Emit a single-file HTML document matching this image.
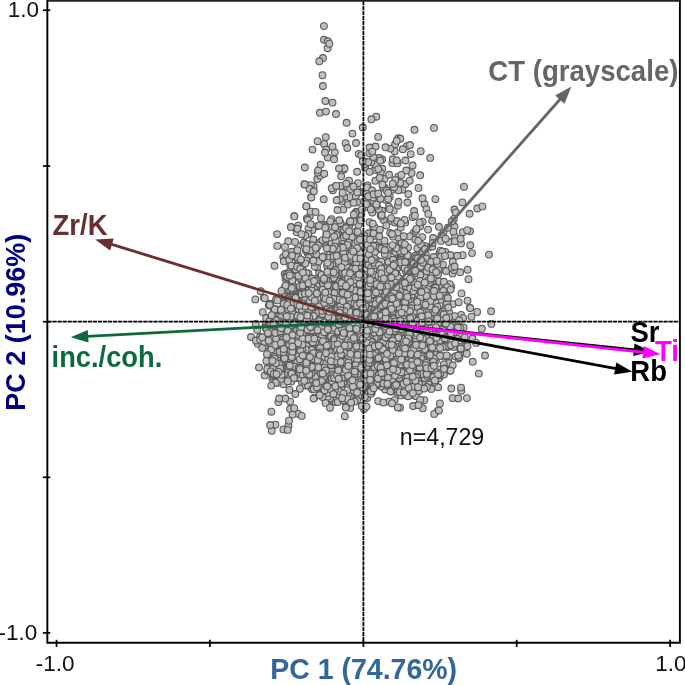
<!DOCTYPE html>
<html lang="en">
<head>
<meta charset="utf-8">
<title>PCA biplot</title>
<style>
html,body{margin:0;padding:0;background:#fff;}
body{width:685px;height:685px;overflow:hidden;}
svg{display:block;}
</style>
</head>
<body>
<svg width="685" height="685" viewBox="0 0 685 685" font-family='"Liberation Sans", Arial, Helvetica, sans-serif'>
<rect width="685" height="685" fill="#ffffff"/>
<g fill="#bfbfbf" stroke="#595959" stroke-width="1.1"><circle cx="305.6" cy="334.9" r="3.4"/><circle cx="431.6" cy="378.3" r="3.4"/><circle cx="257.6" cy="343.8" r="3.4"/><circle cx="365.7" cy="377.1" r="3.4"/><circle cx="421.4" cy="352.3" r="3.4"/><circle cx="318.6" cy="308.6" r="3.4"/><circle cx="326.3" cy="234.1" r="3.4"/><circle cx="375.0" cy="353.9" r="3.4"/><circle cx="389.3" cy="334.0" r="3.4"/><circle cx="371.8" cy="348.3" r="3.4"/><circle cx="420.7" cy="151.2" r="3.4"/><circle cx="416.9" cy="343.8" r="3.4"/><circle cx="370.2" cy="359.0" r="3.4"/><circle cx="381.7" cy="282.9" r="3.4"/><circle cx="328.6" cy="357.7" r="3.4"/><circle cx="397.6" cy="341.1" r="3.4"/><circle cx="325.7" cy="389.0" r="3.4"/><circle cx="401.5" cy="307.2" r="3.4"/><circle cx="315.9" cy="353.7" r="3.4"/><circle cx="337.4" cy="313.2" r="3.4"/><circle cx="339.4" cy="322.7" r="3.4"/><circle cx="363.7" cy="342.4" r="3.4"/><circle cx="283.7" cy="289.7" r="3.4"/><circle cx="348.9" cy="368.8" r="3.4"/><circle cx="364.1" cy="201.3" r="3.4"/><circle cx="403.6" cy="355.1" r="3.4"/><circle cx="370.2" cy="362.1" r="3.4"/><circle cx="407.9" cy="345.6" r="3.4"/><circle cx="365.7" cy="206.7" r="3.4"/><circle cx="296.6" cy="295.4" r="3.4"/><circle cx="429.0" cy="299.4" r="3.4"/><circle cx="393.7" cy="374.7" r="3.4"/><circle cx="389.6" cy="333.6" r="3.4"/><circle cx="355.9" cy="215.6" r="3.4"/><circle cx="302.1" cy="346.7" r="3.4"/><circle cx="336.4" cy="402.1" r="3.4"/><circle cx="368.4" cy="369.5" r="3.4"/><circle cx="406.2" cy="329.1" r="3.4"/><circle cx="436.1" cy="312.1" r="3.4"/><circle cx="352.0" cy="343.7" r="3.4"/><circle cx="439.4" cy="369.4" r="3.4"/><circle cx="371.5" cy="342.8" r="3.4"/><circle cx="419.2" cy="351.7" r="3.4"/><circle cx="370.6" cy="351.1" r="3.4"/><circle cx="362.1" cy="363.4" r="3.4"/><circle cx="273.6" cy="308.7" r="3.4"/><circle cx="284.7" cy="298.4" r="3.4"/><circle cx="340.3" cy="301.3" r="3.4"/><circle cx="424.8" cy="329.8" r="3.4"/><circle cx="427.9" cy="273.9" r="3.4"/><circle cx="326.7" cy="344.7" r="3.4"/><circle cx="407.9" cy="255.3" r="3.4"/><circle cx="304.5" cy="331.1" r="3.4"/><circle cx="397.5" cy="337.8" r="3.4"/><circle cx="342.9" cy="318.0" r="3.4"/><circle cx="409.0" cy="316.5" r="3.4"/><circle cx="282.1" cy="327.1" r="3.4"/><circle cx="411.7" cy="296.6" r="3.4"/><circle cx="387.0" cy="325.4" r="3.4"/><circle cx="306.1" cy="372.3" r="3.4"/><circle cx="276.9" cy="367.9" r="3.4"/><circle cx="367.3" cy="328.3" r="3.4"/><circle cx="384.5" cy="356.7" r="3.4"/><circle cx="264.2" cy="342.0" r="3.4"/><circle cx="389.1" cy="314.3" r="3.4"/><circle cx="375.5" cy="320.8" r="3.4"/><circle cx="415.9" cy="339.6" r="3.4"/><circle cx="313.6" cy="186.2" r="3.4"/><circle cx="340.9" cy="358.5" r="3.4"/><circle cx="288.2" cy="358.2" r="3.4"/><circle cx="411.6" cy="300.9" r="3.4"/><circle cx="341.6" cy="351.1" r="3.4"/><circle cx="317.4" cy="305.9" r="3.4"/><circle cx="373.1" cy="337.2" r="3.4"/><circle cx="366.6" cy="347.8" r="3.4"/><circle cx="437.4" cy="273.8" r="3.4"/><circle cx="311.1" cy="346.2" r="3.4"/><circle cx="410.0" cy="381.1" r="3.4"/><circle cx="390.2" cy="220.9" r="3.4"/><circle cx="415.4" cy="305.6" r="3.4"/><circle cx="350.1" cy="331.8" r="3.4"/><circle cx="372.7" cy="377.6" r="3.4"/><circle cx="437.4" cy="355.8" r="3.4"/><circle cx="318.8" cy="335.7" r="3.4"/><circle cx="299.5" cy="287.3" r="3.4"/><circle cx="438.0" cy="410.6" r="3.4"/><circle cx="290.1" cy="401.4" r="3.4"/><circle cx="326.0" cy="362.8" r="3.4"/><circle cx="412.1" cy="361.7" r="3.4"/><circle cx="415.8" cy="335.6" r="3.4"/><circle cx="391.5" cy="354.8" r="3.4"/><circle cx="311.1" cy="339.7" r="3.4"/><circle cx="390.0" cy="310.1" r="3.4"/><circle cx="310.1" cy="306.7" r="3.4"/><circle cx="423.1" cy="379.0" r="3.4"/><circle cx="380.9" cy="324.0" r="3.4"/><circle cx="440.4" cy="290.0" r="3.4"/><circle cx="337.3" cy="362.9" r="3.4"/><circle cx="352.5" cy="324.2" r="3.4"/><circle cx="378.1" cy="378.6" r="3.4"/><circle cx="399.1" cy="379.5" r="3.4"/><circle cx="330.7" cy="273.4" r="3.4"/><circle cx="457.2" cy="338.8" r="3.4"/><circle cx="286.0" cy="297.7" r="3.4"/><circle cx="332.8" cy="401.1" r="3.4"/><circle cx="398.0" cy="365.9" r="3.4"/><circle cx="281.4" cy="353.7" r="3.4"/><circle cx="364.4" cy="325.0" r="3.4"/><circle cx="448.8" cy="357.2" r="3.4"/><circle cx="390.8" cy="391.5" r="3.4"/><circle cx="349.2" cy="352.9" r="3.4"/><circle cx="356.0" cy="309.5" r="3.4"/><circle cx="361.6" cy="341.7" r="3.4"/><circle cx="338.5" cy="395.6" r="3.4"/><circle cx="373.6" cy="363.0" r="3.4"/><circle cx="368.2" cy="344.0" r="3.4"/><circle cx="364.8" cy="311.2" r="3.4"/><circle cx="399.1" cy="278.5" r="3.4"/><circle cx="413.4" cy="357.5" r="3.4"/><circle cx="299.1" cy="319.3" r="3.4"/><circle cx="373.3" cy="366.3" r="3.4"/><circle cx="339.7" cy="334.8" r="3.4"/><circle cx="371.2" cy="233.6" r="3.4"/><circle cx="405.9" cy="340.1" r="3.4"/><circle cx="325.1" cy="353.2" r="3.4"/><circle cx="331.3" cy="369.9" r="3.4"/><circle cx="370.9" cy="334.1" r="3.4"/><circle cx="406.6" cy="385.2" r="3.4"/><circle cx="390.2" cy="232.9" r="3.4"/><circle cx="408.6" cy="353.8" r="3.4"/><circle cx="380.1" cy="240.9" r="3.4"/><circle cx="376.6" cy="301.2" r="3.4"/><circle cx="364.8" cy="356.1" r="3.4"/><circle cx="355.4" cy="335.3" r="3.4"/><circle cx="333.6" cy="399.8" r="3.4"/><circle cx="291.8" cy="312.2" r="3.4"/><circle cx="337.3" cy="249.3" r="3.4"/><circle cx="338.1" cy="373.9" r="3.4"/><circle cx="392.2" cy="358.3" r="3.4"/><circle cx="317.7" cy="280.9" r="3.4"/><circle cx="354.1" cy="340.8" r="3.4"/><circle cx="353.7" cy="321.7" r="3.4"/><circle cx="320.0" cy="302.0" r="3.4"/><circle cx="349.1" cy="372.8" r="3.4"/><circle cx="341.2" cy="363.7" r="3.4"/><circle cx="324.2" cy="143.9" r="3.4"/><circle cx="337.7" cy="393.8" r="3.4"/><circle cx="416.0" cy="261.1" r="3.4"/><circle cx="327.4" cy="329.5" r="3.4"/><circle cx="375.7" cy="359.3" r="3.4"/><circle cx="491.4" cy="323.9" r="3.4"/><circle cx="394.7" cy="151.2" r="3.4"/><circle cx="324.7" cy="339.5" r="3.4"/><circle cx="308.1" cy="317.0" r="3.4"/><circle cx="333.0" cy="354.1" r="3.4"/><circle cx="305.4" cy="336.2" r="3.4"/><circle cx="270.4" cy="352.7" r="3.4"/><circle cx="353.7" cy="391.4" r="3.4"/><circle cx="368.8" cy="335.2" r="3.4"/><circle cx="362.5" cy="357.3" r="3.4"/><circle cx="371.1" cy="323.6" r="3.4"/><circle cx="349.7" cy="375.8" r="3.4"/><circle cx="324.0" cy="361.6" r="3.4"/><circle cx="381.3" cy="169.0" r="3.4"/><circle cx="268.8" cy="305.5" r="3.4"/><circle cx="371.4" cy="281.4" r="3.4"/><circle cx="443.5" cy="232.1" r="3.4"/><circle cx="436.4" cy="265.8" r="3.4"/><circle cx="354.4" cy="291.7" r="3.4"/><circle cx="330.4" cy="330.1" r="3.4"/><circle cx="392.4" cy="312.3" r="3.4"/><circle cx="332.0" cy="359.5" r="3.4"/><circle cx="452.6" cy="398.1" r="3.4"/><circle cx="289.0" cy="371.1" r="3.4"/><circle cx="440.6" cy="323.5" r="3.4"/><circle cx="326.7" cy="396.1" r="3.4"/><circle cx="420.6" cy="309.8" r="3.4"/><circle cx="379.9" cy="355.3" r="3.4"/><circle cx="337.1" cy="307.3" r="3.4"/><circle cx="434.2" cy="413.9" r="3.4"/><circle cx="319.4" cy="345.6" r="3.4"/><circle cx="398.4" cy="362.4" r="3.4"/><circle cx="340.7" cy="356.8" r="3.4"/><circle cx="351.1" cy="358.6" r="3.4"/><circle cx="395.0" cy="303.2" r="3.4"/><circle cx="343.3" cy="209.6" r="3.4"/><circle cx="320.9" cy="352.2" r="3.4"/><circle cx="332.4" cy="342.0" r="3.4"/><circle cx="366.0" cy="286.4" r="3.4"/><circle cx="351.5" cy="287.0" r="3.4"/><circle cx="343.8" cy="370.4" r="3.4"/><circle cx="394.3" cy="374.1" r="3.4"/><circle cx="349.1" cy="369.4" r="3.4"/><circle cx="348.9" cy="360.2" r="3.4"/><circle cx="318.9" cy="277.4" r="3.4"/><circle cx="315.9" cy="264.1" r="3.4"/><circle cx="401.0" cy="395.4" r="3.4"/><circle cx="401.9" cy="372.4" r="3.4"/><circle cx="413.8" cy="395.3" r="3.4"/><circle cx="314.3" cy="397.6" r="3.4"/><circle cx="367.6" cy="278.3" r="3.4"/><circle cx="367.1" cy="388.0" r="3.4"/><circle cx="445.6" cy="333.1" r="3.4"/><circle cx="288.7" cy="341.1" r="3.4"/><circle cx="257.2" cy="329.9" r="3.4"/><circle cx="274.2" cy="330.6" r="3.4"/><circle cx="421.0" cy="349.7" r="3.4"/><circle cx="353.9" cy="334.5" r="3.4"/><circle cx="400.6" cy="255.0" r="3.4"/><circle cx="315.7" cy="315.2" r="3.4"/><circle cx="373.3" cy="352.2" r="3.4"/><circle cx="341.3" cy="363.6" r="3.4"/><circle cx="378.0" cy="382.9" r="3.4"/><circle cx="370.8" cy="335.0" r="3.4"/><circle cx="436.1" cy="372.9" r="3.4"/><circle cx="440.9" cy="314.3" r="3.4"/><circle cx="407.9" cy="382.5" r="3.4"/><circle cx="355.4" cy="313.7" r="3.4"/><circle cx="335.2" cy="333.1" r="3.4"/><circle cx="405.9" cy="327.5" r="3.4"/><circle cx="425.4" cy="355.4" r="3.4"/><circle cx="384.4" cy="367.8" r="3.4"/><circle cx="335.5" cy="331.3" r="3.4"/><circle cx="361.7" cy="366.5" r="3.4"/><circle cx="312.4" cy="306.1" r="3.4"/><circle cx="368.8" cy="233.3" r="3.4"/><circle cx="292.3" cy="332.6" r="3.4"/><circle cx="379.5" cy="366.7" r="3.4"/><circle cx="361.6" cy="347.9" r="3.4"/><circle cx="372.5" cy="345.7" r="3.4"/><circle cx="280.3" cy="324.4" r="3.4"/><circle cx="376.1" cy="275.8" r="3.4"/><circle cx="352.2" cy="329.3" r="3.4"/><circle cx="341.4" cy="359.8" r="3.4"/><circle cx="356.4" cy="383.4" r="3.4"/><circle cx="366.8" cy="385.8" r="3.4"/><circle cx="394.0" cy="349.8" r="3.4"/><circle cx="332.9" cy="337.2" r="3.4"/><circle cx="338.9" cy="277.7" r="3.4"/><circle cx="332.2" cy="327.0" r="3.4"/><circle cx="346.3" cy="373.5" r="3.4"/><circle cx="315.5" cy="350.6" r="3.4"/><circle cx="376.1" cy="260.0" r="3.4"/><circle cx="344.0" cy="329.7" r="3.4"/><circle cx="334.6" cy="386.4" r="3.4"/><circle cx="376.0" cy="349.7" r="3.4"/><circle cx="357.1" cy="374.9" r="3.4"/><circle cx="362.9" cy="356.6" r="3.4"/><circle cx="345.6" cy="386.2" r="3.4"/><circle cx="370.1" cy="360.4" r="3.4"/><circle cx="433.7" cy="355.9" r="3.4"/><circle cx="320.1" cy="375.6" r="3.4"/><circle cx="357.6" cy="360.3" r="3.4"/><circle cx="347.5" cy="347.3" r="3.4"/><circle cx="352.5" cy="349.4" r="3.4"/><circle cx="359.4" cy="302.0" r="3.4"/><circle cx="430.1" cy="246.9" r="3.4"/><circle cx="360.4" cy="338.7" r="3.4"/><circle cx="428.0" cy="329.9" r="3.4"/><circle cx="342.9" cy="243.8" r="3.4"/><circle cx="434.7" cy="352.3" r="3.4"/><circle cx="373.8" cy="315.0" r="3.4"/><circle cx="341.5" cy="381.6" r="3.4"/><circle cx="332.3" cy="328.6" r="3.4"/><circle cx="358.1" cy="310.8" r="3.4"/><circle cx="311.2" cy="388.1" r="3.4"/><circle cx="304.4" cy="289.3" r="3.4"/><circle cx="286.8" cy="360.2" r="3.4"/><circle cx="417.6" cy="381.3" r="3.4"/><circle cx="355.2" cy="357.8" r="3.4"/><circle cx="377.7" cy="350.7" r="3.4"/><circle cx="438.9" cy="410.4" r="3.4"/><circle cx="334.4" cy="317.5" r="3.4"/><circle cx="405.6" cy="360.4" r="3.4"/><circle cx="302.5" cy="270.5" r="3.4"/><circle cx="290.8" cy="349.0" r="3.4"/><circle cx="330.5" cy="378.5" r="3.4"/><circle cx="371.2" cy="359.4" r="3.4"/><circle cx="310.3" cy="347.7" r="3.4"/><circle cx="262.2" cy="342.7" r="3.4"/><circle cx="372.0" cy="357.1" r="3.4"/><circle cx="366.9" cy="328.1" r="3.4"/><circle cx="392.7" cy="381.0" r="3.4"/><circle cx="368.1" cy="345.1" r="3.4"/><circle cx="441.5" cy="235.5" r="3.4"/><circle cx="331.5" cy="366.9" r="3.4"/><circle cx="384.7" cy="366.2" r="3.4"/><circle cx="389.6" cy="351.4" r="3.4"/><circle cx="341.9" cy="394.6" r="3.4"/><circle cx="379.3" cy="354.5" r="3.4"/><circle cx="346.5" cy="354.8" r="3.4"/><circle cx="287.3" cy="330.7" r="3.4"/><circle cx="341.8" cy="335.9" r="3.4"/><circle cx="375.7" cy="350.8" r="3.4"/><circle cx="458.3" cy="358.5" r="3.4"/><circle cx="275.4" cy="353.5" r="3.4"/><circle cx="363.9" cy="340.6" r="3.4"/><circle cx="367.3" cy="322.0" r="3.4"/><circle cx="359.8" cy="363.4" r="3.4"/><circle cx="292.2" cy="290.7" r="3.4"/><circle cx="360.7" cy="396.3" r="3.4"/><circle cx="420.1" cy="365.8" r="3.4"/><circle cx="350.4" cy="322.2" r="3.4"/><circle cx="406.0" cy="395.2" r="3.4"/><circle cx="396.9" cy="252.6" r="3.4"/><circle cx="349.3" cy="324.3" r="3.4"/><circle cx="405.9" cy="374.5" r="3.4"/><circle cx="307.0" cy="352.8" r="3.4"/><circle cx="429.6" cy="339.6" r="3.4"/><circle cx="403.4" cy="362.6" r="3.4"/><circle cx="384.1" cy="307.0" r="3.4"/><circle cx="334.4" cy="346.0" r="3.4"/><circle cx="433.2" cy="238.0" r="3.4"/><circle cx="297.2" cy="293.5" r="3.4"/><circle cx="400.3" cy="374.3" r="3.4"/><circle cx="389.8" cy="378.1" r="3.4"/><circle cx="364.4" cy="349.0" r="3.4"/><circle cx="314.5" cy="348.0" r="3.4"/><circle cx="411.5" cy="261.3" r="3.4"/><circle cx="364.8" cy="364.0" r="3.4"/><circle cx="394.1" cy="337.6" r="3.4"/><circle cx="396.9" cy="289.9" r="3.4"/><circle cx="411.6" cy="173.1" r="3.4"/><circle cx="416.0" cy="328.4" r="3.4"/><circle cx="321.5" cy="379.3" r="3.4"/><circle cx="337.7" cy="394.2" r="3.4"/><circle cx="343.7" cy="249.2" r="3.4"/><circle cx="460.3" cy="346.9" r="3.4"/><circle cx="302.7" cy="300.7" r="3.4"/><circle cx="419.2" cy="368.5" r="3.4"/><circle cx="395.2" cy="378.2" r="3.4"/><circle cx="353.9" cy="354.8" r="3.4"/><circle cx="380.4" cy="377.9" r="3.4"/><circle cx="352.5" cy="329.0" r="3.4"/><circle cx="292.1" cy="318.1" r="3.4"/><circle cx="373.5" cy="201.1" r="3.4"/><circle cx="268.4" cy="365.5" r="3.4"/><circle cx="341.5" cy="314.9" r="3.4"/><circle cx="285.6" cy="278.7" r="3.4"/><circle cx="352.3" cy="364.3" r="3.4"/><circle cx="332.1" cy="367.6" r="3.4"/><circle cx="367.4" cy="337.3" r="3.4"/><circle cx="273.0" cy="364.3" r="3.4"/><circle cx="405.1" cy="281.7" r="3.4"/><circle cx="400.8" cy="282.7" r="3.4"/><circle cx="333.8" cy="277.5" r="3.4"/><circle cx="405.7" cy="271.1" r="3.4"/><circle cx="376.6" cy="323.8" r="3.4"/><circle cx="361.1" cy="317.3" r="3.4"/><circle cx="340.2" cy="257.4" r="3.4"/><circle cx="288.9" cy="310.1" r="3.4"/><circle cx="407.2" cy="364.9" r="3.4"/><circle cx="304.1" cy="328.8" r="3.4"/><circle cx="335.7" cy="339.6" r="3.4"/><circle cx="419.7" cy="285.4" r="3.4"/><circle cx="329.8" cy="396.3" r="3.4"/><circle cx="331.9" cy="341.2" r="3.4"/><circle cx="355.0" cy="264.2" r="3.4"/><circle cx="344.1" cy="368.8" r="3.4"/><circle cx="390.2" cy="330.2" r="3.4"/><circle cx="382.2" cy="159.5" r="3.4"/><circle cx="322.9" cy="86.0" r="3.4"/><circle cx="325.2" cy="257.6" r="3.4"/><circle cx="334.4" cy="331.3" r="3.4"/><circle cx="307.6" cy="252.9" r="3.4"/><circle cx="365.7" cy="349.0" r="3.4"/><circle cx="390.8" cy="373.7" r="3.4"/><circle cx="393.1" cy="347.9" r="3.4"/><circle cx="350.1" cy="197.2" r="3.4"/><circle cx="368.8" cy="266.0" r="3.4"/><circle cx="360.9" cy="308.9" r="3.4"/><circle cx="375.1" cy="289.8" r="3.4"/><circle cx="374.5" cy="264.1" r="3.4"/><circle cx="345.7" cy="313.9" r="3.4"/><circle cx="403.5" cy="374.1" r="3.4"/><circle cx="308.2" cy="371.3" r="3.4"/><circle cx="350.9" cy="312.7" r="3.4"/><circle cx="341.2" cy="372.1" r="3.4"/><circle cx="363.0" cy="388.9" r="3.4"/><circle cx="392.7" cy="311.6" r="3.4"/><circle cx="323.8" cy="320.2" r="3.4"/><circle cx="311.9" cy="388.2" r="3.4"/><circle cx="303.3" cy="329.4" r="3.4"/><circle cx="308.7" cy="282.0" r="3.4"/><circle cx="426.1" cy="257.8" r="3.4"/><circle cx="365.1" cy="167.6" r="3.4"/><circle cx="378.8" cy="355.5" r="3.4"/><circle cx="317.6" cy="358.0" r="3.4"/><circle cx="366.5" cy="349.9" r="3.4"/><circle cx="366.0" cy="290.6" r="3.4"/><circle cx="307.0" cy="362.6" r="3.4"/><circle cx="301.4" cy="287.9" r="3.4"/><circle cx="277.3" cy="245.9" r="3.4"/><circle cx="373.8" cy="367.6" r="3.4"/><circle cx="295.3" cy="340.9" r="3.4"/><circle cx="405.2" cy="251.8" r="3.4"/><circle cx="359.2" cy="320.9" r="3.4"/><circle cx="298.8" cy="359.0" r="3.4"/><circle cx="432.5" cy="357.1" r="3.4"/><circle cx="455.7" cy="356.3" r="3.4"/><circle cx="436.5" cy="343.8" r="3.4"/><circle cx="295.3" cy="359.9" r="3.4"/><circle cx="416.7" cy="338.2" r="3.4"/><circle cx="393.4" cy="276.9" r="3.4"/><circle cx="337.0" cy="335.7" r="3.4"/><circle cx="301.7" cy="313.5" r="3.4"/><circle cx="414.9" cy="323.0" r="3.4"/><circle cx="349.5" cy="386.1" r="3.4"/><circle cx="386.2" cy="335.4" r="3.4"/><circle cx="367.0" cy="333.1" r="3.4"/><circle cx="352.9" cy="388.8" r="3.4"/><circle cx="307.4" cy="321.9" r="3.4"/><circle cx="306.8" cy="302.6" r="3.4"/><circle cx="404.3" cy="284.3" r="3.4"/><circle cx="415.4" cy="321.1" r="3.4"/><circle cx="376.1" cy="245.3" r="3.4"/><circle cx="340.2" cy="360.2" r="3.4"/><circle cx="313.7" cy="353.4" r="3.4"/><circle cx="319.2" cy="368.9" r="3.4"/><circle cx="352.3" cy="233.3" r="3.4"/><circle cx="355.6" cy="367.6" r="3.4"/><circle cx="395.0" cy="339.4" r="3.4"/><circle cx="322.9" cy="58.0" r="3.4"/><circle cx="340.6" cy="185.9" r="3.4"/><circle cx="387.7" cy="338.3" r="3.4"/><circle cx="336.2" cy="358.7" r="3.4"/><circle cx="421.7" cy="351.8" r="3.4"/><circle cx="319.1" cy="273.0" r="3.4"/><circle cx="351.6" cy="356.8" r="3.4"/><circle cx="378.3" cy="314.3" r="3.4"/><circle cx="422.8" cy="327.2" r="3.4"/><circle cx="380.0" cy="362.3" r="3.4"/><circle cx="407.0" cy="336.9" r="3.4"/><circle cx="401.1" cy="335.8" r="3.4"/><circle cx="369.4" cy="322.7" r="3.4"/><circle cx="427.5" cy="369.4" r="3.4"/><circle cx="358.8" cy="371.8" r="3.4"/><circle cx="365.2" cy="322.2" r="3.4"/><circle cx="351.9" cy="319.0" r="3.4"/><circle cx="411.7" cy="358.1" r="3.4"/><circle cx="330.9" cy="388.4" r="3.4"/><circle cx="395.1" cy="379.9" r="3.4"/><circle cx="267.8" cy="337.2" r="3.4"/><circle cx="305.8" cy="322.0" r="3.4"/><circle cx="351.4" cy="381.2" r="3.4"/><circle cx="357.0" cy="333.9" r="3.4"/><circle cx="312.1" cy="351.4" r="3.4"/><circle cx="361.0" cy="356.0" r="3.4"/><circle cx="328.9" cy="291.4" r="3.4"/><circle cx="325.4" cy="370.7" r="3.4"/><circle cx="343.5" cy="363.5" r="3.4"/><circle cx="402.2" cy="387.3" r="3.4"/><circle cx="298.2" cy="413.8" r="3.4"/><circle cx="343.9" cy="355.1" r="3.4"/><circle cx="408.5" cy="299.6" r="3.4"/><circle cx="406.5" cy="320.1" r="3.4"/><circle cx="294.3" cy="216.1" r="3.4"/><circle cx="418.2" cy="351.9" r="3.4"/><circle cx="367.1" cy="323.9" r="3.4"/><circle cx="382.0" cy="371.8" r="3.4"/><circle cx="448.0" cy="347.0" r="3.4"/><circle cx="338.0" cy="247.3" r="3.4"/><circle cx="338.6" cy="279.2" r="3.4"/><circle cx="318.8" cy="348.5" r="3.4"/><circle cx="418.5" cy="318.0" r="3.4"/><circle cx="431.0" cy="380.7" r="3.4"/><circle cx="353.8" cy="335.6" r="3.4"/><circle cx="394.3" cy="391.6" r="3.4"/><circle cx="333.9" cy="329.3" r="3.4"/><circle cx="454.7" cy="236.4" r="3.4"/><circle cx="367.4" cy="356.0" r="3.4"/><circle cx="375.5" cy="340.6" r="3.4"/><circle cx="373.0" cy="326.2" r="3.4"/><circle cx="373.3" cy="318.1" r="3.4"/><circle cx="368.3" cy="350.1" r="3.4"/><circle cx="388.5" cy="334.1" r="3.4"/><circle cx="349.0" cy="348.2" r="3.4"/><circle cx="409.3" cy="351.3" r="3.4"/><circle cx="364.9" cy="338.8" r="3.4"/><circle cx="352.3" cy="343.5" r="3.4"/><circle cx="365.2" cy="362.0" r="3.4"/><circle cx="300.7" cy="310.8" r="3.4"/><circle cx="351.0" cy="356.7" r="3.4"/><circle cx="353.5" cy="345.0" r="3.4"/><circle cx="396.9" cy="250.6" r="3.4"/><circle cx="303.7" cy="333.2" r="3.4"/><circle cx="409.3" cy="342.2" r="3.4"/><circle cx="278.4" cy="402.1" r="3.4"/><circle cx="349.4" cy="349.1" r="3.4"/><circle cx="451.2" cy="286.6" r="3.4"/><circle cx="301.9" cy="382.0" r="3.4"/><circle cx="391.4" cy="329.0" r="3.4"/><circle cx="290.1" cy="409.0" r="3.4"/><circle cx="262.7" cy="312.1" r="3.4"/><circle cx="352.4" cy="294.1" r="3.4"/><circle cx="398.5" cy="339.4" r="3.4"/><circle cx="383.9" cy="302.0" r="3.4"/><circle cx="347.4" cy="264.9" r="3.4"/><circle cx="366.8" cy="366.3" r="3.4"/><circle cx="395.5" cy="249.4" r="3.4"/><circle cx="399.2" cy="366.0" r="3.4"/><circle cx="410.7" cy="320.4" r="3.4"/><circle cx="350.1" cy="290.4" r="3.4"/><circle cx="344.8" cy="382.4" r="3.4"/><circle cx="430.4" cy="278.9" r="3.4"/><circle cx="461.0" cy="243.4" r="3.4"/><circle cx="416.3" cy="339.9" r="3.4"/><circle cx="286.4" cy="293.1" r="3.4"/><circle cx="420.6" cy="351.2" r="3.4"/><circle cx="316.6" cy="263.2" r="3.4"/><circle cx="340.5" cy="370.3" r="3.4"/><circle cx="357.9" cy="396.0" r="3.4"/><circle cx="379.7" cy="330.1" r="3.4"/><circle cx="305.7" cy="275.9" r="3.4"/><circle cx="287.4" cy="290.7" r="3.4"/><circle cx="342.7" cy="342.1" r="3.4"/><circle cx="314.1" cy="356.7" r="3.4"/><circle cx="379.1" cy="331.6" r="3.4"/><circle cx="306.8" cy="294.5" r="3.4"/><circle cx="340.8" cy="224.4" r="3.4"/><circle cx="357.2" cy="382.5" r="3.4"/><circle cx="363.2" cy="263.9" r="3.4"/><circle cx="381.5" cy="361.8" r="3.4"/><circle cx="399.2" cy="386.5" r="3.4"/><circle cx="413.4" cy="233.1" r="3.4"/><circle cx="338.7" cy="273.5" r="3.4"/><circle cx="424.3" cy="246.1" r="3.4"/><circle cx="365.0" cy="293.6" r="3.4"/><circle cx="356.8" cy="377.6" r="3.4"/><circle cx="414.0" cy="326.6" r="3.4"/><circle cx="355.9" cy="333.1" r="3.4"/><circle cx="333.9" cy="335.9" r="3.4"/><circle cx="359.0" cy="340.1" r="3.4"/><circle cx="414.6" cy="341.5" r="3.4"/><circle cx="289.0" cy="310.6" r="3.4"/><circle cx="347.3" cy="274.0" r="3.4"/><circle cx="341.7" cy="321.0" r="3.4"/><circle cx="337.1" cy="363.7" r="3.4"/><circle cx="276.8" cy="369.9" r="3.4"/><circle cx="350.4" cy="319.9" r="3.4"/><circle cx="402.1" cy="189.7" r="3.4"/><circle cx="383.4" cy="360.3" r="3.4"/><circle cx="420.5" cy="319.8" r="3.4"/><circle cx="319.5" cy="316.3" r="3.4"/><circle cx="443.9" cy="318.9" r="3.4"/><circle cx="348.3" cy="362.6" r="3.4"/><circle cx="305.3" cy="330.6" r="3.4"/><circle cx="351.2" cy="373.7" r="3.4"/><circle cx="328.1" cy="299.0" r="3.4"/><circle cx="368.7" cy="264.7" r="3.4"/><circle cx="350.2" cy="407.9" r="3.4"/><circle cx="286.5" cy="361.6" r="3.4"/><circle cx="366.0" cy="333.6" r="3.4"/><circle cx="375.0" cy="317.2" r="3.4"/><circle cx="350.1" cy="364.7" r="3.4"/><circle cx="420.0" cy="354.9" r="3.4"/><circle cx="489.0" cy="254.6" r="3.4"/><circle cx="367.4" cy="310.7" r="3.4"/><circle cx="334.6" cy="371.9" r="3.4"/><circle cx="346.5" cy="362.2" r="3.4"/><circle cx="423.6" cy="379.2" r="3.4"/><circle cx="289.3" cy="303.0" r="3.4"/><circle cx="395.6" cy="373.7" r="3.4"/><circle cx="308.1" cy="329.5" r="3.4"/><circle cx="329.6" cy="352.9" r="3.4"/><circle cx="344.2" cy="308.1" r="3.4"/><circle cx="315.3" cy="363.2" r="3.4"/><circle cx="293.5" cy="337.0" r="3.4"/><circle cx="368.0" cy="361.8" r="3.4"/><circle cx="289.6" cy="347.1" r="3.4"/><circle cx="424.5" cy="204.0" r="3.4"/><circle cx="367.0" cy="360.9" r="3.4"/><circle cx="392.9" cy="377.9" r="3.4"/><circle cx="298.9" cy="375.8" r="3.4"/><circle cx="351.1" cy="364.0" r="3.4"/><circle cx="351.6" cy="353.1" r="3.4"/><circle cx="309.2" cy="354.0" r="3.4"/><circle cx="420.3" cy="362.3" r="3.4"/><circle cx="362.9" cy="290.7" r="3.4"/><circle cx="395.3" cy="355.5" r="3.4"/><circle cx="310.1" cy="308.4" r="3.4"/><circle cx="326.8" cy="336.9" r="3.4"/><circle cx="356.0" cy="307.7" r="3.4"/><circle cx="324.0" cy="39.8" r="3.4"/><circle cx="363.7" cy="333.9" r="3.4"/><circle cx="315.2" cy="318.1" r="3.4"/><circle cx="299.8" cy="356.2" r="3.4"/><circle cx="309.3" cy="322.4" r="3.4"/><circle cx="283.7" cy="353.7" r="3.4"/><circle cx="353.0" cy="284.1" r="3.4"/><circle cx="394.6" cy="400.1" r="3.4"/><circle cx="329.9" cy="379.4" r="3.4"/><circle cx="369.0" cy="336.2" r="3.4"/><circle cx="342.6" cy="328.6" r="3.4"/><circle cx="326.0" cy="322.2" r="3.4"/><circle cx="411.9" cy="262.9" r="3.4"/><circle cx="335.7" cy="186.3" r="3.4"/><circle cx="423.2" cy="311.4" r="3.4"/><circle cx="296.3" cy="307.6" r="3.4"/><circle cx="331.8" cy="391.3" r="3.4"/><circle cx="367.6" cy="360.6" r="3.4"/><circle cx="333.3" cy="362.3" r="3.4"/><circle cx="412.6" cy="322.5" r="3.4"/><circle cx="270.1" cy="348.6" r="3.4"/><circle cx="264.0" cy="297.7" r="3.4"/><circle cx="292.2" cy="352.1" r="3.4"/><circle cx="419.3" cy="373.2" r="3.4"/><circle cx="375.5" cy="350.7" r="3.4"/><circle cx="307.8" cy="304.9" r="3.4"/><circle cx="369.6" cy="328.3" r="3.4"/><circle cx="393.0" cy="352.0" r="3.4"/><circle cx="349.4" cy="363.9" r="3.4"/><circle cx="381.4" cy="346.9" r="3.4"/><circle cx="415.9" cy="331.0" r="3.4"/><circle cx="378.6" cy="351.8" r="3.4"/><circle cx="297.9" cy="255.1" r="3.4"/><circle cx="357.6" cy="334.7" r="3.4"/><circle cx="384.7" cy="357.5" r="3.4"/><circle cx="401.4" cy="358.8" r="3.4"/><circle cx="265.4" cy="345.0" r="3.4"/><circle cx="272.9" cy="337.7" r="3.4"/><circle cx="374.6" cy="326.9" r="3.4"/><circle cx="430.9" cy="373.3" r="3.4"/><circle cx="287.0" cy="315.8" r="3.4"/><circle cx="417.0" cy="337.2" r="3.4"/><circle cx="338.8" cy="288.8" r="3.4"/><circle cx="412.4" cy="370.0" r="3.4"/><circle cx="345.7" cy="319.2" r="3.4"/><circle cx="393.9" cy="299.9" r="3.4"/><circle cx="283.3" cy="257.1" r="3.4"/><circle cx="405.5" cy="184.0" r="3.4"/><circle cx="409.5" cy="270.2" r="3.4"/><circle cx="409.2" cy="356.6" r="3.4"/><circle cx="406.2" cy="170.5" r="3.4"/><circle cx="381.8" cy="247.1" r="3.4"/><circle cx="461.1" cy="314.9" r="3.4"/><circle cx="424.9" cy="246.2" r="3.4"/><circle cx="383.1" cy="343.6" r="3.4"/><circle cx="391.5" cy="284.4" r="3.4"/><circle cx="341.7" cy="376.2" r="3.4"/><circle cx="270.3" cy="337.7" r="3.4"/><circle cx="400.9" cy="328.1" r="3.4"/><circle cx="421.8" cy="356.7" r="3.4"/><circle cx="305.3" cy="372.8" r="3.4"/><circle cx="402.2" cy="363.0" r="3.4"/><circle cx="305.2" cy="385.5" r="3.4"/><circle cx="288.1" cy="338.5" r="3.4"/><circle cx="328.2" cy="386.3" r="3.4"/><circle cx="322.7" cy="357.7" r="3.4"/><circle cx="406.8" cy="366.4" r="3.4"/><circle cx="320.2" cy="369.5" r="3.4"/><circle cx="323.5" cy="337.9" r="3.4"/><circle cx="393.7" cy="331.3" r="3.4"/><circle cx="366.1" cy="318.4" r="3.4"/><circle cx="359.2" cy="368.2" r="3.4"/><circle cx="313.9" cy="375.1" r="3.4"/><circle cx="400.1" cy="324.1" r="3.4"/><circle cx="341.8" cy="333.0" r="3.4"/><circle cx="378.9" cy="332.9" r="3.4"/><circle cx="403.0" cy="385.6" r="3.4"/><circle cx="313.9" cy="323.7" r="3.4"/><circle cx="311.7" cy="230.2" r="3.4"/><circle cx="317.0" cy="306.6" r="3.4"/><circle cx="389.6" cy="367.7" r="3.4"/><circle cx="431.2" cy="341.0" r="3.4"/><circle cx="340.4" cy="347.1" r="3.4"/><circle cx="389.9" cy="379.2" r="3.4"/><circle cx="426.3" cy="354.4" r="3.4"/><circle cx="373.4" cy="295.8" r="3.4"/><circle cx="416.7" cy="338.3" r="3.4"/><circle cx="371.9" cy="254.9" r="3.4"/><circle cx="372.6" cy="356.0" r="3.4"/><circle cx="335.7" cy="357.7" r="3.4"/><circle cx="312.0" cy="362.2" r="3.4"/><circle cx="442.3" cy="286.3" r="3.4"/><circle cx="298.9" cy="346.4" r="3.4"/><circle cx="383.1" cy="366.9" r="3.4"/><circle cx="382.3" cy="168.8" r="3.4"/><circle cx="352.3" cy="358.2" r="3.4"/><circle cx="290.4" cy="314.4" r="3.4"/><circle cx="405.5" cy="347.9" r="3.4"/><circle cx="295.8" cy="323.7" r="3.4"/><circle cx="406.7" cy="146.2" r="3.4"/><circle cx="444.2" cy="292.1" r="3.4"/><circle cx="302.1" cy="319.2" r="3.4"/><circle cx="418.5" cy="187.9" r="3.4"/><circle cx="270.6" cy="371.6" r="3.4"/><circle cx="374.5" cy="376.4" r="3.4"/><circle cx="397.6" cy="363.4" r="3.4"/><circle cx="311.1" cy="359.7" r="3.4"/><circle cx="264.7" cy="375.4" r="3.4"/><circle cx="322.8" cy="295.7" r="3.4"/><circle cx="364.3" cy="295.8" r="3.4"/><circle cx="331.6" cy="350.2" r="3.4"/><circle cx="443.9" cy="339.2" r="3.4"/><circle cx="377.5" cy="347.9" r="3.4"/><circle cx="331.6" cy="311.3" r="3.4"/><circle cx="312.1" cy="373.0" r="3.4"/><circle cx="350.6" cy="363.9" r="3.4"/><circle cx="345.0" cy="229.9" r="3.4"/><circle cx="360.2" cy="340.8" r="3.4"/><circle cx="305.8" cy="311.0" r="3.4"/><circle cx="405.5" cy="366.4" r="3.4"/><circle cx="387.0" cy="374.1" r="3.4"/><circle cx="324.4" cy="297.4" r="3.4"/><circle cx="334.4" cy="335.3" r="3.4"/><circle cx="299.7" cy="342.3" r="3.4"/><circle cx="450.3" cy="320.3" r="3.4"/><circle cx="327.6" cy="349.9" r="3.4"/><circle cx="347.2" cy="265.5" r="3.4"/><circle cx="286.5" cy="328.2" r="3.4"/><circle cx="358.9" cy="354.2" r="3.4"/><circle cx="351.9" cy="356.9" r="3.4"/><circle cx="415.5" cy="377.3" r="3.4"/><circle cx="420.3" cy="312.9" r="3.4"/><circle cx="285.1" cy="296.5" r="3.4"/><circle cx="385.6" cy="347.6" r="3.4"/><circle cx="385.3" cy="263.4" r="3.4"/><circle cx="324.6" cy="304.7" r="3.4"/><circle cx="403.7" cy="323.6" r="3.4"/><circle cx="301.0" cy="298.7" r="3.4"/><circle cx="424.6" cy="383.6" r="3.4"/><circle cx="374.8" cy="329.6" r="3.4"/><circle cx="328.2" cy="370.8" r="3.4"/><circle cx="368.8" cy="355.4" r="3.4"/><circle cx="352.2" cy="347.5" r="3.4"/><circle cx="347.7" cy="296.8" r="3.4"/><circle cx="381.1" cy="341.0" r="3.4"/><circle cx="360.4" cy="318.1" r="3.4"/><circle cx="268.6" cy="336.6" r="3.4"/><circle cx="320.7" cy="338.0" r="3.4"/><circle cx="410.2" cy="347.4" r="3.4"/><circle cx="305.8" cy="366.0" r="3.4"/><circle cx="324.8" cy="225.0" r="3.4"/><circle cx="374.0" cy="196.6" r="3.4"/><circle cx="394.9" cy="366.3" r="3.4"/><circle cx="400.1" cy="303.8" r="3.4"/><circle cx="422.5" cy="198.3" r="3.4"/><circle cx="335.7" cy="254.0" r="3.4"/><circle cx="409.6" cy="292.1" r="3.4"/><circle cx="284.5" cy="349.6" r="3.4"/><circle cx="356.4" cy="353.4" r="3.4"/><circle cx="314.3" cy="322.6" r="3.4"/><circle cx="356.9" cy="351.1" r="3.4"/><circle cx="391.4" cy="352.8" r="3.4"/><circle cx="391.9" cy="270.3" r="3.4"/><circle cx="405.7" cy="364.4" r="3.4"/><circle cx="430.7" cy="277.1" r="3.4"/><circle cx="315.4" cy="320.4" r="3.4"/><circle cx="390.1" cy="346.9" r="3.4"/><circle cx="396.5" cy="339.2" r="3.4"/><circle cx="394.2" cy="383.7" r="3.4"/><circle cx="311.2" cy="370.0" r="3.4"/><circle cx="410.3" cy="334.2" r="3.4"/><circle cx="321.8" cy="309.1" r="3.4"/><circle cx="344.0" cy="343.2" r="3.4"/><circle cx="470.0" cy="231.3" r="3.4"/><circle cx="311.5" cy="371.2" r="3.4"/><circle cx="449.9" cy="289.4" r="3.4"/><circle cx="357.2" cy="348.3" r="3.4"/><circle cx="421.2" cy="355.2" r="3.4"/><circle cx="405.4" cy="381.9" r="3.4"/><circle cx="277.9" cy="363.4" r="3.4"/><circle cx="347.4" cy="186.8" r="3.4"/><circle cx="341.5" cy="357.0" r="3.4"/><circle cx="350.6" cy="353.2" r="3.4"/><circle cx="415.7" cy="329.0" r="3.4"/><circle cx="333.5" cy="371.2" r="3.4"/><circle cx="388.4" cy="344.3" r="3.4"/><circle cx="389.9" cy="312.8" r="3.4"/><circle cx="345.6" cy="359.2" r="3.4"/><circle cx="426.9" cy="363.0" r="3.4"/><circle cx="325.9" cy="226.5" r="3.4"/><circle cx="333.4" cy="298.0" r="3.4"/><circle cx="306.6" cy="373.6" r="3.4"/><circle cx="418.4" cy="368.9" r="3.4"/><circle cx="288.0" cy="298.0" r="3.4"/><circle cx="308.4" cy="273.4" r="3.4"/><circle cx="279.0" cy="341.6" r="3.4"/><circle cx="315.9" cy="382.2" r="3.4"/><circle cx="381.7" cy="384.4" r="3.4"/><circle cx="354.8" cy="394.0" r="3.4"/><circle cx="400.2" cy="240.9" r="3.4"/><circle cx="337.0" cy="330.8" r="3.4"/><circle cx="351.4" cy="386.0" r="3.4"/><circle cx="355.8" cy="357.6" r="3.4"/><circle cx="321.5" cy="362.3" r="3.4"/><circle cx="409.7" cy="364.5" r="3.4"/><circle cx="332.4" cy="338.6" r="3.4"/><circle cx="346.3" cy="369.3" r="3.4"/><circle cx="356.3" cy="344.9" r="3.4"/><circle cx="330.2" cy="344.9" r="3.4"/><circle cx="299.9" cy="286.0" r="3.4"/><circle cx="321.7" cy="357.4" r="3.4"/><circle cx="368.1" cy="358.3" r="3.4"/><circle cx="422.6" cy="268.3" r="3.4"/><circle cx="286.0" cy="366.4" r="3.4"/><circle cx="419.9" cy="336.4" r="3.4"/><circle cx="359.9" cy="373.1" r="3.4"/><circle cx="345.6" cy="143.2" r="3.4"/><circle cx="415.0" cy="364.6" r="3.4"/><circle cx="307.7" cy="369.2" r="3.4"/><circle cx="426.1" cy="363.9" r="3.4"/><circle cx="332.8" cy="333.5" r="3.4"/><circle cx="355.9" cy="231.4" r="3.4"/><circle cx="391.9" cy="351.2" r="3.4"/><circle cx="317.7" cy="302.9" r="3.4"/><circle cx="332.1" cy="368.9" r="3.4"/><circle cx="419.2" cy="383.2" r="3.4"/><circle cx="342.8" cy="329.5" r="3.4"/><circle cx="397.2" cy="275.1" r="3.4"/><circle cx="291.3" cy="296.5" r="3.4"/><circle cx="391.9" cy="290.9" r="3.4"/><circle cx="376.0" cy="356.7" r="3.4"/><circle cx="402.4" cy="378.6" r="3.4"/><circle cx="347.0" cy="343.0" r="3.4"/><circle cx="421.1" cy="258.6" r="3.4"/><circle cx="278.7" cy="344.3" r="3.4"/><circle cx="379.6" cy="287.5" r="3.4"/><circle cx="380.1" cy="357.6" r="3.4"/><circle cx="300.2" cy="313.5" r="3.4"/><circle cx="385.1" cy="316.4" r="3.4"/><circle cx="347.1" cy="294.2" r="3.4"/><circle cx="285.8" cy="254.1" r="3.4"/><circle cx="367.5" cy="185.4" r="3.4"/><circle cx="422.9" cy="262.5" r="3.4"/><circle cx="406.5" cy="359.1" r="3.4"/><circle cx="343.2" cy="400.1" r="3.4"/><circle cx="382.7" cy="386.8" r="3.4"/><circle cx="380.0" cy="385.7" r="3.4"/><circle cx="415.0" cy="306.6" r="3.4"/><circle cx="358.4" cy="390.4" r="3.4"/><circle cx="380.3" cy="366.4" r="3.4"/><circle cx="419.2" cy="325.9" r="3.4"/><circle cx="338.9" cy="355.8" r="3.4"/><circle cx="294.2" cy="408.2" r="3.4"/><circle cx="284.2" cy="357.5" r="3.4"/><circle cx="439.2" cy="378.1" r="3.4"/><circle cx="386.5" cy="268.0" r="3.4"/><circle cx="400.3" cy="370.7" r="3.4"/><circle cx="423.9" cy="343.9" r="3.4"/><circle cx="382.2" cy="368.9" r="3.4"/><circle cx="309.4" cy="255.0" r="3.4"/><circle cx="366.6" cy="258.1" r="3.4"/><circle cx="278.9" cy="366.5" r="3.4"/><circle cx="373.1" cy="349.5" r="3.4"/><circle cx="311.5" cy="367.1" r="3.4"/><circle cx="400.5" cy="326.2" r="3.4"/><circle cx="326.8" cy="356.5" r="3.4"/><circle cx="367.1" cy="371.3" r="3.4"/><circle cx="447.4" cy="302.9" r="3.4"/><circle cx="386.0" cy="361.5" r="3.4"/><circle cx="413.9" cy="340.4" r="3.4"/><circle cx="325.4" cy="101.0" r="3.4"/><circle cx="279.2" cy="313.8" r="3.4"/><circle cx="325.9" cy="387.6" r="3.4"/><circle cx="325.2" cy="356.6" r="3.4"/><circle cx="364.9" cy="319.5" r="3.4"/><circle cx="377.8" cy="359.3" r="3.4"/><circle cx="391.1" cy="353.5" r="3.4"/><circle cx="409.3" cy="340.0" r="3.4"/><circle cx="292.8" cy="318.3" r="3.4"/><circle cx="411.1" cy="342.7" r="3.4"/><circle cx="323.8" cy="368.9" r="3.4"/><circle cx="345.4" cy="259.3" r="3.4"/><circle cx="432.6" cy="282.8" r="3.4"/><circle cx="403.9" cy="247.7" r="3.4"/><circle cx="299.3" cy="338.2" r="3.4"/><circle cx="340.4" cy="358.9" r="3.4"/><circle cx="385.7" cy="370.2" r="3.4"/><circle cx="401.5" cy="265.9" r="3.4"/><circle cx="292.4" cy="369.7" r="3.4"/><circle cx="352.9" cy="285.7" r="3.4"/><circle cx="362.5" cy="274.2" r="3.4"/><circle cx="393.5" cy="302.2" r="3.4"/><circle cx="387.6" cy="312.5" r="3.4"/><circle cx="334.1" cy="271.4" r="3.4"/><circle cx="361.6" cy="383.9" r="3.4"/><circle cx="287.5" cy="308.4" r="3.4"/><circle cx="380.0" cy="365.2" r="3.4"/><circle cx="334.6" cy="268.6" r="3.4"/><circle cx="364.7" cy="390.3" r="3.4"/><circle cx="399.4" cy="341.0" r="3.4"/><circle cx="298.5" cy="354.6" r="3.4"/><circle cx="322.2" cy="356.3" r="3.4"/><circle cx="343.8" cy="382.9" r="3.4"/><circle cx="266.1" cy="318.0" r="3.4"/><circle cx="397.8" cy="304.7" r="3.4"/><circle cx="272.4" cy="378.5" r="3.4"/><circle cx="419.3" cy="372.1" r="3.4"/><circle cx="378.9" cy="333.0" r="3.4"/><circle cx="381.3" cy="294.6" r="3.4"/><circle cx="442.8" cy="269.4" r="3.4"/><circle cx="350.1" cy="388.2" r="3.4"/><circle cx="443.9" cy="374.5" r="3.4"/><circle cx="400.2" cy="375.9" r="3.4"/><circle cx="318.3" cy="358.5" r="3.4"/><circle cx="338.4" cy="361.6" r="3.4"/><circle cx="348.6" cy="365.4" r="3.4"/><circle cx="323.3" cy="375.7" r="3.4"/><circle cx="440.6" cy="321.2" r="3.4"/><circle cx="364.6" cy="312.0" r="3.4"/><circle cx="345.4" cy="369.9" r="3.4"/><circle cx="367.8" cy="297.6" r="3.4"/><circle cx="334.4" cy="373.9" r="3.4"/><circle cx="349.8" cy="336.1" r="3.4"/><circle cx="331.7" cy="376.2" r="3.4"/><circle cx="330.4" cy="362.7" r="3.4"/><circle cx="405.3" cy="357.3" r="3.4"/><circle cx="330.4" cy="396.9" r="3.4"/><circle cx="351.1" cy="256.7" r="3.4"/><circle cx="291.1" cy="331.8" r="3.4"/><circle cx="341.5" cy="287.7" r="3.4"/><circle cx="377.1" cy="338.0" r="3.4"/><circle cx="342.9" cy="377.6" r="3.4"/><circle cx="352.7" cy="356.8" r="3.4"/><circle cx="326.2" cy="149.6" r="3.4"/><circle cx="372.3" cy="343.6" r="3.4"/><circle cx="381.9" cy="350.9" r="3.4"/><circle cx="307.3" cy="376.4" r="3.4"/><circle cx="359.6" cy="236.1" r="3.4"/><circle cx="425.7" cy="254.2" r="3.4"/><circle cx="335.8" cy="396.3" r="3.4"/><circle cx="404.9" cy="329.4" r="3.4"/><circle cx="421.3" cy="249.8" r="3.4"/><circle cx="448.8" cy="363.0" r="3.4"/><circle cx="347.3" cy="343.1" r="3.4"/><circle cx="404.8" cy="382.3" r="3.4"/><circle cx="387.8" cy="373.3" r="3.4"/><circle cx="327.1" cy="265.7" r="3.4"/><circle cx="387.3" cy="357.2" r="3.4"/><circle cx="290.2" cy="332.6" r="3.4"/><circle cx="452.3" cy="345.4" r="3.4"/><circle cx="389.5" cy="332.0" r="3.4"/><circle cx="396.9" cy="322.8" r="3.4"/><circle cx="345.6" cy="318.7" r="3.4"/><circle cx="307.3" cy="342.4" r="3.4"/><circle cx="365.9" cy="331.7" r="3.4"/><circle cx="309.9" cy="216.1" r="3.4"/><circle cx="328.6" cy="380.5" r="3.4"/><circle cx="344.0" cy="372.5" r="3.4"/><circle cx="332.9" cy="190.3" r="3.4"/><circle cx="398.2" cy="322.5" r="3.4"/><circle cx="393.7" cy="344.0" r="3.4"/><circle cx="317.3" cy="179.0" r="3.4"/><circle cx="260.7" cy="291.2" r="3.4"/><circle cx="414.4" cy="310.4" r="3.4"/><circle cx="401.5" cy="375.6" r="3.4"/><circle cx="355.9" cy="353.5" r="3.4"/><circle cx="297.6" cy="354.1" r="3.4"/><circle cx="384.7" cy="188.0" r="3.4"/><circle cx="265.6" cy="325.1" r="3.4"/><circle cx="364.2" cy="321.4" r="3.4"/><circle cx="363.1" cy="373.1" r="3.4"/><circle cx="296.7" cy="378.1" r="3.4"/><circle cx="388.8" cy="378.5" r="3.4"/><circle cx="430.1" cy="380.5" r="3.4"/><circle cx="370.2" cy="381.2" r="3.4"/><circle cx="331.6" cy="341.8" r="3.4"/><circle cx="398.3" cy="353.5" r="3.4"/><circle cx="413.8" cy="375.8" r="3.4"/><circle cx="436.7" cy="267.3" r="3.4"/><circle cx="417.3" cy="248.3" r="3.4"/><circle cx="344.1" cy="321.3" r="3.4"/><circle cx="353.9" cy="380.7" r="3.4"/><circle cx="401.7" cy="256.9" r="3.4"/><circle cx="389.6" cy="317.9" r="3.4"/><circle cx="310.3" cy="344.3" r="3.4"/><circle cx="320.8" cy="338.5" r="3.4"/><circle cx="388.1" cy="375.5" r="3.4"/><circle cx="328.7" cy="294.8" r="3.4"/><circle cx="366.0" cy="398.6" r="3.4"/><circle cx="382.2" cy="315.8" r="3.4"/><circle cx="384.5" cy="178.9" r="3.4"/><circle cx="278.6" cy="368.9" r="3.4"/><circle cx="366.4" cy="341.0" r="3.4"/><circle cx="390.6" cy="332.5" r="3.4"/><circle cx="394.7" cy="376.3" r="3.4"/><circle cx="466.8" cy="353.7" r="3.4"/><circle cx="394.3" cy="382.6" r="3.4"/><circle cx="315.2" cy="293.0" r="3.4"/><circle cx="391.7" cy="376.9" r="3.4"/><circle cx="382.6" cy="334.1" r="3.4"/><circle cx="307.0" cy="315.4" r="3.4"/><circle cx="369.4" cy="325.2" r="3.4"/><circle cx="350.8" cy="301.9" r="3.4"/><circle cx="341.1" cy="347.7" r="3.4"/><circle cx="389.8" cy="196.9" r="3.4"/><circle cx="433.5" cy="278.1" r="3.4"/><circle cx="401.6" cy="243.2" r="3.4"/><circle cx="333.0" cy="376.5" r="3.4"/><circle cx="329.2" cy="313.0" r="3.4"/><circle cx="310.6" cy="328.4" r="3.4"/><circle cx="375.7" cy="353.7" r="3.4"/><circle cx="363.7" cy="336.4" r="3.4"/><circle cx="286.8" cy="353.4" r="3.4"/><circle cx="388.5" cy="262.0" r="3.4"/><circle cx="383.6" cy="357.7" r="3.4"/><circle cx="410.3" cy="289.4" r="3.4"/><circle cx="395.1" cy="222.6" r="3.4"/><circle cx="287.3" cy="307.6" r="3.4"/><circle cx="395.1" cy="379.6" r="3.4"/><circle cx="390.6" cy="380.2" r="3.4"/><circle cx="363.3" cy="354.3" r="3.4"/><circle cx="348.1" cy="351.2" r="3.4"/><circle cx="295.4" cy="329.1" r="3.4"/><circle cx="436.3" cy="372.1" r="3.4"/><circle cx="292.6" cy="414.6" r="3.4"/><circle cx="325.9" cy="348.0" r="3.4"/><circle cx="378.0" cy="338.7" r="3.4"/><circle cx="349.2" cy="223.4" r="3.4"/><circle cx="313.4" cy="339.2" r="3.4"/><circle cx="331.6" cy="337.6" r="3.4"/><circle cx="411.8" cy="384.1" r="3.4"/><circle cx="401.3" cy="252.9" r="3.4"/><circle cx="365.8" cy="366.1" r="3.4"/><circle cx="412.5" cy="357.5" r="3.4"/><circle cx="357.4" cy="352.2" r="3.4"/><circle cx="458.3" cy="398.5" r="3.4"/><circle cx="358.5" cy="263.2" r="3.4"/><circle cx="302.9" cy="336.5" r="3.4"/><circle cx="416.9" cy="351.3" r="3.4"/><circle cx="313.9" cy="343.2" r="3.4"/><circle cx="367.2" cy="398.0" r="3.4"/><circle cx="373.3" cy="351.7" r="3.4"/><circle cx="291.4" cy="315.1" r="3.4"/><circle cx="330.0" cy="327.8" r="3.4"/><circle cx="367.6" cy="330.3" r="3.4"/><circle cx="375.8" cy="352.5" r="3.4"/><circle cx="374.2" cy="334.2" r="3.4"/><circle cx="307.8" cy="317.1" r="3.4"/><circle cx="430.6" cy="318.2" r="3.4"/><circle cx="432.3" cy="382.3" r="3.4"/><circle cx="337.7" cy="278.3" r="3.4"/><circle cx="359.3" cy="323.2" r="3.4"/><circle cx="282.0" cy="347.8" r="3.4"/><circle cx="381.1" cy="329.1" r="3.4"/><circle cx="377.2" cy="287.0" r="3.4"/><circle cx="352.3" cy="328.6" r="3.4"/><circle cx="318.5" cy="372.4" r="3.4"/><circle cx="420.5" cy="367.4" r="3.4"/><circle cx="373.0" cy="380.0" r="3.4"/><circle cx="327.4" cy="275.1" r="3.4"/><circle cx="380.6" cy="340.5" r="3.4"/><circle cx="344.3" cy="341.6" r="3.4"/><circle cx="353.3" cy="360.4" r="3.4"/><circle cx="390.3" cy="311.1" r="3.4"/><circle cx="354.3" cy="360.9" r="3.4"/><circle cx="346.5" cy="383.2" r="3.4"/><circle cx="304.4" cy="184.3" r="3.4"/><circle cx="341.7" cy="360.2" r="3.4"/><circle cx="396.4" cy="338.7" r="3.4"/><circle cx="411.5" cy="284.2" r="3.4"/><circle cx="325.8" cy="137.1" r="3.4"/><circle cx="385.1" cy="389.5" r="3.4"/><circle cx="389.2" cy="338.8" r="3.4"/><circle cx="364.2" cy="337.6" r="3.4"/><circle cx="404.8" cy="352.0" r="3.4"/><circle cx="370.7" cy="359.7" r="3.4"/><circle cx="278.9" cy="350.3" r="3.4"/><circle cx="358.7" cy="240.6" r="3.4"/><circle cx="324.0" cy="333.5" r="3.4"/><circle cx="364.9" cy="297.5" r="3.4"/><circle cx="251.0" cy="337.0" r="3.4"/><circle cx="417.5" cy="289.9" r="3.4"/><circle cx="342.3" cy="328.4" r="3.4"/><circle cx="396.3" cy="269.5" r="3.4"/><circle cx="333.6" cy="362.2" r="3.4"/><circle cx="335.0" cy="293.4" r="3.4"/><circle cx="338.5" cy="335.8" r="3.4"/><circle cx="290.0" cy="380.2" r="3.4"/><circle cx="364.9" cy="363.7" r="3.4"/><circle cx="381.1" cy="367.4" r="3.4"/><circle cx="410.7" cy="344.8" r="3.4"/><circle cx="356.1" cy="388.3" r="3.4"/><circle cx="326.1" cy="246.0" r="3.4"/><circle cx="282.8" cy="361.0" r="3.4"/><circle cx="342.9" cy="257.0" r="3.4"/><circle cx="348.7" cy="357.1" r="3.4"/><circle cx="367.1" cy="343.6" r="3.4"/><circle cx="375.4" cy="345.9" r="3.4"/><circle cx="339.0" cy="370.6" r="3.4"/><circle cx="331.5" cy="354.2" r="3.4"/><circle cx="299.9" cy="388.7" r="3.4"/><circle cx="404.3" cy="318.1" r="3.4"/><circle cx="467.5" cy="300.7" r="3.4"/><circle cx="332.2" cy="347.4" r="3.4"/><circle cx="369.8" cy="352.6" r="3.4"/><circle cx="347.3" cy="377.7" r="3.4"/><circle cx="368.7" cy="296.0" r="3.4"/><circle cx="374.3" cy="376.2" r="3.4"/><circle cx="329.7" cy="277.5" r="3.4"/><circle cx="381.6" cy="369.7" r="3.4"/><circle cx="298.5" cy="366.7" r="3.4"/><circle cx="337.2" cy="348.0" r="3.4"/><circle cx="335.6" cy="328.6" r="3.4"/><circle cx="353.8" cy="370.3" r="3.4"/><circle cx="424.5" cy="382.3" r="3.4"/><circle cx="316.3" cy="388.8" r="3.4"/><circle cx="308.8" cy="341.8" r="3.4"/><circle cx="375.6" cy="349.1" r="3.4"/><circle cx="395.1" cy="344.0" r="3.4"/><circle cx="375.3" cy="367.8" r="3.4"/><circle cx="398.1" cy="237.5" r="3.4"/><circle cx="401.3" cy="325.8" r="3.4"/><circle cx="288.2" cy="241.3" r="3.4"/><circle cx="299.8" cy="371.7" r="3.4"/><circle cx="398.6" cy="320.9" r="3.4"/><circle cx="358.7" cy="247.1" r="3.4"/><circle cx="282.2" cy="379.9" r="3.4"/><circle cx="353.2" cy="354.4" r="3.4"/><circle cx="283.9" cy="317.9" r="3.4"/><circle cx="420.1" cy="367.1" r="3.4"/><circle cx="375.1" cy="340.4" r="3.4"/><circle cx="392.4" cy="163.1" r="3.4"/><circle cx="382.7" cy="327.6" r="3.4"/><circle cx="343.1" cy="378.3" r="3.4"/><circle cx="390.6" cy="276.4" r="3.4"/><circle cx="346.6" cy="362.3" r="3.4"/><circle cx="381.3" cy="350.8" r="3.4"/><circle cx="373.1" cy="226.7" r="3.4"/><circle cx="464.4" cy="340.0" r="3.4"/><circle cx="395.1" cy="328.7" r="3.4"/><circle cx="438.4" cy="269.0" r="3.4"/><circle cx="351.0" cy="328.5" r="3.4"/><circle cx="329.7" cy="366.2" r="3.4"/><circle cx="316.6" cy="357.0" r="3.4"/><circle cx="272.7" cy="320.7" r="3.4"/><circle cx="422.1" cy="359.6" r="3.4"/><circle cx="399.2" cy="348.8" r="3.4"/><circle cx="377.9" cy="362.4" r="3.4"/><circle cx="323.7" cy="339.6" r="3.4"/><circle cx="380.8" cy="172.6" r="3.4"/><circle cx="344.6" cy="375.3" r="3.4"/><circle cx="321.6" cy="358.1" r="3.4"/><circle cx="388.1" cy="332.8" r="3.4"/><circle cx="373.7" cy="341.9" r="3.4"/><circle cx="375.2" cy="339.0" r="3.4"/><circle cx="332.6" cy="377.2" r="3.4"/><circle cx="433.9" cy="386.3" r="3.4"/><circle cx="309.8" cy="370.6" r="3.4"/><circle cx="371.2" cy="267.7" r="3.4"/><circle cx="395.6" cy="260.5" r="3.4"/><circle cx="450.0" cy="370.7" r="3.4"/><circle cx="453.9" cy="218.9" r="3.4"/><circle cx="442.9" cy="264.6" r="3.4"/><circle cx="420.3" cy="365.9" r="3.4"/><circle cx="382.8" cy="363.4" r="3.4"/><circle cx="366.7" cy="244.6" r="3.4"/><circle cx="347.8" cy="349.7" r="3.4"/><circle cx="353.3" cy="355.5" r="3.4"/><circle cx="410.3" cy="338.3" r="3.4"/><circle cx="420.3" cy="282.0" r="3.4"/><circle cx="377.6" cy="322.0" r="3.4"/><circle cx="308.7" cy="343.4" r="3.4"/><circle cx="349.3" cy="225.4" r="3.4"/><circle cx="399.3" cy="369.0" r="3.4"/><circle cx="403.5" cy="364.6" r="3.4"/><circle cx="345.7" cy="366.3" r="3.4"/><circle cx="358.4" cy="221.1" r="3.4"/><circle cx="355.2" cy="369.1" r="3.4"/><circle cx="356.9" cy="346.8" r="3.4"/><circle cx="333.3" cy="367.5" r="3.4"/><circle cx="384.6" cy="349.6" r="3.4"/><circle cx="361.7" cy="351.5" r="3.4"/><circle cx="368.1" cy="192.3" r="3.4"/><circle cx="409.7" cy="236.4" r="3.4"/><circle cx="384.5" cy="377.6" r="3.4"/><circle cx="472.7" cy="361.8" r="3.4"/><circle cx="422.7" cy="303.7" r="3.4"/><circle cx="303.2" cy="336.6" r="3.4"/><circle cx="291.8" cy="280.8" r="3.4"/><circle cx="408.2" cy="382.8" r="3.4"/><circle cx="333.6" cy="325.4" r="3.4"/><circle cx="413.6" cy="281.6" r="3.4"/><circle cx="288.3" cy="378.2" r="3.4"/><circle cx="338.3" cy="350.8" r="3.4"/><circle cx="427.1" cy="301.7" r="3.4"/><circle cx="287.5" cy="331.9" r="3.4"/><circle cx="357.5" cy="340.3" r="3.4"/><circle cx="342.5" cy="340.6" r="3.4"/><circle cx="312.2" cy="334.5" r="3.4"/><circle cx="418.8" cy="348.8" r="3.4"/><circle cx="397.5" cy="278.1" r="3.4"/><circle cx="303.2" cy="345.2" r="3.4"/><circle cx="369.1" cy="374.7" r="3.4"/><circle cx="372.8" cy="321.5" r="3.4"/><circle cx="383.6" cy="220.0" r="3.4"/><circle cx="330.2" cy="349.1" r="3.4"/><circle cx="318.4" cy="296.2" r="3.4"/><circle cx="320.0" cy="298.5" r="3.4"/><circle cx="304.4" cy="302.3" r="3.4"/><circle cx="462.7" cy="255.2" r="3.4"/><circle cx="265.7" cy="345.4" r="3.4"/><circle cx="378.4" cy="323.0" r="3.4"/><circle cx="319.9" cy="112.8" r="3.4"/><circle cx="355.3" cy="264.6" r="3.4"/><circle cx="308.6" cy="298.9" r="3.4"/><circle cx="286.9" cy="338.8" r="3.4"/><circle cx="272.9" cy="376.6" r="3.4"/><circle cx="398.3" cy="337.3" r="3.4"/><circle cx="388.1" cy="297.8" r="3.4"/><circle cx="410.9" cy="347.2" r="3.4"/><circle cx="443.1" cy="318.9" r="3.4"/><circle cx="353.4" cy="351.3" r="3.4"/><circle cx="380.2" cy="366.7" r="3.4"/><circle cx="327.2" cy="322.0" r="3.4"/><circle cx="369.5" cy="360.1" r="3.4"/><circle cx="394.9" cy="294.5" r="3.4"/><circle cx="344.9" cy="280.7" r="3.4"/><circle cx="407.5" cy="318.5" r="3.4"/><circle cx="311.4" cy="335.0" r="3.4"/><circle cx="318.4" cy="317.0" r="3.4"/><circle cx="420.1" cy="346.3" r="3.4"/><circle cx="331.9" cy="355.5" r="3.4"/><circle cx="432.1" cy="302.8" r="3.4"/><circle cx="334.4" cy="354.4" r="3.4"/><circle cx="420.2" cy="226.3" r="3.4"/><circle cx="335.0" cy="236.9" r="3.4"/><circle cx="356.9" cy="322.9" r="3.4"/><circle cx="368.2" cy="309.5" r="3.4"/><circle cx="336.6" cy="392.6" r="3.4"/><circle cx="361.5" cy="296.0" r="3.4"/><circle cx="399.2" cy="317.3" r="3.4"/><circle cx="343.8" cy="350.1" r="3.4"/><circle cx="343.6" cy="365.7" r="3.4"/><circle cx="338.1" cy="361.4" r="3.4"/><circle cx="304.6" cy="302.5" r="3.4"/><circle cx="298.2" cy="225.6" r="3.4"/><circle cx="383.9" cy="345.9" r="3.4"/><circle cx="334.0" cy="361.6" r="3.4"/><circle cx="382.1" cy="210.8" r="3.4"/><circle cx="381.0" cy="330.4" r="3.4"/><circle cx="315.1" cy="370.0" r="3.4"/><circle cx="347.0" cy="383.7" r="3.4"/><circle cx="376.8" cy="331.7" r="3.4"/><circle cx="310.8" cy="332.8" r="3.4"/><circle cx="312.3" cy="253.5" r="3.4"/><circle cx="361.3" cy="305.7" r="3.4"/><circle cx="367.1" cy="322.9" r="3.4"/><circle cx="291.3" cy="289.7" r="3.4"/><circle cx="333.0" cy="351.9" r="3.4"/><circle cx="432.2" cy="295.0" r="3.4"/><circle cx="460.4" cy="349.6" r="3.4"/><circle cx="361.8" cy="344.3" r="3.4"/><circle cx="350.3" cy="304.9" r="3.4"/><circle cx="362.4" cy="326.2" r="3.4"/><circle cx="367.8" cy="331.9" r="3.4"/><circle cx="321.6" cy="373.4" r="3.4"/><circle cx="347.6" cy="257.1" r="3.4"/><circle cx="366.5" cy="354.4" r="3.4"/><circle cx="441.4" cy="297.0" r="3.4"/><circle cx="346.8" cy="372.1" r="3.4"/><circle cx="363.5" cy="341.7" r="3.4"/><circle cx="362.4" cy="336.4" r="3.4"/><circle cx="356.5" cy="364.9" r="3.4"/><circle cx="417.6" cy="351.2" r="3.4"/><circle cx="330.5" cy="346.9" r="3.4"/><circle cx="368.6" cy="371.9" r="3.4"/><circle cx="364.9" cy="301.7" r="3.4"/><circle cx="298.1" cy="367.6" r="3.4"/><circle cx="449.8" cy="284.2" r="3.4"/><circle cx="362.4" cy="374.1" r="3.4"/><circle cx="401.2" cy="344.1" r="3.4"/><circle cx="381.8" cy="305.0" r="3.4"/><circle cx="307.3" cy="379.4" r="3.4"/><circle cx="353.7" cy="355.0" r="3.4"/><circle cx="357.7" cy="396.3" r="3.4"/><circle cx="390.1" cy="347.0" r="3.4"/><circle cx="407.5" cy="325.0" r="3.4"/><circle cx="351.0" cy="368.4" r="3.4"/><circle cx="321.3" cy="328.0" r="3.4"/><circle cx="351.6" cy="372.3" r="3.4"/><circle cx="368.5" cy="337.0" r="3.4"/><circle cx="332.8" cy="273.5" r="3.4"/><circle cx="395.4" cy="296.9" r="3.4"/><circle cx="350.2" cy="389.4" r="3.4"/><circle cx="303.4" cy="330.3" r="3.4"/><circle cx="363.4" cy="339.7" r="3.4"/><circle cx="369.8" cy="365.9" r="3.4"/><circle cx="439.4" cy="312.4" r="3.4"/><circle cx="272.2" cy="362.0" r="3.4"/><circle cx="392.0" cy="340.2" r="3.4"/><circle cx="343.6" cy="169.5" r="3.4"/><circle cx="360.0" cy="351.5" r="3.4"/><circle cx="284.3" cy="369.4" r="3.4"/><circle cx="334.8" cy="345.4" r="3.4"/><circle cx="270.0" cy="324.4" r="3.4"/><circle cx="312.7" cy="340.8" r="3.4"/><circle cx="378.0" cy="317.8" r="3.4"/><circle cx="287.4" cy="327.8" r="3.4"/><circle cx="347.3" cy="148.0" r="3.4"/><circle cx="352.1" cy="370.0" r="3.4"/><circle cx="349.4" cy="402.0" r="3.4"/><circle cx="292.8" cy="297.9" r="3.4"/><circle cx="445.3" cy="251.9" r="3.4"/><circle cx="363.8" cy="376.4" r="3.4"/><circle cx="376.2" cy="159.5" r="3.4"/><circle cx="380.7" cy="321.8" r="3.4"/><circle cx="357.6" cy="275.8" r="3.4"/><circle cx="410.1" cy="271.5" r="3.4"/><circle cx="300.0" cy="328.8" r="3.4"/><circle cx="380.7" cy="215.4" r="3.4"/><circle cx="361.3" cy="214.2" r="3.4"/><circle cx="364.2" cy="329.4" r="3.4"/><circle cx="336.2" cy="295.5" r="3.4"/><circle cx="371.7" cy="343.1" r="3.4"/><circle cx="321.2" cy="366.9" r="3.4"/><circle cx="363.8" cy="376.6" r="3.4"/><circle cx="354.9" cy="338.0" r="3.4"/><circle cx="297.1" cy="264.9" r="3.4"/><circle cx="341.2" cy="176.3" r="3.4"/><circle cx="371.7" cy="195.4" r="3.4"/><circle cx="384.5" cy="360.9" r="3.4"/><circle cx="377.9" cy="319.7" r="3.4"/><circle cx="313.1" cy="358.8" r="3.4"/><circle cx="320.0" cy="292.1" r="3.4"/><circle cx="335.1" cy="321.0" r="3.4"/><circle cx="323.7" cy="395.0" r="3.4"/><circle cx="319.4" cy="302.0" r="3.4"/><circle cx="329.8" cy="375.1" r="3.4"/><circle cx="330.1" cy="361.4" r="3.4"/><circle cx="327.6" cy="48.2" r="3.4"/><circle cx="298.1" cy="301.5" r="3.4"/><circle cx="290.5" cy="257.7" r="3.4"/><circle cx="316.2" cy="354.3" r="3.4"/><circle cx="332.7" cy="354.5" r="3.4"/><circle cx="381.4" cy="261.5" r="3.4"/><circle cx="378.1" cy="200.1" r="3.4"/><circle cx="439.9" cy="403.4" r="3.4"/><circle cx="374.8" cy="311.2" r="3.4"/><circle cx="398.1" cy="176.6" r="3.4"/><circle cx="407.2" cy="371.0" r="3.4"/><circle cx="350.8" cy="362.9" r="3.4"/><circle cx="417.1" cy="299.8" r="3.4"/><circle cx="389.6" cy="348.7" r="3.4"/><circle cx="418.4" cy="314.3" r="3.4"/><circle cx="459.2" cy="356.2" r="3.4"/><circle cx="398.0" cy="384.3" r="3.4"/><circle cx="276.2" cy="309.4" r="3.4"/><circle cx="434.0" cy="350.3" r="3.4"/><circle cx="318.2" cy="369.2" r="3.4"/><circle cx="385.1" cy="346.5" r="3.4"/><circle cx="394.9" cy="367.5" r="3.4"/><circle cx="332.5" cy="267.7" r="3.4"/><circle cx="293.2" cy="353.2" r="3.4"/><circle cx="360.7" cy="355.7" r="3.4"/><circle cx="360.4" cy="358.8" r="3.4"/><circle cx="282.4" cy="352.2" r="3.4"/><circle cx="393.2" cy="259.8" r="3.4"/><circle cx="372.4" cy="324.4" r="3.4"/><circle cx="363.3" cy="358.0" r="3.4"/><circle cx="340.5" cy="340.8" r="3.4"/><circle cx="338.4" cy="341.2" r="3.4"/><circle cx="347.6" cy="356.7" r="3.4"/><circle cx="453.7" cy="346.9" r="3.4"/><circle cx="320.1" cy="259.4" r="3.4"/><circle cx="350.0" cy="365.9" r="3.4"/><circle cx="324.3" cy="354.8" r="3.4"/><circle cx="364.3" cy="235.6" r="3.4"/><circle cx="338.7" cy="294.0" r="3.4"/><circle cx="370.3" cy="332.2" r="3.4"/><circle cx="362.7" cy="357.3" r="3.4"/><circle cx="398.4" cy="190.2" r="3.4"/><circle cx="411.9" cy="267.8" r="3.4"/><circle cx="346.9" cy="369.7" r="3.4"/><circle cx="317.0" cy="247.4" r="3.4"/><circle cx="299.6" cy="338.0" r="3.4"/><circle cx="345.2" cy="375.9" r="3.4"/><circle cx="304.2" cy="274.9" r="3.4"/><circle cx="312.9" cy="242.8" r="3.4"/><circle cx="340.7" cy="259.6" r="3.4"/><circle cx="327.8" cy="157.6" r="3.4"/><circle cx="338.9" cy="380.2" r="3.4"/><circle cx="408.9" cy="330.3" r="3.4"/><circle cx="334.1" cy="363.2" r="3.4"/><circle cx="422.6" cy="221.7" r="3.4"/><circle cx="371.3" cy="310.9" r="3.4"/><circle cx="316.1" cy="335.9" r="3.4"/><circle cx="299.6" cy="351.9" r="3.4"/><circle cx="394.5" cy="361.4" r="3.4"/><circle cx="324.0" cy="313.2" r="3.4"/><circle cx="375.1" cy="277.9" r="3.4"/><circle cx="351.8" cy="388.2" r="3.4"/><circle cx="376.6" cy="337.4" r="3.4"/><circle cx="285.8" cy="342.4" r="3.4"/><circle cx="305.6" cy="337.6" r="3.4"/><circle cx="419.9" cy="345.9" r="3.4"/><circle cx="293.7" cy="273.5" r="3.4"/><circle cx="370.2" cy="340.4" r="3.4"/><circle cx="406.6" cy="378.0" r="3.4"/><circle cx="346.6" cy="122.8" r="3.4"/><circle cx="426.2" cy="310.4" r="3.4"/><circle cx="423.4" cy="339.7" r="3.4"/><circle cx="310.3" cy="327.4" r="3.4"/><circle cx="379.4" cy="311.2" r="3.4"/><circle cx="350.1" cy="396.4" r="3.4"/><circle cx="401.7" cy="312.4" r="3.4"/><circle cx="390.1" cy="366.4" r="3.4"/><circle cx="472.4" cy="338.5" r="3.4"/><circle cx="295.8" cy="365.1" r="3.4"/><circle cx="395.8" cy="324.9" r="3.4"/><circle cx="359.0" cy="372.6" r="3.4"/><circle cx="335.5" cy="330.0" r="3.4"/><circle cx="283.2" cy="307.0" r="3.4"/><circle cx="410.0" cy="145.0" r="3.4"/><circle cx="276.1" cy="299.3" r="3.4"/><circle cx="347.7" cy="372.1" r="3.4"/><circle cx="417.4" cy="351.3" r="3.4"/><circle cx="356.4" cy="277.6" r="3.4"/><circle cx="356.4" cy="379.6" r="3.4"/><circle cx="424.4" cy="400.1" r="3.4"/><circle cx="356.7" cy="347.3" r="3.4"/><circle cx="317.6" cy="363.0" r="3.4"/><circle cx="355.3" cy="353.4" r="3.4"/><circle cx="383.2" cy="334.4" r="3.4"/><circle cx="373.2" cy="354.7" r="3.4"/><circle cx="349.1" cy="382.5" r="3.4"/><circle cx="326.5" cy="352.6" r="3.4"/><circle cx="374.0" cy="257.6" r="3.4"/><circle cx="305.9" cy="250.5" r="3.4"/><circle cx="339.1" cy="359.7" r="3.4"/><circle cx="375.9" cy="383.7" r="3.4"/><circle cx="377.2" cy="356.5" r="3.4"/><circle cx="380.8" cy="350.8" r="3.4"/><circle cx="366.0" cy="346.1" r="3.4"/><circle cx="364.9" cy="338.9" r="3.4"/><circle cx="326.0" cy="353.7" r="3.4"/><circle cx="334.5" cy="345.1" r="3.4"/><circle cx="392.3" cy="357.8" r="3.4"/><circle cx="389.4" cy="363.5" r="3.4"/><circle cx="417.6" cy="341.8" r="3.4"/><circle cx="400.2" cy="182.8" r="3.4"/><circle cx="300.1" cy="293.6" r="3.4"/><circle cx="331.7" cy="273.3" r="3.4"/><circle cx="352.3" cy="380.1" r="3.4"/><circle cx="342.3" cy="351.3" r="3.4"/><circle cx="347.6" cy="303.5" r="3.4"/><circle cx="380.1" cy="350.7" r="3.4"/><circle cx="344.8" cy="396.6" r="3.4"/><circle cx="308.1" cy="314.5" r="3.4"/><circle cx="375.9" cy="317.1" r="3.4"/><circle cx="400.4" cy="350.8" r="3.4"/><circle cx="434.9" cy="347.1" r="3.4"/><circle cx="315.8" cy="361.7" r="3.4"/><circle cx="300.1" cy="337.2" r="3.4"/><circle cx="384.5" cy="244.6" r="3.4"/><circle cx="273.4" cy="336.6" r="3.4"/><circle cx="367.4" cy="347.5" r="3.4"/><circle cx="345.8" cy="360.2" r="3.4"/><circle cx="399.4" cy="287.0" r="3.4"/><circle cx="385.7" cy="199.7" r="3.4"/><circle cx="425.3" cy="271.2" r="3.4"/><circle cx="379.7" cy="311.2" r="3.4"/><circle cx="385.1" cy="327.6" r="3.4"/><circle cx="444.3" cy="336.8" r="3.4"/><circle cx="356.9" cy="383.4" r="3.4"/><circle cx="323.7" cy="199.3" r="3.4"/><circle cx="331.3" cy="349.2" r="3.4"/><circle cx="348.0" cy="386.8" r="3.4"/><circle cx="426.5" cy="360.7" r="3.4"/><circle cx="352.6" cy="380.4" r="3.4"/><circle cx="359.5" cy="365.9" r="3.4"/><circle cx="328.0" cy="342.5" r="3.4"/><circle cx="339.6" cy="370.6" r="3.4"/><circle cx="284.7" cy="348.4" r="3.4"/><circle cx="340.3" cy="351.7" r="3.4"/><circle cx="409.5" cy="354.5" r="3.4"/><circle cx="292.9" cy="372.8" r="3.4"/><circle cx="335.5" cy="273.9" r="3.4"/><circle cx="389.1" cy="174.8" r="3.4"/><circle cx="298.0" cy="301.4" r="3.4"/><circle cx="351.1" cy="353.2" r="3.4"/><circle cx="408.3" cy="329.9" r="3.4"/><circle cx="350.6" cy="323.4" r="3.4"/><circle cx="349.6" cy="335.3" r="3.4"/><circle cx="328.7" cy="354.6" r="3.4"/><circle cx="413.5" cy="344.0" r="3.4"/><circle cx="289.2" cy="344.5" r="3.4"/><circle cx="351.5" cy="343.6" r="3.4"/><circle cx="396.8" cy="364.3" r="3.4"/><circle cx="303.9" cy="242.5" r="3.4"/><circle cx="361.3" cy="338.0" r="3.4"/><circle cx="340.3" cy="355.5" r="3.4"/><circle cx="352.9" cy="303.4" r="3.4"/><circle cx="442.6" cy="297.0" r="3.4"/><circle cx="331.5" cy="355.7" r="3.4"/><circle cx="320.3" cy="290.8" r="3.4"/><circle cx="390.4" cy="148.6" r="3.4"/><circle cx="386.2" cy="364.9" r="3.4"/><circle cx="453.4" cy="269.4" r="3.4"/><circle cx="283.8" cy="261.3" r="3.4"/><circle cx="329.6" cy="282.5" r="3.4"/><circle cx="304.4" cy="361.0" r="3.4"/><circle cx="344.6" cy="328.9" r="3.4"/><circle cx="318.2" cy="364.6" r="3.4"/><circle cx="404.2" cy="346.0" r="3.4"/><circle cx="295.3" cy="394.0" r="3.4"/><circle cx="351.7" cy="257.8" r="3.4"/><circle cx="364.4" cy="390.8" r="3.4"/><circle cx="324.1" cy="381.3" r="3.4"/><circle cx="273.8" cy="347.1" r="3.4"/><circle cx="367.9" cy="345.0" r="3.4"/><circle cx="376.3" cy="168.7" r="3.4"/><circle cx="303.5" cy="261.9" r="3.4"/><circle cx="348.8" cy="325.4" r="3.4"/><circle cx="363.1" cy="382.2" r="3.4"/><circle cx="308.8" cy="357.3" r="3.4"/><circle cx="405.2" cy="335.1" r="3.4"/><circle cx="328.1" cy="347.5" r="3.4"/><circle cx="367.3" cy="326.5" r="3.4"/><circle cx="390.9" cy="309.1" r="3.4"/><circle cx="285.0" cy="246.9" r="3.4"/><circle cx="424.2" cy="356.5" r="3.4"/><circle cx="355.1" cy="325.5" r="3.4"/><circle cx="334.5" cy="360.6" r="3.4"/><circle cx="343.5" cy="375.0" r="3.4"/><circle cx="337.3" cy="308.8" r="3.4"/><circle cx="346.4" cy="338.5" r="3.4"/><circle cx="389.7" cy="250.7" r="3.4"/><circle cx="401.4" cy="361.4" r="3.4"/><circle cx="317.7" cy="370.2" r="3.4"/><circle cx="463.7" cy="327.4" r="3.4"/><circle cx="279.0" cy="366.9" r="3.4"/><circle cx="338.5" cy="261.1" r="3.4"/><circle cx="413.4" cy="372.5" r="3.4"/><circle cx="349.9" cy="332.5" r="3.4"/><circle cx="323.0" cy="392.3" r="3.4"/><circle cx="409.8" cy="335.7" r="3.4"/><circle cx="354.3" cy="331.9" r="3.4"/><circle cx="374.7" cy="169.9" r="3.4"/><circle cx="419.5" cy="222.6" r="3.4"/><circle cx="438.6" cy="327.3" r="3.4"/><circle cx="431.6" cy="345.4" r="3.4"/><circle cx="405.2" cy="351.4" r="3.4"/><circle cx="359.4" cy="370.5" r="3.4"/><circle cx="310.6" cy="351.9" r="3.4"/><circle cx="356.1" cy="384.4" r="3.4"/><circle cx="391.7" cy="338.5" r="3.4"/><circle cx="412.6" cy="217.1" r="3.4"/><circle cx="329.4" cy="342.7" r="3.4"/><circle cx="390.4" cy="365.8" r="3.4"/><circle cx="395.5" cy="336.8" r="3.4"/><circle cx="339.6" cy="367.8" r="3.4"/><circle cx="464.3" cy="338.9" r="3.4"/><circle cx="373.5" cy="232.9" r="3.4"/><circle cx="354.8" cy="360.5" r="3.4"/><circle cx="395.9" cy="337.4" r="3.4"/><circle cx="329.0" cy="305.0" r="3.4"/><circle cx="419.9" cy="387.1" r="3.4"/><circle cx="347.9" cy="320.6" r="3.4"/><circle cx="315.1" cy="371.7" r="3.4"/><circle cx="445.8" cy="306.3" r="3.4"/><circle cx="362.7" cy="386.6" r="3.4"/><circle cx="393.6" cy="359.0" r="3.4"/><circle cx="417.6" cy="317.0" r="3.4"/><circle cx="340.6" cy="223.1" r="3.4"/><circle cx="286.8" cy="343.9" r="3.4"/><circle cx="406.1" cy="366.4" r="3.4"/><circle cx="346.4" cy="320.3" r="3.4"/><circle cx="428.1" cy="229.6" r="3.4"/><circle cx="384.5" cy="240.7" r="3.4"/><circle cx="416.5" cy="309.0" r="3.4"/><circle cx="395.3" cy="179.9" r="3.4"/><circle cx="318.8" cy="359.9" r="3.4"/><circle cx="291.5" cy="372.0" r="3.4"/><circle cx="293.2" cy="359.6" r="3.4"/><circle cx="362.4" cy="341.4" r="3.4"/><circle cx="280.9" cy="372.7" r="3.4"/><circle cx="388.3" cy="295.3" r="3.4"/><circle cx="321.6" cy="309.3" r="3.4"/><circle cx="388.8" cy="370.7" r="3.4"/><circle cx="389.9" cy="373.7" r="3.4"/><circle cx="342.6" cy="358.9" r="3.4"/><circle cx="320.3" cy="345.4" r="3.4"/><circle cx="364.8" cy="335.7" r="3.4"/><circle cx="348.6" cy="343.7" r="3.4"/><circle cx="423.5" cy="287.5" r="3.4"/><circle cx="394.3" cy="366.8" r="3.4"/><circle cx="418.5" cy="336.3" r="3.4"/><circle cx="359.1" cy="264.4" r="3.4"/><circle cx="389.0" cy="352.7" r="3.4"/><circle cx="341.9" cy="169.9" r="3.4"/><circle cx="315.5" cy="364.2" r="3.4"/><circle cx="358.1" cy="336.1" r="3.4"/><circle cx="383.1" cy="330.0" r="3.4"/><circle cx="378.8" cy="209.6" r="3.4"/><circle cx="347.2" cy="267.4" r="3.4"/><circle cx="399.4" cy="329.3" r="3.4"/><circle cx="393.7" cy="249.0" r="3.4"/><circle cx="355.0" cy="357.8" r="3.4"/><circle cx="347.4" cy="312.1" r="3.4"/><circle cx="382.9" cy="315.6" r="3.4"/><circle cx="295.4" cy="326.2" r="3.4"/><circle cx="430.0" cy="361.7" r="3.4"/><circle cx="430.8" cy="296.6" r="3.4"/><circle cx="305.0" cy="323.2" r="3.4"/><circle cx="424.3" cy="369.9" r="3.4"/><circle cx="371.7" cy="392.7" r="3.4"/><circle cx="302.0" cy="337.6" r="3.4"/><circle cx="339.8" cy="353.5" r="3.4"/><circle cx="284.1" cy="305.9" r="3.4"/><circle cx="276.0" cy="350.4" r="3.4"/><circle cx="288.1" cy="289.1" r="3.4"/><circle cx="311.5" cy="358.3" r="3.4"/><circle cx="404.5" cy="344.9" r="3.4"/><circle cx="428.6" cy="328.3" r="3.4"/><circle cx="327.0" cy="359.4" r="3.4"/><circle cx="351.4" cy="336.4" r="3.4"/><circle cx="370.8" cy="373.4" r="3.4"/><circle cx="356.4" cy="344.2" r="3.4"/><circle cx="347.5" cy="251.7" r="3.4"/><circle cx="291.1" cy="361.5" r="3.4"/><circle cx="331.3" cy="398.5" r="3.4"/><circle cx="300.9" cy="278.8" r="3.4"/><circle cx="343.7" cy="342.4" r="3.4"/><circle cx="291.2" cy="227.0" r="3.4"/><circle cx="378.1" cy="136.9" r="3.4"/><circle cx="374.8" cy="379.1" r="3.4"/><circle cx="340.5" cy="234.4" r="3.4"/><circle cx="358.6" cy="336.0" r="3.4"/><circle cx="269.9" cy="354.7" r="3.4"/><circle cx="429.4" cy="286.6" r="3.4"/><circle cx="351.1" cy="374.2" r="3.4"/><circle cx="427.7" cy="332.3" r="3.4"/><circle cx="288.1" cy="378.1" r="3.4"/><circle cx="334.5" cy="243.7" r="3.4"/><circle cx="381.6" cy="353.1" r="3.4"/><circle cx="391.0" cy="336.3" r="3.4"/><circle cx="393.8" cy="247.1" r="3.4"/><circle cx="376.4" cy="336.9" r="3.4"/><circle cx="342.4" cy="384.4" r="3.4"/><circle cx="373.6" cy="326.0" r="3.4"/><circle cx="352.4" cy="133.6" r="3.4"/><circle cx="347.1" cy="332.9" r="3.4"/><circle cx="443.8" cy="364.4" r="3.4"/><circle cx="355.0" cy="243.3" r="3.4"/><circle cx="418.0" cy="266.2" r="3.4"/><circle cx="375.3" cy="357.8" r="3.4"/><circle cx="353.1" cy="365.7" r="3.4"/><circle cx="352.7" cy="395.8" r="3.4"/><circle cx="421.0" cy="363.6" r="3.4"/><circle cx="417.9" cy="405.0" r="3.4"/><circle cx="399.0" cy="328.5" r="3.4"/><circle cx="367.4" cy="379.5" r="3.4"/><circle cx="364.5" cy="381.2" r="3.4"/><circle cx="431.2" cy="332.6" r="3.4"/><circle cx="329.4" cy="254.7" r="3.4"/><circle cx="362.7" cy="372.6" r="3.4"/><circle cx="381.5" cy="216.6" r="3.4"/><circle cx="374.7" cy="325.4" r="3.4"/><circle cx="394.9" cy="359.9" r="3.4"/><circle cx="358.6" cy="336.5" r="3.4"/><circle cx="347.7" cy="309.1" r="3.4"/><circle cx="353.6" cy="349.1" r="3.4"/><circle cx="425.2" cy="296.2" r="3.4"/><circle cx="392.6" cy="382.7" r="3.4"/><circle cx="281.1" cy="336.3" r="3.4"/><circle cx="379.7" cy="375.3" r="3.4"/><circle cx="367.9" cy="335.8" r="3.4"/><circle cx="298.5" cy="371.8" r="3.4"/><circle cx="401.0" cy="296.6" r="3.4"/><circle cx="301.2" cy="365.3" r="3.4"/><circle cx="277.6" cy="316.5" r="3.4"/><circle cx="320.0" cy="355.5" r="3.4"/><circle cx="352.4" cy="328.0" r="3.4"/><circle cx="392.6" cy="368.5" r="3.4"/><circle cx="397.7" cy="232.5" r="3.4"/><circle cx="305.0" cy="340.2" r="3.4"/><circle cx="334.2" cy="223.6" r="3.4"/><circle cx="375.0" cy="251.7" r="3.4"/><circle cx="393.8" cy="321.3" r="3.4"/><circle cx="393.8" cy="210.4" r="3.4"/><circle cx="408.7" cy="361.4" r="3.4"/><circle cx="346.4" cy="310.6" r="3.4"/><circle cx="414.1" cy="211.0" r="3.4"/><circle cx="303.1" cy="352.2" r="3.4"/><circle cx="365.3" cy="340.3" r="3.4"/><circle cx="367.2" cy="274.2" r="3.4"/><circle cx="392.3" cy="189.7" r="3.4"/><circle cx="403.9" cy="324.8" r="3.4"/><circle cx="394.3" cy="298.6" r="3.4"/><circle cx="461.5" cy="293.4" r="3.4"/><circle cx="386.6" cy="367.0" r="3.4"/><circle cx="327.9" cy="344.3" r="3.4"/><circle cx="324.0" cy="393.0" r="3.4"/><circle cx="355.6" cy="367.7" r="3.4"/><circle cx="382.6" cy="280.8" r="3.4"/><circle cx="281.4" cy="327.9" r="3.4"/><circle cx="283.7" cy="331.0" r="3.4"/><circle cx="334.6" cy="365.7" r="3.4"/><circle cx="369.5" cy="222.1" r="3.4"/><circle cx="408.4" cy="194.0" r="3.4"/><circle cx="428.1" cy="295.5" r="3.4"/><circle cx="340.4" cy="344.4" r="3.4"/><circle cx="347.7" cy="344.2" r="3.4"/><circle cx="376.2" cy="369.1" r="3.4"/><circle cx="271.2" cy="361.0" r="3.4"/><circle cx="454.5" cy="226.5" r="3.4"/><circle cx="364.7" cy="314.8" r="3.4"/><circle cx="366.2" cy="333.2" r="3.4"/><circle cx="389.6" cy="368.4" r="3.4"/><circle cx="361.8" cy="339.7" r="3.4"/><circle cx="370.8" cy="358.4" r="3.4"/><circle cx="398.2" cy="277.7" r="3.4"/><circle cx="348.5" cy="312.6" r="3.4"/><circle cx="332.5" cy="249.9" r="3.4"/><circle cx="311.2" cy="364.1" r="3.4"/><circle cx="296.8" cy="351.5" r="3.4"/><circle cx="305.0" cy="303.1" r="3.4"/><circle cx="357.1" cy="371.0" r="3.4"/><circle cx="404.3" cy="386.1" r="3.4"/><circle cx="366.2" cy="354.5" r="3.4"/><circle cx="331.4" cy="258.3" r="3.4"/><circle cx="323.5" cy="331.7" r="3.4"/><circle cx="405.3" cy="222.6" r="3.4"/><circle cx="423.5" cy="263.7" r="3.4"/><circle cx="344.0" cy="372.2" r="3.4"/><circle cx="327.9" cy="396.8" r="3.4"/><circle cx="358.0" cy="310.0" r="3.4"/><circle cx="391.2" cy="328.8" r="3.4"/><circle cx="330.1" cy="324.4" r="3.4"/><circle cx="431.8" cy="300.4" r="3.4"/><circle cx="414.4" cy="332.3" r="3.4"/><circle cx="404.4" cy="300.0" r="3.4"/><circle cx="328.7" cy="379.2" r="3.4"/><circle cx="298.2" cy="246.0" r="3.4"/><circle cx="397.6" cy="322.6" r="3.4"/><circle cx="376.1" cy="317.6" r="3.4"/><circle cx="417.1" cy="309.6" r="3.4"/><circle cx="350.5" cy="313.5" r="3.4"/><circle cx="333.7" cy="372.8" r="3.4"/><circle cx="343.1" cy="338.5" r="3.4"/><circle cx="375.6" cy="164.8" r="3.4"/><circle cx="344.0" cy="303.6" r="3.4"/><circle cx="274.8" cy="341.4" r="3.4"/><circle cx="310.7" cy="185.2" r="3.4"/><circle cx="449.2" cy="312.7" r="3.4"/><circle cx="429.0" cy="374.1" r="3.4"/><circle cx="334.5" cy="300.2" r="3.4"/><circle cx="275.7" cy="366.0" r="3.4"/><circle cx="485.0" cy="355.5" r="3.4"/><circle cx="344.8" cy="416.2" r="3.4"/><circle cx="283.4" cy="429.4" r="3.4"/><circle cx="413.1" cy="328.5" r="3.4"/><circle cx="352.8" cy="336.7" r="3.4"/><circle cx="308.3" cy="318.1" r="3.4"/><circle cx="384.3" cy="295.1" r="3.4"/><circle cx="341.9" cy="320.4" r="3.4"/><circle cx="389.0" cy="401.7" r="3.4"/><circle cx="345.7" cy="337.2" r="3.4"/><circle cx="292.7" cy="305.8" r="3.4"/><circle cx="376.5" cy="282.1" r="3.4"/><circle cx="390.6" cy="347.7" r="3.4"/><circle cx="289.7" cy="298.0" r="3.4"/><circle cx="343.9" cy="230.2" r="3.4"/><circle cx="363.0" cy="387.5" r="3.4"/><circle cx="290.3" cy="265.1" r="3.4"/><circle cx="365.0" cy="333.9" r="3.4"/><circle cx="416.8" cy="329.9" r="3.4"/><circle cx="359.7" cy="290.0" r="3.4"/><circle cx="304.7" cy="295.8" r="3.4"/><circle cx="412.3" cy="325.7" r="3.4"/><circle cx="353.1" cy="313.2" r="3.4"/><circle cx="288.7" cy="301.4" r="3.4"/><circle cx="427.3" cy="337.6" r="3.4"/><circle cx="357.8" cy="336.1" r="3.4"/><circle cx="386.2" cy="277.6" r="3.4"/><circle cx="272.6" cy="319.0" r="3.4"/><circle cx="405.7" cy="378.8" r="3.4"/><circle cx="316.6" cy="337.1" r="3.4"/><circle cx="367.5" cy="382.8" r="3.4"/><circle cx="407.5" cy="305.8" r="3.4"/><circle cx="325.9" cy="357.5" r="3.4"/><circle cx="352.7" cy="349.4" r="3.4"/><circle cx="359.7" cy="286.0" r="3.4"/><circle cx="362.2" cy="192.1" r="3.4"/><circle cx="293.5" cy="320.3" r="3.4"/><circle cx="375.5" cy="146.5" r="3.4"/><circle cx="420.3" cy="342.2" r="3.4"/><circle cx="299.6" cy="369.0" r="3.4"/><circle cx="298.9" cy="277.7" r="3.4"/><circle cx="280.0" cy="358.4" r="3.4"/><circle cx="330.2" cy="300.6" r="3.4"/><circle cx="334.9" cy="349.1" r="3.4"/><circle cx="426.4" cy="341.2" r="3.4"/><circle cx="418.3" cy="294.0" r="3.4"/><circle cx="384.5" cy="322.3" r="3.4"/><circle cx="378.6" cy="301.2" r="3.4"/><circle cx="332.7" cy="379.3" r="3.4"/><circle cx="384.5" cy="303.9" r="3.4"/><circle cx="371.2" cy="359.6" r="3.4"/><circle cx="360.5" cy="260.8" r="3.4"/><circle cx="401.8" cy="365.3" r="3.4"/><circle cx="335.4" cy="310.0" r="3.4"/><circle cx="387.7" cy="340.2" r="3.4"/><circle cx="415.8" cy="358.9" r="3.4"/><circle cx="353.8" cy="359.7" r="3.4"/><circle cx="327.8" cy="41.3" r="3.4"/><circle cx="307.0" cy="355.9" r="3.4"/><circle cx="337.4" cy="360.2" r="3.4"/><circle cx="286.6" cy="329.8" r="3.4"/><circle cx="361.8" cy="330.4" r="3.4"/><circle cx="302.7" cy="336.7" r="3.4"/><circle cx="334.1" cy="159.3" r="3.4"/><circle cx="302.8" cy="320.9" r="3.4"/><circle cx="355.8" cy="196.2" r="3.4"/><circle cx="356.5" cy="277.8" r="3.4"/><circle cx="312.2" cy="323.9" r="3.4"/><circle cx="287.0" cy="326.4" r="3.4"/><circle cx="362.0" cy="280.3" r="3.4"/><circle cx="395.1" cy="144.3" r="3.4"/><circle cx="370.7" cy="370.4" r="3.4"/><circle cx="440.2" cy="310.9" r="3.4"/><circle cx="417.7" cy="332.3" r="3.4"/><circle cx="341.9" cy="330.2" r="3.4"/><circle cx="314.9" cy="321.9" r="3.4"/><circle cx="340.6" cy="332.9" r="3.4"/><circle cx="289.0" cy="271.9" r="3.4"/><circle cx="281.4" cy="349.5" r="3.4"/><circle cx="372.1" cy="341.6" r="3.4"/><circle cx="372.2" cy="337.7" r="3.4"/><circle cx="439.6" cy="252.9" r="3.4"/><circle cx="365.0" cy="332.9" r="3.4"/><circle cx="421.4" cy="277.5" r="3.4"/><circle cx="285.5" cy="378.1" r="3.4"/><circle cx="378.6" cy="367.8" r="3.4"/><circle cx="331.2" cy="340.8" r="3.4"/><circle cx="370.4" cy="343.5" r="3.4"/><circle cx="321.2" cy="342.7" r="3.4"/><circle cx="345.4" cy="359.5" r="3.4"/><circle cx="364.1" cy="341.2" r="3.4"/><circle cx="336.4" cy="349.5" r="3.4"/><circle cx="423.2" cy="382.8" r="3.4"/><circle cx="402.1" cy="357.6" r="3.4"/><circle cx="439.2" cy="342.1" r="3.4"/><circle cx="398.3" cy="138.1" r="3.4"/><circle cx="318.1" cy="376.8" r="3.4"/><circle cx="357.4" cy="352.1" r="3.4"/><circle cx="384.4" cy="336.0" r="3.4"/><circle cx="396.1" cy="351.2" r="3.4"/><circle cx="354.9" cy="359.7" r="3.4"/><circle cx="444.4" cy="317.3" r="3.4"/><circle cx="319.2" cy="318.3" r="3.4"/><circle cx="318.3" cy="358.1" r="3.4"/><circle cx="312.6" cy="321.5" r="3.4"/><circle cx="402.7" cy="301.3" r="3.4"/><circle cx="326.7" cy="363.6" r="3.4"/><circle cx="288.1" cy="350.0" r="3.4"/><circle cx="429.0" cy="382.0" r="3.4"/><circle cx="345.9" cy="406.5" r="3.4"/><circle cx="297.4" cy="297.2" r="3.4"/><circle cx="366.3" cy="198.0" r="3.4"/><circle cx="394.6" cy="327.5" r="3.4"/><circle cx="369.8" cy="348.9" r="3.4"/><circle cx="393.0" cy="246.2" r="3.4"/><circle cx="371.2" cy="162.2" r="3.4"/><circle cx="439.8" cy="313.0" r="3.4"/><circle cx="333.9" cy="364.8" r="3.4"/><circle cx="379.3" cy="158.0" r="3.4"/><circle cx="372.4" cy="345.2" r="3.4"/><circle cx="344.1" cy="357.0" r="3.4"/><circle cx="384.7" cy="291.8" r="3.4"/><circle cx="378.7" cy="341.8" r="3.4"/><circle cx="344.8" cy="261.9" r="3.4"/><circle cx="365.7" cy="348.0" r="3.4"/><circle cx="397.5" cy="162.8" r="3.4"/><circle cx="478.8" cy="373.6" r="3.4"/><circle cx="411.8" cy="358.0" r="3.4"/><circle cx="365.7" cy="364.1" r="3.4"/><circle cx="317.0" cy="267.2" r="3.4"/><circle cx="399.2" cy="267.2" r="3.4"/><circle cx="367.4" cy="318.8" r="3.4"/><circle cx="414.9" cy="267.2" r="3.4"/><circle cx="467.5" cy="346.2" r="3.4"/><circle cx="296.7" cy="232.3" r="3.4"/><circle cx="419.3" cy="373.8" r="3.4"/><circle cx="318.0" cy="319.7" r="3.4"/><circle cx="340.1" cy="346.8" r="3.4"/><circle cx="361.0" cy="379.8" r="3.4"/><circle cx="417.5" cy="340.3" r="3.4"/><circle cx="379.7" cy="271.4" r="3.4"/><circle cx="405.3" cy="336.3" r="3.4"/><circle cx="355.0" cy="377.4" r="3.4"/><circle cx="441.0" cy="240.9" r="3.4"/><circle cx="353.6" cy="316.3" r="3.4"/><circle cx="385.1" cy="368.0" r="3.4"/><circle cx="313.1" cy="363.3" r="3.4"/><circle cx="407.3" cy="361.8" r="3.4"/><circle cx="336.1" cy="345.0" r="3.4"/><circle cx="367.5" cy="380.1" r="3.4"/><circle cx="415.0" cy="352.7" r="3.4"/><circle cx="378.1" cy="359.9" r="3.4"/><circle cx="410.2" cy="364.6" r="3.4"/><circle cx="327.7" cy="332.7" r="3.4"/><circle cx="350.4" cy="367.0" r="3.4"/><circle cx="360.3" cy="321.2" r="3.4"/><circle cx="275.1" cy="375.5" r="3.4"/><circle cx="378.6" cy="322.2" r="3.4"/><circle cx="299.1" cy="368.7" r="3.4"/><circle cx="442.1" cy="293.5" r="3.4"/><circle cx="383.5" cy="345.2" r="3.4"/><circle cx="357.7" cy="317.4" r="3.4"/><circle cx="452.5" cy="273.4" r="3.4"/><circle cx="309.6" cy="328.6" r="3.4"/><circle cx="373.4" cy="297.3" r="3.4"/><circle cx="424.5" cy="296.0" r="3.4"/><circle cx="382.4" cy="307.2" r="3.4"/><circle cx="357.8" cy="333.9" r="3.4"/><circle cx="337.8" cy="327.8" r="3.4"/><circle cx="369.4" cy="315.1" r="3.4"/><circle cx="452.7" cy="365.3" r="3.4"/><circle cx="358.1" cy="349.1" r="3.4"/><circle cx="335.6" cy="384.3" r="3.4"/><circle cx="348.3" cy="356.5" r="3.4"/><circle cx="350.7" cy="319.6" r="3.4"/><circle cx="271.4" cy="361.9" r="3.4"/><circle cx="367.8" cy="373.9" r="3.4"/><circle cx="290.3" cy="299.9" r="3.4"/><circle cx="329.5" cy="351.6" r="3.4"/><circle cx="355.1" cy="366.5" r="3.4"/><circle cx="440.3" cy="250.6" r="3.4"/><circle cx="378.2" cy="401.1" r="3.4"/><circle cx="298.8" cy="341.9" r="3.4"/><circle cx="344.2" cy="302.5" r="3.4"/><circle cx="369.5" cy="339.4" r="3.4"/><circle cx="453.4" cy="267.2" r="3.4"/><circle cx="369.8" cy="349.6" r="3.4"/><circle cx="348.8" cy="380.4" r="3.4"/><circle cx="435.9" cy="360.7" r="3.4"/><circle cx="411.4" cy="350.7" r="3.4"/><circle cx="364.7" cy="325.2" r="3.4"/><circle cx="366.5" cy="315.1" r="3.4"/><circle cx="369.8" cy="360.7" r="3.4"/><circle cx="271.2" cy="316.4" r="3.4"/><circle cx="323.1" cy="364.7" r="3.4"/><circle cx="328.5" cy="310.4" r="3.4"/><circle cx="363.5" cy="368.1" r="3.4"/><circle cx="391.9" cy="339.1" r="3.4"/><circle cx="381.5" cy="385.7" r="3.4"/><circle cx="383.5" cy="370.2" r="3.4"/><circle cx="326.1" cy="284.4" r="3.4"/><circle cx="395.4" cy="252.1" r="3.4"/><circle cx="334.0" cy="278.3" r="3.4"/><circle cx="364.7" cy="383.3" r="3.4"/><circle cx="274.5" cy="265.8" r="3.4"/><circle cx="283.9" cy="333.2" r="3.4"/><circle cx="361.4" cy="344.0" r="3.4"/><circle cx="269.6" cy="343.4" r="3.4"/><circle cx="383.6" cy="357.6" r="3.4"/><circle cx="321.0" cy="275.9" r="3.4"/><circle cx="371.5" cy="333.3" r="3.4"/><circle cx="374.8" cy="265.3" r="3.4"/><circle cx="378.2" cy="335.3" r="3.4"/><circle cx="269.3" cy="354.7" r="3.4"/><circle cx="336.2" cy="344.6" r="3.4"/><circle cx="426.6" cy="356.9" r="3.4"/><circle cx="285.6" cy="352.9" r="3.4"/><circle cx="340.8" cy="356.8" r="3.4"/><circle cx="364.0" cy="328.4" r="3.4"/><circle cx="355.9" cy="390.8" r="3.4"/><circle cx="450.5" cy="255.0" r="3.4"/><circle cx="308.6" cy="257.6" r="3.4"/><circle cx="316.2" cy="226.4" r="3.4"/><circle cx="358.8" cy="290.5" r="3.4"/><circle cx="255.9" cy="340.5" r="3.4"/><circle cx="369.5" cy="147.5" r="3.4"/><circle cx="392.1" cy="371.5" r="3.4"/><circle cx="320.3" cy="346.8" r="3.4"/><circle cx="353.1" cy="383.2" r="3.4"/><circle cx="299.8" cy="261.4" r="3.4"/><circle cx="328.9" cy="339.6" r="3.4"/><circle cx="303.7" cy="282.4" r="3.4"/><circle cx="335.8" cy="402.0" r="3.4"/><circle cx="389.6" cy="355.3" r="3.4"/><circle cx="397.9" cy="205.6" r="3.4"/><circle cx="310.5" cy="308.6" r="3.4"/><circle cx="312.3" cy="370.8" r="3.4"/><circle cx="413.1" cy="352.8" r="3.4"/><circle cx="316.9" cy="286.0" r="3.4"/><circle cx="291.4" cy="307.2" r="3.4"/><circle cx="390.0" cy="329.9" r="3.4"/><circle cx="348.7" cy="312.1" r="3.4"/><circle cx="433.8" cy="257.0" r="3.4"/><circle cx="359.4" cy="251.2" r="3.4"/><circle cx="477.3" cy="208.5" r="3.4"/><circle cx="361.0" cy="258.3" r="3.4"/><circle cx="403.7" cy="236.2" r="3.4"/><circle cx="373.2" cy="334.2" r="3.4"/><circle cx="407.3" cy="352.7" r="3.4"/><circle cx="286.4" cy="353.9" r="3.4"/><circle cx="399.3" cy="340.1" r="3.4"/><circle cx="372.7" cy="298.1" r="3.4"/><circle cx="377.4" cy="317.6" r="3.4"/><circle cx="415.7" cy="319.2" r="3.4"/><circle cx="424.4" cy="361.1" r="3.4"/><circle cx="404.0" cy="317.6" r="3.4"/><circle cx="362.6" cy="355.2" r="3.4"/><circle cx="407.0" cy="377.4" r="3.4"/><circle cx="371.0" cy="315.6" r="3.4"/><circle cx="394.3" cy="333.1" r="3.4"/><circle cx="398.4" cy="345.7" r="3.4"/><circle cx="337.6" cy="352.9" r="3.4"/><circle cx="435.2" cy="350.4" r="3.4"/><circle cx="381.0" cy="374.6" r="3.4"/><circle cx="356.1" cy="361.5" r="3.4"/><circle cx="395.8" cy="246.2" r="3.4"/><circle cx="301.8" cy="357.2" r="3.4"/><circle cx="347.1" cy="393.4" r="3.4"/><circle cx="411.4" cy="385.4" r="3.4"/><circle cx="346.3" cy="388.0" r="3.4"/><circle cx="405.3" cy="314.9" r="3.4"/><circle cx="351.9" cy="237.0" r="3.4"/><circle cx="413.5" cy="349.6" r="3.4"/><circle cx="354.3" cy="324.7" r="3.4"/><circle cx="342.2" cy="346.0" r="3.4"/><circle cx="312.4" cy="230.1" r="3.4"/><circle cx="425.9" cy="368.5" r="3.4"/><circle cx="301.2" cy="344.5" r="3.4"/><circle cx="357.7" cy="338.7" r="3.4"/><circle cx="390.7" cy="370.5" r="3.4"/><circle cx="361.4" cy="387.7" r="3.4"/><circle cx="374.5" cy="308.7" r="3.4"/><circle cx="314.8" cy="245.1" r="3.4"/><circle cx="281.9" cy="332.0" r="3.4"/><circle cx="325.2" cy="347.7" r="3.4"/><circle cx="344.4" cy="361.9" r="3.4"/><circle cx="318.9" cy="363.4" r="3.4"/><circle cx="306.9" cy="218.4" r="3.4"/><circle cx="401.6" cy="309.8" r="3.4"/><circle cx="295.6" cy="368.1" r="3.4"/><circle cx="395.7" cy="282.6" r="3.4"/><circle cx="368.3" cy="351.1" r="3.4"/><circle cx="320.1" cy="351.5" r="3.4"/><circle cx="319.9" cy="334.5" r="3.4"/><circle cx="404.3" cy="298.5" r="3.4"/><circle cx="346.0" cy="228.1" r="3.4"/><circle cx="359.9" cy="346.2" r="3.4"/><circle cx="415.8" cy="396.0" r="3.4"/><circle cx="334.3" cy="306.4" r="3.4"/><circle cx="372.3" cy="212.6" r="3.4"/><circle cx="358.2" cy="252.5" r="3.4"/><circle cx="384.9" cy="357.6" r="3.4"/><circle cx="377.9" cy="341.3" r="3.4"/><circle cx="330.5" cy="370.4" r="3.4"/><circle cx="373.3" cy="375.5" r="3.4"/><circle cx="396.8" cy="324.8" r="3.4"/><circle cx="266.3" cy="360.9" r="3.4"/><circle cx="285.3" cy="398.5" r="3.4"/><circle cx="350.0" cy="349.5" r="3.4"/><circle cx="395.5" cy="384.0" r="3.4"/><circle cx="386.6" cy="359.3" r="3.4"/><circle cx="404.5" cy="324.6" r="3.4"/><circle cx="310.2" cy="332.8" r="3.4"/><circle cx="333.2" cy="349.2" r="3.4"/><circle cx="368.8" cy="355.0" r="3.4"/><circle cx="443.0" cy="295.7" r="3.4"/><circle cx="302.6" cy="347.2" r="3.4"/><circle cx="414.3" cy="306.2" r="3.4"/><circle cx="299.1" cy="314.7" r="3.4"/><circle cx="307.3" cy="330.2" r="3.4"/><circle cx="325.4" cy="335.2" r="3.4"/><circle cx="293.9" cy="302.4" r="3.4"/><circle cx="316.4" cy="342.3" r="3.4"/><circle cx="301.2" cy="352.3" r="3.4"/><circle cx="380.2" cy="331.9" r="3.4"/><circle cx="328.6" cy="349.9" r="3.4"/><circle cx="424.5" cy="327.8" r="3.4"/><circle cx="401.4" cy="374.8" r="3.4"/><circle cx="340.7" cy="383.3" r="3.4"/><circle cx="298.0" cy="296.2" r="3.4"/><circle cx="431.3" cy="388.9" r="3.4"/><circle cx="316.1" cy="347.6" r="3.4"/><circle cx="363.4" cy="346.4" r="3.4"/><circle cx="393.0" cy="366.8" r="3.4"/><circle cx="358.9" cy="375.2" r="3.4"/><circle cx="398.5" cy="340.3" r="3.4"/><circle cx="289.1" cy="360.9" r="3.4"/><circle cx="415.4" cy="255.8" r="3.4"/><circle cx="312.0" cy="278.5" r="3.4"/><circle cx="385.0" cy="356.0" r="3.4"/><circle cx="370.6" cy="353.8" r="3.4"/><circle cx="345.1" cy="396.0" r="3.4"/><circle cx="353.1" cy="353.5" r="3.4"/><circle cx="380.0" cy="331.8" r="3.4"/><circle cx="347.4" cy="333.2" r="3.4"/><circle cx="400.3" cy="344.5" r="3.4"/><circle cx="388.2" cy="359.5" r="3.4"/><circle cx="476.1" cy="342.9" r="3.4"/><circle cx="407.3" cy="382.9" r="3.4"/><circle cx="276.3" cy="325.2" r="3.4"/><circle cx="291.7" cy="327.7" r="3.4"/><circle cx="288.5" cy="425.8" r="3.4"/><circle cx="347.9" cy="360.3" r="3.4"/><circle cx="380.4" cy="356.5" r="3.4"/><circle cx="372.0" cy="305.5" r="3.4"/><circle cx="432.4" cy="360.3" r="3.4"/><circle cx="339.3" cy="366.2" r="3.4"/><circle cx="367.0" cy="187.4" r="3.4"/><circle cx="383.4" cy="313.0" r="3.4"/><circle cx="370.7" cy="294.2" r="3.4"/><circle cx="291.0" cy="340.0" r="3.4"/><circle cx="460.2" cy="272.3" r="3.4"/><circle cx="271.7" cy="430.7" r="3.4"/><circle cx="432.2" cy="275.0" r="3.4"/><circle cx="364.6" cy="259.3" r="3.4"/><circle cx="404.5" cy="292.8" r="3.4"/><circle cx="434.6" cy="353.9" r="3.4"/><circle cx="429.7" cy="378.0" r="3.4"/><circle cx="334.9" cy="356.2" r="3.4"/><circle cx="338.2" cy="297.6" r="3.4"/><circle cx="326.1" cy="372.1" r="3.4"/><circle cx="320.4" cy="242.3" r="3.4"/><circle cx="336.5" cy="362.3" r="3.4"/><circle cx="386.8" cy="356.1" r="3.4"/><circle cx="294.0" cy="371.8" r="3.4"/><circle cx="390.1" cy="371.9" r="3.4"/><circle cx="281.2" cy="316.9" r="3.4"/><circle cx="330.1" cy="348.3" r="3.4"/><circle cx="361.6" cy="390.4" r="3.4"/><circle cx="375.1" cy="235.4" r="3.4"/><circle cx="347.2" cy="326.6" r="3.4"/><circle cx="311.3" cy="342.7" r="3.4"/><circle cx="315.2" cy="296.4" r="3.4"/><circle cx="439.5" cy="375.2" r="3.4"/><circle cx="382.6" cy="380.7" r="3.4"/><circle cx="283.2" cy="353.0" r="3.4"/><circle cx="368.3" cy="320.2" r="3.4"/><circle cx="358.2" cy="396.0" r="3.4"/><circle cx="295.8" cy="269.6" r="3.4"/><circle cx="322.6" cy="292.4" r="3.4"/><circle cx="372.6" cy="382.6" r="3.4"/><circle cx="297.0" cy="319.3" r="3.4"/><circle cx="426.8" cy="312.7" r="3.4"/><circle cx="381.4" cy="386.3" r="3.4"/><circle cx="394.4" cy="355.2" r="3.4"/><circle cx="304.8" cy="357.3" r="3.4"/><circle cx="358.7" cy="349.2" r="3.4"/><circle cx="379.3" cy="352.6" r="3.4"/><circle cx="365.4" cy="295.2" r="3.4"/><circle cx="391.9" cy="345.4" r="3.4"/><circle cx="310.3" cy="339.8" r="3.4"/><circle cx="437.4" cy="349.2" r="3.4"/><circle cx="374.7" cy="361.7" r="3.4"/><circle cx="363.0" cy="328.5" r="3.4"/><circle cx="341.2" cy="380.7" r="3.4"/><circle cx="370.2" cy="362.6" r="3.4"/><circle cx="360.0" cy="338.9" r="3.4"/><circle cx="370.2" cy="331.3" r="3.4"/><circle cx="394.4" cy="340.2" r="3.4"/><circle cx="314.6" cy="296.9" r="3.4"/><circle cx="277.5" cy="357.2" r="3.4"/><circle cx="322.9" cy="336.0" r="3.4"/><circle cx="271.7" cy="343.2" r="3.4"/><circle cx="438.2" cy="346.6" r="3.4"/><circle cx="402.5" cy="322.6" r="3.4"/><circle cx="273.5" cy="374.9" r="3.4"/><circle cx="375.0" cy="356.3" r="3.4"/><circle cx="463.2" cy="318.1" r="3.4"/><circle cx="260.1" cy="336.8" r="3.4"/><circle cx="380.2" cy="290.5" r="3.4"/><circle cx="462.4" cy="202.4" r="3.4"/><circle cx="363.4" cy="333.4" r="3.4"/><circle cx="378.5" cy="359.9" r="3.4"/><circle cx="442.6" cy="310.2" r="3.4"/><circle cx="343.2" cy="378.5" r="3.4"/><circle cx="416.3" cy="257.6" r="3.4"/><circle cx="337.7" cy="394.0" r="3.4"/><circle cx="311.3" cy="382.8" r="3.4"/><circle cx="292.9" cy="290.3" r="3.4"/><circle cx="377.2" cy="369.4" r="3.4"/><circle cx="426.6" cy="349.2" r="3.4"/><circle cx="406.8" cy="354.1" r="3.4"/><circle cx="378.2" cy="357.7" r="3.4"/><circle cx="379.9" cy="288.6" r="3.4"/><circle cx="311.9" cy="331.1" r="3.4"/><circle cx="398.5" cy="341.4" r="3.4"/><circle cx="335.1" cy="309.3" r="3.4"/><circle cx="312.7" cy="352.4" r="3.4"/><circle cx="386.8" cy="343.1" r="3.4"/><circle cx="379.9" cy="340.1" r="3.4"/><circle cx="413.9" cy="336.6" r="3.4"/><circle cx="355.2" cy="373.2" r="3.4"/><circle cx="333.8" cy="355.3" r="3.4"/><circle cx="289.2" cy="259.9" r="3.4"/><circle cx="422.7" cy="251.8" r="3.4"/><circle cx="403.3" cy="357.1" r="3.4"/><circle cx="316.4" cy="306.7" r="3.4"/><circle cx="389.5" cy="335.2" r="3.4"/><circle cx="279.4" cy="321.3" r="3.4"/><circle cx="288.7" cy="371.5" r="3.4"/><circle cx="377.7" cy="351.7" r="3.4"/><circle cx="419.5" cy="373.4" r="3.4"/><circle cx="329.9" cy="338.6" r="3.4"/><circle cx="426.8" cy="344.9" r="3.4"/><circle cx="315.2" cy="309.4" r="3.4"/><circle cx="348.1" cy="371.0" r="3.4"/><circle cx="284.7" cy="367.9" r="3.4"/><circle cx="369.6" cy="171.8" r="3.4"/><circle cx="386.4" cy="313.6" r="3.4"/><circle cx="320.2" cy="324.3" r="3.4"/><circle cx="448.9" cy="242.0" r="3.4"/><circle cx="369.3" cy="330.5" r="3.4"/><circle cx="405.8" cy="286.1" r="3.4"/><circle cx="340.3" cy="365.3" r="3.4"/><circle cx="366.0" cy="361.1" r="3.4"/><circle cx="374.2" cy="262.8" r="3.4"/><circle cx="369.9" cy="365.4" r="3.4"/><circle cx="274.1" cy="345.3" r="3.4"/><circle cx="398.6" cy="343.3" r="3.4"/><circle cx="342.5" cy="371.4" r="3.4"/><circle cx="286.2" cy="367.2" r="3.4"/><circle cx="348.5" cy="247.5" r="3.4"/><circle cx="333.8" cy="368.8" r="3.4"/><circle cx="415.9" cy="332.0" r="3.4"/><circle cx="314.6" cy="266.6" r="3.4"/><circle cx="391.8" cy="366.4" r="3.4"/><circle cx="330.5" cy="347.6" r="3.4"/><circle cx="331.9" cy="354.0" r="3.4"/><circle cx="441.9" cy="334.7" r="3.4"/><circle cx="405.5" cy="355.1" r="3.4"/><circle cx="304.5" cy="328.3" r="3.4"/><circle cx="396.1" cy="342.2" r="3.4"/><circle cx="334.6" cy="365.0" r="3.4"/><circle cx="318.4" cy="326.2" r="3.4"/><circle cx="406.6" cy="262.1" r="3.4"/><circle cx="328.0" cy="298.1" r="3.4"/><circle cx="323.9" cy="26.1" r="3.4"/><circle cx="432.5" cy="262.6" r="3.4"/><circle cx="346.3" cy="347.0" r="3.4"/><circle cx="343.8" cy="344.3" r="3.4"/><circle cx="382.4" cy="374.6" r="3.4"/><circle cx="368.4" cy="352.3" r="3.4"/><circle cx="399.0" cy="347.9" r="3.4"/><circle cx="403.4" cy="348.1" r="3.4"/><circle cx="336.5" cy="274.1" r="3.4"/><circle cx="278.4" cy="360.7" r="3.4"/><circle cx="352.2" cy="391.9" r="3.4"/><circle cx="352.5" cy="316.5" r="3.4"/><circle cx="320.7" cy="356.4" r="3.4"/><circle cx="332.8" cy="367.8" r="3.4"/><circle cx="274.1" cy="374.3" r="3.4"/><circle cx="404.2" cy="246.5" r="3.4"/><circle cx="313.1" cy="375.3" r="3.4"/><circle cx="386.3" cy="332.3" r="3.4"/><circle cx="389.5" cy="323.1" r="3.4"/><circle cx="425.1" cy="277.3" r="3.4"/><circle cx="306.3" cy="371.3" r="3.4"/><circle cx="311.6" cy="352.2" r="3.4"/><circle cx="420.1" cy="399.9" r="3.4"/><circle cx="381.2" cy="345.1" r="3.4"/><circle cx="391.5" cy="377.9" r="3.4"/><circle cx="306.4" cy="260.6" r="3.4"/><circle cx="341.5" cy="368.6" r="3.4"/><circle cx="426.6" cy="271.2" r="3.4"/><circle cx="334.4" cy="228.5" r="3.4"/><circle cx="415.1" cy="350.8" r="3.4"/><circle cx="315.6" cy="337.0" r="3.4"/><circle cx="411.4" cy="347.1" r="3.4"/><circle cx="428.1" cy="346.3" r="3.4"/><circle cx="334.9" cy="349.9" r="3.4"/><circle cx="351.9" cy="344.8" r="3.4"/><circle cx="390.0" cy="339.7" r="3.4"/><circle cx="346.4" cy="254.7" r="3.4"/><circle cx="325.5" cy="357.7" r="3.4"/><circle cx="367.6" cy="337.5" r="3.4"/><circle cx="405.4" cy="313.1" r="3.4"/><circle cx="322.5" cy="75.2" r="3.4"/><circle cx="336.3" cy="289.1" r="3.4"/><circle cx="376.7" cy="301.1" r="3.4"/><circle cx="432.8" cy="330.2" r="3.4"/><circle cx="292.4" cy="344.7" r="3.4"/><circle cx="285.8" cy="275.5" r="3.4"/><circle cx="351.1" cy="347.5" r="3.4"/><circle cx="366.3" cy="342.7" r="3.4"/><circle cx="358.6" cy="325.5" r="3.4"/><circle cx="421.1" cy="378.7" r="3.4"/><circle cx="338.9" cy="362.5" r="3.4"/><circle cx="345.8" cy="361.4" r="3.4"/><circle cx="308.5" cy="228.5" r="3.4"/><circle cx="369.1" cy="350.2" r="3.4"/><circle cx="305.4" cy="263.4" r="3.4"/><circle cx="298.6" cy="359.5" r="3.4"/><circle cx="312.7" cy="366.0" r="3.4"/><circle cx="335.1" cy="236.9" r="3.4"/><circle cx="333.9" cy="337.2" r="3.4"/><circle cx="389.2" cy="305.4" r="3.4"/><circle cx="308.2" cy="354.2" r="3.4"/><circle cx="269.6" cy="321.3" r="3.4"/><circle cx="469.6" cy="213.8" r="3.4"/><circle cx="362.6" cy="316.2" r="3.4"/><circle cx="334.2" cy="347.9" r="3.4"/><circle cx="320.9" cy="290.1" r="3.4"/><circle cx="454.4" cy="209.5" r="3.4"/><circle cx="373.1" cy="236.1" r="3.4"/><circle cx="304.7" cy="341.9" r="3.4"/><circle cx="300.1" cy="354.9" r="3.4"/><circle cx="377.7" cy="384.4" r="3.4"/><circle cx="347.9" cy="346.3" r="3.4"/><circle cx="393.9" cy="317.2" r="3.4"/><circle cx="326.1" cy="379.1" r="3.4"/><circle cx="395.2" cy="273.3" r="3.4"/><circle cx="380.3" cy="322.7" r="3.4"/><circle cx="267.5" cy="371.0" r="3.4"/><circle cx="334.2" cy="356.8" r="3.4"/><circle cx="466.9" cy="398.1" r="3.4"/><circle cx="365.7" cy="161.8" r="3.4"/><circle cx="348.6" cy="242.7" r="3.4"/><circle cx="343.8" cy="329.5" r="3.4"/><circle cx="426.2" cy="378.5" r="3.4"/><circle cx="333.4" cy="372.7" r="3.4"/><circle cx="407.1" cy="255.5" r="3.4"/><circle cx="417.7" cy="364.2" r="3.4"/><circle cx="391.7" cy="381.3" r="3.4"/><circle cx="338.8" cy="331.1" r="3.4"/><circle cx="293.7" cy="372.2" r="3.4"/><circle cx="332.1" cy="316.6" r="3.4"/><circle cx="349.9" cy="396.5" r="3.4"/><circle cx="387.8" cy="337.7" r="3.4"/><circle cx="351.9" cy="350.6" r="3.4"/><circle cx="419.6" cy="360.2" r="3.4"/><circle cx="332.4" cy="329.7" r="3.4"/><circle cx="260.2" cy="339.8" r="3.4"/><circle cx="374.4" cy="227.1" r="3.4"/><circle cx="356.8" cy="369.2" r="3.4"/><circle cx="357.2" cy="346.9" r="3.4"/><circle cx="303.8" cy="356.1" r="3.4"/><circle cx="368.1" cy="328.7" r="3.4"/><circle cx="333.6" cy="329.1" r="3.4"/><circle cx="409.6" cy="360.8" r="3.4"/><circle cx="322.6" cy="377.4" r="3.4"/><circle cx="327.7" cy="276.0" r="3.4"/><circle cx="340.2" cy="380.2" r="3.4"/><circle cx="372.6" cy="350.6" r="3.4"/><circle cx="279.3" cy="331.9" r="3.4"/><circle cx="372.1" cy="318.8" r="3.4"/><circle cx="365.8" cy="334.5" r="3.4"/><circle cx="321.4" cy="294.4" r="3.4"/><circle cx="364.0" cy="317.3" r="3.4"/><circle cx="264.3" cy="339.9" r="3.4"/><circle cx="403.6" cy="353.6" r="3.4"/><circle cx="351.5" cy="342.2" r="3.4"/><circle cx="391.1" cy="374.6" r="3.4"/><circle cx="327.4" cy="374.0" r="3.4"/><circle cx="318.9" cy="351.1" r="3.4"/><circle cx="372.3" cy="371.7" r="3.4"/><circle cx="342.7" cy="308.3" r="3.4"/><circle cx="377.3" cy="309.1" r="3.4"/><circle cx="371.4" cy="207.6" r="3.4"/><circle cx="339.9" cy="282.7" r="3.4"/><circle cx="359.1" cy="390.3" r="3.4"/><circle cx="298.4" cy="343.4" r="3.4"/><circle cx="373.5" cy="370.0" r="3.4"/><circle cx="329.9" cy="359.2" r="3.4"/><circle cx="412.8" cy="367.0" r="3.4"/><circle cx="375.2" cy="366.3" r="3.4"/><circle cx="303.1" cy="295.4" r="3.4"/><circle cx="454.9" cy="241.2" r="3.4"/><circle cx="398.1" cy="312.7" r="3.4"/><circle cx="314.0" cy="288.5" r="3.4"/><circle cx="362.7" cy="344.4" r="3.4"/><circle cx="283.8" cy="303.9" r="3.4"/><circle cx="325.5" cy="402.9" r="3.4"/><circle cx="344.1" cy="196.9" r="3.4"/><circle cx="369.5" cy="349.8" r="3.4"/><circle cx="383.7" cy="355.8" r="3.4"/><circle cx="374.4" cy="330.4" r="3.4"/><circle cx="423.9" cy="248.4" r="3.4"/><circle cx="404.5" cy="358.0" r="3.4"/><circle cx="302.1" cy="354.4" r="3.4"/><circle cx="380.4" cy="369.0" r="3.4"/><circle cx="348.5" cy="323.3" r="3.4"/><circle cx="361.2" cy="391.7" r="3.4"/><circle cx="330.5" cy="375.8" r="3.4"/><circle cx="327.5" cy="352.5" r="3.4"/><circle cx="288.4" cy="340.4" r="3.4"/><circle cx="345.9" cy="338.5" r="3.4"/><circle cx="292.9" cy="334.7" r="3.4"/><circle cx="404.0" cy="368.4" r="3.4"/><circle cx="301.7" cy="415.9" r="3.4"/><circle cx="378.4" cy="323.5" r="3.4"/><circle cx="366.6" cy="246.9" r="3.4"/><circle cx="324.8" cy="342.3" r="3.4"/><circle cx="384.9" cy="367.4" r="3.4"/><circle cx="357.4" cy="385.2" r="3.4"/><circle cx="363.4" cy="384.1" r="3.4"/><circle cx="289.6" cy="351.8" r="3.4"/><circle cx="317.6" cy="141.2" r="3.4"/><circle cx="364.0" cy="373.2" r="3.4"/><circle cx="356.8" cy="357.7" r="3.4"/><circle cx="445.3" cy="286.0" r="3.4"/><circle cx="436.6" cy="291.2" r="3.4"/><circle cx="319.2" cy="335.8" r="3.4"/><circle cx="294.9" cy="276.8" r="3.4"/><circle cx="316.4" cy="338.8" r="3.4"/><circle cx="412.3" cy="305.6" r="3.4"/><circle cx="403.2" cy="373.0" r="3.4"/><circle cx="326.4" cy="369.2" r="3.4"/><circle cx="402.6" cy="312.7" r="3.4"/><circle cx="422.2" cy="261.8" r="3.4"/><circle cx="364.2" cy="371.1" r="3.4"/><circle cx="341.5" cy="201.4" r="3.4"/><circle cx="333.2" cy="291.9" r="3.4"/><circle cx="402.6" cy="346.6" r="3.4"/><circle cx="351.8" cy="361.3" r="3.4"/><circle cx="373.8" cy="313.1" r="3.4"/><circle cx="386.7" cy="362.7" r="3.4"/><circle cx="405.5" cy="384.1" r="3.4"/><circle cx="333.2" cy="324.2" r="3.4"/><circle cx="344.4" cy="353.2" r="3.4"/><circle cx="424.8" cy="377.9" r="3.4"/><circle cx="344.3" cy="381.0" r="3.4"/><circle cx="341.4" cy="356.6" r="3.4"/><circle cx="318.4" cy="337.3" r="3.4"/><circle cx="439.3" cy="281.4" r="3.4"/><circle cx="418.3" cy="311.1" r="3.4"/><circle cx="370.2" cy="359.0" r="3.4"/><circle cx="391.0" cy="336.2" r="3.4"/><circle cx="286.8" cy="333.8" r="3.4"/><circle cx="406.8" cy="381.2" r="3.4"/><circle cx="320.4" cy="175.6" r="3.4"/><circle cx="369.8" cy="323.2" r="3.4"/><circle cx="390.2" cy="338.4" r="3.4"/><circle cx="420.6" cy="297.3" r="3.4"/><circle cx="345.8" cy="407.5" r="3.4"/><circle cx="382.4" cy="341.6" r="3.4"/><circle cx="410.6" cy="340.3" r="3.4"/><circle cx="380.5" cy="363.5" r="3.4"/><circle cx="425.4" cy="373.1" r="3.4"/><circle cx="360.4" cy="367.4" r="3.4"/><circle cx="307.3" cy="372.8" r="3.4"/><circle cx="392.8" cy="381.8" r="3.4"/><circle cx="365.6" cy="386.6" r="3.4"/><circle cx="373.5" cy="355.1" r="3.4"/><circle cx="358.5" cy="224.9" r="3.4"/><circle cx="308.0" cy="347.6" r="3.4"/><circle cx="314.2" cy="261.9" r="3.4"/><circle cx="370.7" cy="324.9" r="3.4"/><circle cx="337.1" cy="332.2" r="3.4"/><circle cx="327.9" cy="361.1" r="3.4"/><circle cx="334.1" cy="277.8" r="3.4"/><circle cx="292.4" cy="325.7" r="3.4"/><circle cx="409.0" cy="379.9" r="3.4"/><circle cx="289.0" cy="420.7" r="3.4"/><circle cx="320.4" cy="292.8" r="3.4"/><circle cx="322.8" cy="323.6" r="3.4"/><circle cx="358.5" cy="376.9" r="3.4"/><circle cx="323.1" cy="296.0" r="3.4"/><circle cx="345.9" cy="356.9" r="3.4"/><circle cx="368.8" cy="393.9" r="3.4"/><circle cx="370.5" cy="390.1" r="3.4"/><circle cx="301.4" cy="370.5" r="3.4"/><circle cx="364.8" cy="336.4" r="3.4"/><circle cx="327.7" cy="319.4" r="3.4"/><circle cx="310.8" cy="351.8" r="3.4"/><circle cx="298.0" cy="259.6" r="3.4"/><circle cx="383.3" cy="375.9" r="3.4"/><circle cx="292.9" cy="349.4" r="3.4"/><circle cx="294.1" cy="345.4" r="3.4"/><circle cx="319.7" cy="355.9" r="3.4"/><circle cx="343.4" cy="251.9" r="3.4"/><circle cx="360.4" cy="357.0" r="3.4"/><circle cx="324.5" cy="357.7" r="3.4"/><circle cx="386.3" cy="345.4" r="3.4"/><circle cx="406.6" cy="380.8" r="3.4"/><circle cx="395.8" cy="343.5" r="3.4"/><circle cx="362.8" cy="334.9" r="3.4"/><circle cx="344.1" cy="311.5" r="3.4"/><circle cx="418.9" cy="391.0" r="3.4"/><circle cx="346.3" cy="398.2" r="3.4"/><circle cx="355.6" cy="367.3" r="3.4"/><circle cx="273.8" cy="327.8" r="3.4"/><circle cx="347.8" cy="308.9" r="3.4"/><circle cx="308.2" cy="290.7" r="3.4"/><circle cx="351.1" cy="342.9" r="3.4"/><circle cx="283.9" cy="352.0" r="3.4"/><circle cx="314.4" cy="369.5" r="3.4"/><circle cx="375.0" cy="353.3" r="3.4"/><circle cx="360.4" cy="387.1" r="3.4"/><circle cx="379.3" cy="329.3" r="3.4"/><circle cx="327.1" cy="283.8" r="3.4"/><circle cx="332.6" cy="311.0" r="3.4"/><circle cx="408.2" cy="396.2" r="3.4"/><circle cx="426.1" cy="258.6" r="3.4"/><circle cx="414.9" cy="382.7" r="3.4"/><circle cx="420.2" cy="274.9" r="3.4"/><circle cx="390.5" cy="391.3" r="3.4"/><circle cx="367.8" cy="369.6" r="3.4"/><circle cx="297.0" cy="257.2" r="3.4"/><circle cx="403.0" cy="345.9" r="3.4"/><circle cx="292.0" cy="251.8" r="3.4"/><circle cx="364.8" cy="344.0" r="3.4"/><circle cx="420.5" cy="361.9" r="3.4"/><circle cx="387.1" cy="312.2" r="3.4"/><circle cx="415.5" cy="333.5" r="3.4"/><circle cx="283.1" cy="331.4" r="3.4"/><circle cx="405.5" cy="319.1" r="3.4"/><circle cx="311.4" cy="379.2" r="3.4"/><circle cx="271.9" cy="346.0" r="3.4"/><circle cx="361.7" cy="354.9" r="3.4"/><circle cx="362.4" cy="355.4" r="3.4"/><circle cx="283.6" cy="384.3" r="3.4"/><circle cx="323.7" cy="352.1" r="3.4"/><circle cx="268.8" cy="333.5" r="3.4"/><circle cx="341.0" cy="320.1" r="3.4"/><circle cx="394.8" cy="355.4" r="3.4"/><circle cx="359.3" cy="360.3" r="3.4"/><circle cx="326.0" cy="343.5" r="3.4"/><circle cx="360.7" cy="342.3" r="3.4"/><circle cx="342.8" cy="368.0" r="3.4"/><circle cx="326.6" cy="335.2" r="3.4"/><circle cx="342.0" cy="366.2" r="3.4"/><circle cx="322.9" cy="282.9" r="3.4"/><circle cx="329.3" cy="304.8" r="3.4"/><circle cx="271.4" cy="411.7" r="3.4"/><circle cx="329.7" cy="337.6" r="3.4"/><circle cx="265.7" cy="327.5" r="3.4"/><circle cx="332.3" cy="265.2" r="3.4"/><circle cx="372.9" cy="330.0" r="3.4"/><circle cx="288.8" cy="373.2" r="3.4"/><circle cx="364.7" cy="386.4" r="3.4"/><circle cx="398.5" cy="344.5" r="3.4"/><circle cx="268.7" cy="326.0" r="3.4"/><circle cx="307.9" cy="385.2" r="3.4"/><circle cx="430.1" cy="282.8" r="3.4"/><circle cx="315.5" cy="359.2" r="3.4"/><circle cx="341.3" cy="351.9" r="3.4"/><circle cx="361.4" cy="395.2" r="3.4"/><circle cx="370.8" cy="393.8" r="3.4"/><circle cx="412.5" cy="317.7" r="3.4"/><circle cx="442.6" cy="256.2" r="3.4"/><circle cx="325.1" cy="227.9" r="3.4"/><circle cx="382.3" cy="324.5" r="3.4"/><circle cx="372.1" cy="332.9" r="3.4"/><circle cx="343.8" cy="168.3" r="3.4"/><circle cx="340.1" cy="349.4" r="3.4"/><circle cx="426.8" cy="387.0" r="3.4"/><circle cx="285.7" cy="329.5" r="3.4"/><circle cx="415.6" cy="320.1" r="3.4"/><circle cx="383.0" cy="186.7" r="3.4"/><circle cx="351.1" cy="359.1" r="3.4"/><circle cx="446.7" cy="296.1" r="3.4"/><circle cx="386.9" cy="315.6" r="3.4"/><circle cx="295.5" cy="314.4" r="3.4"/><circle cx="403.8" cy="376.6" r="3.4"/><circle cx="406.2" cy="376.0" r="3.4"/><circle cx="380.9" cy="329.8" r="3.4"/><circle cx="373.4" cy="375.9" r="3.4"/><circle cx="427.9" cy="346.4" r="3.4"/><circle cx="358.0" cy="360.1" r="3.4"/><circle cx="419.8" cy="280.9" r="3.4"/><circle cx="382.7" cy="313.1" r="3.4"/><circle cx="317.7" cy="172.6" r="3.4"/><circle cx="313.1" cy="354.5" r="3.4"/><circle cx="298.8" cy="309.2" r="3.4"/><circle cx="427.2" cy="375.9" r="3.4"/><circle cx="403.2" cy="344.2" r="3.4"/><circle cx="361.3" cy="353.5" r="3.4"/><circle cx="403.3" cy="314.8" r="3.4"/><circle cx="360.1" cy="382.6" r="3.4"/><circle cx="325.6" cy="345.8" r="3.4"/><circle cx="308.1" cy="293.0" r="3.4"/><circle cx="382.5" cy="299.2" r="3.4"/><circle cx="355.0" cy="278.2" r="3.4"/><circle cx="306.3" cy="363.1" r="3.4"/><circle cx="339.1" cy="369.3" r="3.4"/><circle cx="288.2" cy="274.3" r="3.4"/><circle cx="363.0" cy="337.1" r="3.4"/><circle cx="362.8" cy="366.8" r="3.4"/><circle cx="369.5" cy="362.3" r="3.4"/><circle cx="316.9" cy="257.7" r="3.4"/><circle cx="421.2" cy="362.1" r="3.4"/><circle cx="363.0" cy="352.6" r="3.4"/><circle cx="341.4" cy="388.0" r="3.4"/><circle cx="379.0" cy="265.0" r="3.4"/><circle cx="437.8" cy="323.9" r="3.4"/><circle cx="281.5" cy="344.6" r="3.4"/><circle cx="414.6" cy="311.6" r="3.4"/><circle cx="400.0" cy="369.0" r="3.4"/><circle cx="336.7" cy="231.9" r="3.4"/><circle cx="398.1" cy="324.7" r="3.4"/><circle cx="373.6" cy="246.0" r="3.4"/><circle cx="434.4" cy="352.4" r="3.4"/><circle cx="398.2" cy="365.0" r="3.4"/><circle cx="362.6" cy="244.6" r="3.4"/><circle cx="430.3" cy="369.0" r="3.4"/><circle cx="419.5" cy="334.0" r="3.4"/><circle cx="286.5" cy="363.7" r="3.4"/><circle cx="397.1" cy="221.0" r="3.4"/><circle cx="413.6" cy="319.1" r="3.4"/><circle cx="323.6" cy="347.9" r="3.4"/><circle cx="312.2" cy="370.8" r="3.4"/><circle cx="312.2" cy="389.2" r="3.4"/><circle cx="460.7" cy="238.7" r="3.4"/><circle cx="287.3" cy="344.1" r="3.4"/><circle cx="313.6" cy="365.5" r="3.4"/><circle cx="343.9" cy="236.0" r="3.4"/><circle cx="428.4" cy="361.1" r="3.4"/><circle cx="333.4" cy="334.9" r="3.4"/><circle cx="387.3" cy="352.3" r="3.4"/><circle cx="349.7" cy="344.3" r="3.4"/><circle cx="314.3" cy="314.9" r="3.4"/><circle cx="283.3" cy="325.8" r="3.4"/><circle cx="371.8" cy="295.3" r="3.4"/><circle cx="350.6" cy="357.6" r="3.4"/><circle cx="363.2" cy="313.6" r="3.4"/><circle cx="303.7" cy="318.3" r="3.4"/><circle cx="346.9" cy="299.2" r="3.4"/><circle cx="303.3" cy="270.5" r="3.4"/><circle cx="320.3" cy="335.8" r="3.4"/><circle cx="363.0" cy="259.5" r="3.4"/><circle cx="328.1" cy="392.8" r="3.4"/><circle cx="411.6" cy="273.9" r="3.4"/><circle cx="364.4" cy="320.1" r="3.4"/><circle cx="354.7" cy="354.1" r="3.4"/><circle cx="345.2" cy="257.7" r="3.4"/><circle cx="443.8" cy="281.8" r="3.4"/><circle cx="374.8" cy="371.8" r="3.4"/><circle cx="385.1" cy="273.9" r="3.4"/><circle cx="399.8" cy="325.1" r="3.4"/><circle cx="420.2" cy="175.3" r="3.4"/><circle cx="352.6" cy="336.5" r="3.4"/><circle cx="380.0" cy="319.9" r="3.4"/><circle cx="338.3" cy="378.2" r="3.4"/><circle cx="320.9" cy="327.0" r="3.4"/><circle cx="414.3" cy="269.9" r="3.4"/><circle cx="431.2" cy="261.8" r="3.4"/><circle cx="358.6" cy="373.1" r="3.4"/><circle cx="399.5" cy="328.1" r="3.4"/><circle cx="428.6" cy="280.1" r="3.4"/><circle cx="376.0" cy="369.9" r="3.4"/><circle cx="314.2" cy="338.4" r="3.4"/><circle cx="379.9" cy="338.0" r="3.4"/><circle cx="350.3" cy="189.1" r="3.4"/><circle cx="358.7" cy="339.5" r="3.4"/><circle cx="447.9" cy="345.6" r="3.4"/><circle cx="442.2" cy="251.6" r="3.4"/><circle cx="363.8" cy="335.0" r="3.4"/><circle cx="279.8" cy="351.8" r="3.4"/><circle cx="426.4" cy="209.1" r="3.4"/><circle cx="328.5" cy="370.7" r="3.4"/><circle cx="375.1" cy="362.4" r="3.4"/><circle cx="342.0" cy="353.1" r="3.4"/><circle cx="339.8" cy="199.2" r="3.4"/><circle cx="316.4" cy="254.2" r="3.4"/><circle cx="270.6" cy="351.6" r="3.4"/><circle cx="342.9" cy="324.6" r="3.4"/><circle cx="284.7" cy="273.9" r="3.4"/><circle cx="345.9" cy="246.9" r="3.4"/><circle cx="301.1" cy="331.7" r="3.4"/><circle cx="415.8" cy="230.9" r="3.4"/><circle cx="403.0" cy="356.5" r="3.4"/><circle cx="297.9" cy="344.2" r="3.4"/><circle cx="337.1" cy="307.7" r="3.4"/><circle cx="343.9" cy="237.3" r="3.4"/><circle cx="396.4" cy="370.8" r="3.4"/><circle cx="319.8" cy="328.1" r="3.4"/><circle cx="370.7" cy="341.1" r="3.4"/><circle cx="315.0" cy="328.1" r="3.4"/><circle cx="413.3" cy="375.0" r="3.4"/><circle cx="328.8" cy="325.4" r="3.4"/><circle cx="360.4" cy="253.1" r="3.4"/><circle cx="432.4" cy="359.4" r="3.4"/><circle cx="319.3" cy="61.3" r="3.4"/><circle cx="447.2" cy="287.2" r="3.4"/><circle cx="297.2" cy="362.4" r="3.4"/><circle cx="362.8" cy="362.0" r="3.4"/><circle cx="371.9" cy="368.2" r="3.4"/><circle cx="408.2" cy="345.6" r="3.4"/><circle cx="371.2" cy="340.5" r="3.4"/><circle cx="338.9" cy="348.1" r="3.4"/><circle cx="386.5" cy="329.9" r="3.4"/><circle cx="322.7" cy="325.9" r="3.4"/><circle cx="325.0" cy="324.1" r="3.4"/><circle cx="295.6" cy="295.0" r="3.4"/><circle cx="463.5" cy="338.8" r="3.4"/><circle cx="357.8" cy="363.7" r="3.4"/><circle cx="359.4" cy="269.2" r="3.4"/><circle cx="363.9" cy="340.9" r="3.4"/><circle cx="295.5" cy="316.0" r="3.4"/><circle cx="348.0" cy="204.6" r="3.4"/><circle cx="370.2" cy="337.8" r="3.4"/><circle cx="352.2" cy="365.6" r="3.4"/><circle cx="424.2" cy="345.4" r="3.4"/><circle cx="281.4" cy="323.7" r="3.4"/><circle cx="305.0" cy="374.9" r="3.4"/><circle cx="331.7" cy="188.3" r="3.4"/><circle cx="370.4" cy="309.1" r="3.4"/><circle cx="340.4" cy="358.3" r="3.4"/><circle cx="314.5" cy="358.6" r="3.4"/><circle cx="321.4" cy="325.6" r="3.4"/><circle cx="301.1" cy="302.3" r="3.4"/><circle cx="329.3" cy="356.5" r="3.4"/><circle cx="343.3" cy="366.6" r="3.4"/><circle cx="353.6" cy="364.2" r="3.4"/><circle cx="284.3" cy="372.1" r="3.4"/><circle cx="407.6" cy="255.4" r="3.4"/><circle cx="361.3" cy="326.8" r="3.4"/><circle cx="387.3" cy="331.5" r="3.4"/><circle cx="357.2" cy="302.6" r="3.4"/><circle cx="452.2" cy="321.8" r="3.4"/><circle cx="365.5" cy="306.2" r="3.4"/><circle cx="406.2" cy="293.3" r="3.4"/><circle cx="279.3" cy="333.6" r="3.4"/><circle cx="380.6" cy="377.6" r="3.4"/><circle cx="341.3" cy="306.8" r="3.4"/><circle cx="314.5" cy="354.7" r="3.4"/><circle cx="318.6" cy="261.4" r="3.4"/><circle cx="410.7" cy="342.4" r="3.4"/><circle cx="370.8" cy="275.3" r="3.4"/><circle cx="373.2" cy="197.6" r="3.4"/><circle cx="386.7" cy="368.5" r="3.4"/><circle cx="354.1" cy="368.1" r="3.4"/><circle cx="373.1" cy="276.7" r="3.4"/><circle cx="394.8" cy="376.5" r="3.4"/><circle cx="404.2" cy="358.8" r="3.4"/><circle cx="281.2" cy="338.0" r="3.4"/><circle cx="359.0" cy="192.3" r="3.4"/><circle cx="405.2" cy="341.1" r="3.4"/><circle cx="358.7" cy="327.2" r="3.4"/><circle cx="352.2" cy="348.3" r="3.4"/><circle cx="275.4" cy="424.7" r="3.4"/><circle cx="407.4" cy="374.4" r="3.4"/><circle cx="334.8" cy="373.8" r="3.4"/><circle cx="339.1" cy="362.8" r="3.4"/><circle cx="429.1" cy="294.1" r="3.4"/><circle cx="384.5" cy="366.1" r="3.4"/><circle cx="341.7" cy="303.5" r="3.4"/><circle cx="284.9" cy="287.5" r="3.4"/><circle cx="276.5" cy="365.5" r="3.4"/><circle cx="363.2" cy="311.1" r="3.4"/><circle cx="379.3" cy="306.6" r="3.4"/><circle cx="334.9" cy="362.4" r="3.4"/><circle cx="329.1" cy="349.9" r="3.4"/><circle cx="340.9" cy="381.2" r="3.4"/><circle cx="443.2" cy="297.4" r="3.4"/><circle cx="406.4" cy="328.8" r="3.4"/><circle cx="400.0" cy="407.7" r="3.4"/><circle cx="342.5" cy="378.9" r="3.4"/><circle cx="378.3" cy="169.1" r="3.4"/><circle cx="328.3" cy="368.6" r="3.4"/><circle cx="320.3" cy="342.7" r="3.4"/><circle cx="310.2" cy="339.0" r="3.4"/><circle cx="311.0" cy="379.2" r="3.4"/><circle cx="301.7" cy="305.9" r="3.4"/><circle cx="318.9" cy="357.1" r="3.4"/><circle cx="343.8" cy="381.7" r="3.4"/><circle cx="467.6" cy="269.7" r="3.4"/><circle cx="313.8" cy="389.0" r="3.4"/><circle cx="285.0" cy="312.9" r="3.4"/><circle cx="357.6" cy="310.0" r="3.4"/><circle cx="435.2" cy="382.3" r="3.4"/><circle cx="362.1" cy="361.5" r="3.4"/><circle cx="433.9" cy="344.0" r="3.4"/><circle cx="383.4" cy="367.7" r="3.4"/><circle cx="454.7" cy="316.1" r="3.4"/><circle cx="353.3" cy="351.1" r="3.4"/><circle cx="346.1" cy="235.7" r="3.4"/><circle cx="363.2" cy="383.8" r="3.4"/><circle cx="332.0" cy="365.9" r="3.4"/><circle cx="415.5" cy="330.1" r="3.4"/><circle cx="411.3" cy="342.4" r="3.4"/><circle cx="300.0" cy="339.9" r="3.4"/><circle cx="355.7" cy="350.0" r="3.4"/><circle cx="449.8" cy="334.9" r="3.4"/><circle cx="381.4" cy="249.3" r="3.4"/><circle cx="413.5" cy="344.8" r="3.4"/><circle cx="299.7" cy="341.2" r="3.4"/><circle cx="319.3" cy="303.9" r="3.4"/><circle cx="321.3" cy="338.2" r="3.4"/><circle cx="379.0" cy="322.0" r="3.4"/><circle cx="336.8" cy="396.0" r="3.4"/><circle cx="304.4" cy="293.5" r="3.4"/><circle cx="292.3" cy="283.5" r="3.4"/><circle cx="361.0" cy="220.4" r="3.4"/><circle cx="353.8" cy="315.5" r="3.4"/><circle cx="325.8" cy="366.5" r="3.4"/><circle cx="381.1" cy="364.5" r="3.4"/><circle cx="397.6" cy="348.8" r="3.4"/><circle cx="401.5" cy="337.3" r="3.4"/><circle cx="370.2" cy="361.5" r="3.4"/><circle cx="312.4" cy="342.1" r="3.4"/><circle cx="327.3" cy="353.7" r="3.4"/><circle cx="437.4" cy="263.8" r="3.4"/><circle cx="366.2" cy="339.3" r="3.4"/><circle cx="339.8" cy="376.8" r="3.4"/><circle cx="358.3" cy="364.4" r="3.4"/><circle cx="381.7" cy="349.6" r="3.4"/><circle cx="298.7" cy="371.7" r="3.4"/><circle cx="317.6" cy="349.5" r="3.4"/><circle cx="408.1" cy="334.7" r="3.4"/><circle cx="335.2" cy="379.8" r="3.4"/><circle cx="409.4" cy="332.6" r="3.4"/><circle cx="298.7" cy="338.3" r="3.4"/><circle cx="363.1" cy="351.6" r="3.4"/><circle cx="344.0" cy="346.6" r="3.4"/><circle cx="353.4" cy="316.0" r="3.4"/><circle cx="333.4" cy="336.0" r="3.4"/><circle cx="330.0" cy="407.7" r="3.4"/><circle cx="352.9" cy="311.8" r="3.4"/><circle cx="345.0" cy="342.8" r="3.4"/><circle cx="390.1" cy="246.9" r="3.4"/><circle cx="409.2" cy="356.5" r="3.4"/><circle cx="289.4" cy="389.9" r="3.4"/><circle cx="296.2" cy="352.8" r="3.4"/><circle cx="348.8" cy="350.7" r="3.4"/><circle cx="401.2" cy="341.4" r="3.4"/><circle cx="446.1" cy="271.0" r="3.4"/><circle cx="330.7" cy="320.7" r="3.4"/><circle cx="397.0" cy="355.7" r="3.4"/><circle cx="356.3" cy="211.6" r="3.4"/><circle cx="333.7" cy="393.7" r="3.4"/><circle cx="291.8" cy="288.0" r="3.4"/><circle cx="348.7" cy="362.5" r="3.4"/><circle cx="340.0" cy="348.6" r="3.4"/><circle cx="281.1" cy="375.0" r="3.4"/><circle cx="385.9" cy="371.8" r="3.4"/><circle cx="297.4" cy="228.8" r="3.4"/><circle cx="345.6" cy="332.6" r="3.4"/><circle cx="358.9" cy="296.4" r="3.4"/><circle cx="381.0" cy="345.7" r="3.4"/><circle cx="357.6" cy="311.9" r="3.4"/><circle cx="448.6" cy="322.3" r="3.4"/><circle cx="412.7" cy="264.9" r="3.4"/><circle cx="321.0" cy="218.2" r="3.4"/><circle cx="385.8" cy="359.4" r="3.4"/><circle cx="424.7" cy="373.7" r="3.4"/><circle cx="323.7" cy="292.7" r="3.4"/><circle cx="396.3" cy="362.1" r="3.4"/><circle cx="428.2" cy="267.6" r="3.4"/><circle cx="336.6" cy="341.3" r="3.4"/><circle cx="321.0" cy="321.4" r="3.4"/><circle cx="397.5" cy="163.3" r="3.4"/><circle cx="262.2" cy="347.9" r="3.4"/><circle cx="438.9" cy="226.8" r="3.4"/><circle cx="264.5" cy="341.7" r="3.4"/><circle cx="291.7" cy="280.4" r="3.4"/><circle cx="333.6" cy="351.9" r="3.4"/><circle cx="426.0" cy="326.3" r="3.4"/><circle cx="367.5" cy="333.7" r="3.4"/><circle cx="387.7" cy="373.8" r="3.4"/><circle cx="318.2" cy="170.1" r="3.4"/><circle cx="335.7" cy="367.1" r="3.4"/><circle cx="336.2" cy="369.2" r="3.4"/><circle cx="367.4" cy="258.2" r="3.4"/><circle cx="326.0" cy="111.6" r="3.4"/><circle cx="351.7" cy="300.2" r="3.4"/><circle cx="326.0" cy="336.8" r="3.4"/><circle cx="435.9" cy="335.1" r="3.4"/><circle cx="325.0" cy="152.6" r="3.4"/><circle cx="446.0" cy="339.4" r="3.4"/><circle cx="408.3" cy="367.3" r="3.4"/><circle cx="377.8" cy="364.2" r="3.4"/><circle cx="324.2" cy="345.9" r="3.4"/><circle cx="373.6" cy="233.3" r="3.4"/><circle cx="364.2" cy="378.0" r="3.4"/><circle cx="356.0" cy="301.0" r="3.4"/><circle cx="412.6" cy="337.9" r="3.4"/><circle cx="362.8" cy="334.2" r="3.4"/><circle cx="284.3" cy="339.9" r="3.4"/><circle cx="388.0" cy="330.2" r="3.4"/><circle cx="290.1" cy="332.3" r="3.4"/><circle cx="349.2" cy="369.5" r="3.4"/><circle cx="397.2" cy="335.5" r="3.4"/><circle cx="440.7" cy="299.8" r="3.4"/><circle cx="294.6" cy="296.2" r="3.4"/><circle cx="391.3" cy="332.2" r="3.4"/><circle cx="290.2" cy="377.5" r="3.4"/><circle cx="351.0" cy="315.7" r="3.4"/><circle cx="345.2" cy="353.6" r="3.4"/><circle cx="400.3" cy="347.7" r="3.4"/><circle cx="387.5" cy="335.8" r="3.4"/><circle cx="369.7" cy="333.9" r="3.4"/><circle cx="351.7" cy="352.0" r="3.4"/><circle cx="391.8" cy="333.9" r="3.4"/><circle cx="277.1" cy="234.1" r="3.4"/><circle cx="396.1" cy="351.8" r="3.4"/><circle cx="445.1" cy="323.6" r="3.4"/><circle cx="285.5" cy="285.6" r="3.4"/><circle cx="377.3" cy="308.3" r="3.4"/><circle cx="316.8" cy="371.7" r="3.4"/><circle cx="373.1" cy="315.4" r="3.4"/><circle cx="340.3" cy="383.4" r="3.4"/><circle cx="288.1" cy="362.8" r="3.4"/><circle cx="408.0" cy="247.4" r="3.4"/><circle cx="291.4" cy="265.6" r="3.4"/><circle cx="358.6" cy="266.5" r="3.4"/><circle cx="383.0" cy="371.4" r="3.4"/><circle cx="413.9" cy="375.4" r="3.4"/><circle cx="459.2" cy="330.7" r="3.4"/><circle cx="354.0" cy="350.3" r="3.4"/><circle cx="309.6" cy="365.4" r="3.4"/><circle cx="262.3" cy="337.3" r="3.4"/><circle cx="401.4" cy="174.9" r="3.4"/><circle cx="357.1" cy="248.2" r="3.4"/><circle cx="388.2" cy="376.7" r="3.4"/><circle cx="347.1" cy="343.9" r="3.4"/><circle cx="301.3" cy="376.8" r="3.4"/><circle cx="322.5" cy="240.1" r="3.4"/><circle cx="343.7" cy="359.2" r="3.4"/><circle cx="350.4" cy="222.4" r="3.4"/><circle cx="306.5" cy="380.3" r="3.4"/><circle cx="369.2" cy="340.7" r="3.4"/><circle cx="368.3" cy="383.2" r="3.4"/><circle cx="343.1" cy="382.1" r="3.4"/><circle cx="376.8" cy="337.6" r="3.4"/><circle cx="426.4" cy="352.4" r="3.4"/><circle cx="360.5" cy="355.2" r="3.4"/><circle cx="295.1" cy="366.6" r="3.4"/><circle cx="351.1" cy="342.8" r="3.4"/><circle cx="354.4" cy="347.6" r="3.4"/><circle cx="335.3" cy="330.6" r="3.4"/><circle cx="378.5" cy="290.5" r="3.4"/><circle cx="299.7" cy="339.3" r="3.4"/><circle cx="291.2" cy="381.6" r="3.4"/><circle cx="353.2" cy="345.5" r="3.4"/><circle cx="307.8" cy="338.8" r="3.4"/><circle cx="398.5" cy="355.8" r="3.4"/><circle cx="408.3" cy="383.7" r="3.4"/><circle cx="334.0" cy="375.9" r="3.4"/><circle cx="287.7" cy="429.9" r="3.4"/><circle cx="331.4" cy="329.8" r="3.4"/><circle cx="298.7" cy="367.8" r="3.4"/><circle cx="332.8" cy="358.4" r="3.4"/><circle cx="347.1" cy="326.7" r="3.4"/><circle cx="453.9" cy="270.1" r="3.4"/><circle cx="401.3" cy="365.5" r="3.4"/><circle cx="353.4" cy="221.4" r="3.4"/><circle cx="423.4" cy="345.1" r="3.4"/><circle cx="405.0" cy="312.6" r="3.4"/><circle cx="446.1" cy="346.3" r="3.4"/><circle cx="390.7" cy="381.8" r="3.4"/><circle cx="366.2" cy="366.9" r="3.4"/><circle cx="386.5" cy="342.5" r="3.4"/><circle cx="381.1" cy="329.7" r="3.4"/><circle cx="293.5" cy="296.5" r="3.4"/><circle cx="363.0" cy="161.8" r="3.4"/><circle cx="335.1" cy="299.8" r="3.4"/><circle cx="416.5" cy="363.4" r="3.4"/><circle cx="401.1" cy="368.0" r="3.4"/><circle cx="430.0" cy="306.3" r="3.4"/><circle cx="367.2" cy="371.7" r="3.4"/><circle cx="330.4" cy="334.1" r="3.4"/><circle cx="371.2" cy="369.6" r="3.4"/><circle cx="349.9" cy="271.3" r="3.4"/><circle cx="336.6" cy="375.7" r="3.4"/><circle cx="386.6" cy="331.1" r="3.4"/><circle cx="418.0" cy="350.1" r="3.4"/><circle cx="390.6" cy="364.4" r="3.4"/><circle cx="353.5" cy="301.1" r="3.4"/><circle cx="328.4" cy="343.6" r="3.4"/><circle cx="316.9" cy="364.0" r="3.4"/><circle cx="443.3" cy="290.9" r="3.4"/><circle cx="288.4" cy="309.3" r="3.4"/><circle cx="276.0" cy="339.0" r="3.4"/><circle cx="452.8" cy="304.1" r="3.4"/><circle cx="331.7" cy="316.4" r="3.4"/><circle cx="364.8" cy="164.1" r="3.4"/><circle cx="306.8" cy="352.0" r="3.4"/><circle cx="347.1" cy="382.9" r="3.4"/><circle cx="386.4" cy="225.5" r="3.4"/><circle cx="355.0" cy="290.5" r="3.4"/><circle cx="318.1" cy="362.5" r="3.4"/><circle cx="326.2" cy="382.1" r="3.4"/><circle cx="419.0" cy="353.4" r="3.4"/><circle cx="381.8" cy="340.3" r="3.4"/><circle cx="328.7" cy="287.6" r="3.4"/><circle cx="361.7" cy="356.4" r="3.4"/><circle cx="399.8" cy="313.4" r="3.4"/><circle cx="350.1" cy="320.1" r="3.4"/><circle cx="358.6" cy="307.0" r="3.4"/><circle cx="404.9" cy="376.7" r="3.4"/><circle cx="339.4" cy="372.8" r="3.4"/><circle cx="361.5" cy="312.9" r="3.4"/><circle cx="366.9" cy="341.2" r="3.4"/><circle cx="380.3" cy="367.1" r="3.4"/><circle cx="391.4" cy="363.8" r="3.4"/><circle cx="306.1" cy="351.0" r="3.4"/><circle cx="400.6" cy="355.7" r="3.4"/><circle cx="289.2" cy="360.4" r="3.4"/><circle cx="376.1" cy="354.9" r="3.4"/><circle cx="371.5" cy="383.6" r="3.4"/><circle cx="422.8" cy="408.3" r="3.4"/><circle cx="415.3" cy="239.5" r="3.4"/><circle cx="461.3" cy="390.8" r="3.4"/><circle cx="273.8" cy="347.0" r="3.4"/><circle cx="331.5" cy="219.2" r="3.4"/><circle cx="346.2" cy="317.9" r="3.4"/><circle cx="409.7" cy="180.7" r="3.4"/><circle cx="357.4" cy="363.0" r="3.4"/><circle cx="426.0" cy="291.1" r="3.4"/><circle cx="340.5" cy="300.0" r="3.4"/><circle cx="389.5" cy="361.3" r="3.4"/><circle cx="414.4" cy="353.2" r="3.4"/><circle cx="295.9" cy="327.2" r="3.4"/><circle cx="348.1" cy="343.3" r="3.4"/><circle cx="409.3" cy="348.8" r="3.4"/><circle cx="305.9" cy="350.3" r="3.4"/><circle cx="332.2" cy="351.9" r="3.4"/><circle cx="335.8" cy="377.8" r="3.4"/><circle cx="401.2" cy="377.4" r="3.4"/><circle cx="365.2" cy="347.8" r="3.4"/><circle cx="389.3" cy="327.7" r="3.4"/><circle cx="312.4" cy="324.6" r="3.4"/><circle cx="400.6" cy="357.3" r="3.4"/><circle cx="341.5" cy="306.7" r="3.4"/><circle cx="357.1" cy="300.1" r="3.4"/><circle cx="372.9" cy="326.6" r="3.4"/><circle cx="352.5" cy="342.3" r="3.4"/><circle cx="357.2" cy="298.7" r="3.4"/><circle cx="350.6" cy="280.6" r="3.4"/><circle cx="432.8" cy="332.5" r="3.4"/><circle cx="309.1" cy="356.7" r="3.4"/><circle cx="390.8" cy="343.6" r="3.4"/><circle cx="388.5" cy="350.1" r="3.4"/><circle cx="351.0" cy="331.7" r="3.4"/><circle cx="351.2" cy="303.1" r="3.4"/><circle cx="378.6" cy="338.0" r="3.4"/><circle cx="342.1" cy="343.1" r="3.4"/><circle cx="340.2" cy="359.7" r="3.4"/><circle cx="364.3" cy="240.5" r="3.4"/><circle cx="394.3" cy="323.7" r="3.4"/><circle cx="391.6" cy="361.5" r="3.4"/><circle cx="313.3" cy="239.5" r="3.4"/><circle cx="367.0" cy="359.6" r="3.4"/><circle cx="395.4" cy="324.3" r="3.4"/><circle cx="375.6" cy="304.2" r="3.4"/><circle cx="264.7" cy="298.2" r="3.4"/><circle cx="300.0" cy="336.5" r="3.4"/><circle cx="396.6" cy="319.9" r="3.4"/><circle cx="417.8" cy="307.0" r="3.4"/><circle cx="382.4" cy="354.7" r="3.4"/><circle cx="404.8" cy="244.1" r="3.4"/><circle cx="329.0" cy="345.0" r="3.4"/><circle cx="323.9" cy="329.0" r="3.4"/><circle cx="381.2" cy="370.0" r="3.4"/><circle cx="321.5" cy="274.9" r="3.4"/><circle cx="327.1" cy="275.3" r="3.4"/><circle cx="371.6" cy="309.7" r="3.4"/><circle cx="392.8" cy="159.3" r="3.4"/><circle cx="359.1" cy="367.2" r="3.4"/><circle cx="405.4" cy="334.2" r="3.4"/><circle cx="357.7" cy="241.1" r="3.4"/><circle cx="451.0" cy="345.2" r="3.4"/><circle cx="441.0" cy="256.6" r="3.4"/><circle cx="301.2" cy="353.2" r="3.4"/><circle cx="358.5" cy="274.5" r="3.4"/><circle cx="340.2" cy="314.2" r="3.4"/><circle cx="391.1" cy="218.1" r="3.4"/><circle cx="312.8" cy="306.2" r="3.4"/><circle cx="421.9" cy="369.1" r="3.4"/><circle cx="393.1" cy="359.3" r="3.4"/><circle cx="287.3" cy="304.9" r="3.4"/><circle cx="358.5" cy="396.3" r="3.4"/><circle cx="301.8" cy="345.4" r="3.4"/><circle cx="339.3" cy="357.2" r="3.4"/><circle cx="303.4" cy="322.1" r="3.4"/><circle cx="316.9" cy="387.2" r="3.4"/><circle cx="304.5" cy="346.4" r="3.4"/><circle cx="377.6" cy="277.8" r="3.4"/><circle cx="327.9" cy="280.7" r="3.4"/><circle cx="369.3" cy="318.0" r="3.4"/><circle cx="411.2" cy="308.3" r="3.4"/><circle cx="289.4" cy="341.5" r="3.4"/><circle cx="418.6" cy="336.1" r="3.4"/><circle cx="358.0" cy="355.0" r="3.4"/><circle cx="385.5" cy="324.3" r="3.4"/><circle cx="299.3" cy="373.8" r="3.4"/><circle cx="356.6" cy="298.3" r="3.4"/><circle cx="337.4" cy="344.4" r="3.4"/><circle cx="419.5" cy="326.4" r="3.4"/><circle cx="460.4" cy="327.7" r="3.4"/><circle cx="311.0" cy="331.7" r="3.4"/><circle cx="343.9" cy="372.3" r="3.4"/><circle cx="386.6" cy="190.6" r="3.4"/><circle cx="362.6" cy="370.1" r="3.4"/><circle cx="345.2" cy="333.7" r="3.4"/><circle cx="326.5" cy="363.5" r="3.4"/><circle cx="409.9" cy="268.5" r="3.4"/><circle cx="357.8" cy="231.9" r="3.4"/><circle cx="381.8" cy="319.5" r="3.4"/><circle cx="373.2" cy="157.0" r="3.4"/><circle cx="392.0" cy="403.2" r="3.4"/><circle cx="365.2" cy="286.6" r="3.4"/><circle cx="397.8" cy="392.5" r="3.4"/><circle cx="402.9" cy="361.8" r="3.4"/><circle cx="292.1" cy="255.5" r="3.4"/><circle cx="337.2" cy="399.1" r="3.4"/><circle cx="396.3" cy="342.2" r="3.4"/><circle cx="352.4" cy="366.9" r="3.4"/><circle cx="434.4" cy="287.3" r="3.4"/><circle cx="347.4" cy="344.7" r="3.4"/><circle cx="358.2" cy="379.1" r="3.4"/><circle cx="347.7" cy="359.2" r="3.4"/><circle cx="318.0" cy="375.5" r="3.4"/><circle cx="388.8" cy="206.7" r="3.4"/><circle cx="318.5" cy="325.0" r="3.4"/><circle cx="369.4" cy="153.2" r="3.4"/><circle cx="391.0" cy="323.8" r="3.4"/><circle cx="365.9" cy="289.3" r="3.4"/><circle cx="360.6" cy="320.9" r="3.4"/><circle cx="420.9" cy="244.6" r="3.4"/><circle cx="422.3" cy="359.1" r="3.4"/><circle cx="451.2" cy="336.2" r="3.4"/><circle cx="363.9" cy="301.1" r="3.4"/><circle cx="303.7" cy="318.2" r="3.4"/><circle cx="312.7" cy="314.4" r="3.4"/><circle cx="368.1" cy="351.3" r="3.4"/><circle cx="359.8" cy="333.1" r="3.4"/><circle cx="355.5" cy="346.2" r="3.4"/><circle cx="315.4" cy="318.9" r="3.4"/><circle cx="316.8" cy="354.4" r="3.4"/><circle cx="382.3" cy="354.4" r="3.4"/><circle cx="288.4" cy="356.6" r="3.4"/><circle cx="307.5" cy="357.9" r="3.4"/><circle cx="413.1" cy="406.0" r="3.4"/><circle cx="338.6" cy="394.7" r="3.4"/><circle cx="440.1" cy="311.5" r="3.4"/><circle cx="433.6" cy="330.6" r="3.4"/><circle cx="371.1" cy="366.5" r="3.4"/><circle cx="281.1" cy="323.3" r="3.4"/><circle cx="403.9" cy="349.3" r="3.4"/><circle cx="409.8" cy="311.0" r="3.4"/><circle cx="367.7" cy="355.8" r="3.4"/><circle cx="357.1" cy="171.8" r="3.4"/><circle cx="403.5" cy="381.8" r="3.4"/><circle cx="357.1" cy="400.3" r="3.4"/><circle cx="451.7" cy="221.5" r="3.4"/><circle cx="307.5" cy="312.6" r="3.4"/><circle cx="389.4" cy="360.9" r="3.4"/><circle cx="365.6" cy="341.6" r="3.4"/><circle cx="348.4" cy="358.8" r="3.4"/><circle cx="328.0" cy="357.7" r="3.4"/><circle cx="393.5" cy="359.7" r="3.4"/><circle cx="351.1" cy="348.7" r="3.4"/><circle cx="304.4" cy="329.6" r="3.4"/><circle cx="372.7" cy="355.6" r="3.4"/><circle cx="391.1" cy="339.1" r="3.4"/><circle cx="396.8" cy="379.1" r="3.4"/><circle cx="327.3" cy="271.8" r="3.4"/><circle cx="255.7" cy="324.0" r="3.4"/><circle cx="302.7" cy="369.8" r="3.4"/><circle cx="423.8" cy="360.6" r="3.4"/><circle cx="413.2" cy="334.3" r="3.4"/><circle cx="361.6" cy="237.7" r="3.4"/><circle cx="364.3" cy="385.6" r="3.4"/><circle cx="355.1" cy="331.1" r="3.4"/><circle cx="324.7" cy="341.5" r="3.4"/><circle cx="366.4" cy="316.8" r="3.4"/><circle cx="277.7" cy="382.8" r="3.4"/><circle cx="422.4" cy="363.7" r="3.4"/><circle cx="348.4" cy="322.9" r="3.4"/><circle cx="307.6" cy="359.2" r="3.4"/><circle cx="397.8" cy="372.2" r="3.4"/><circle cx="361.2" cy="355.1" r="3.4"/><circle cx="417.2" cy="361.4" r="3.4"/><circle cx="357.1" cy="188.4" r="3.4"/><circle cx="361.1" cy="365.9" r="3.4"/><circle cx="374.2" cy="377.5" r="3.4"/><circle cx="319.0" cy="337.1" r="3.4"/><circle cx="384.3" cy="349.2" r="3.4"/><circle cx="320.3" cy="335.8" r="3.4"/><circle cx="382.9" cy="319.2" r="3.4"/><circle cx="270.1" cy="303.7" r="3.4"/><circle cx="430.7" cy="343.7" r="3.4"/><circle cx="330.2" cy="287.0" r="3.4"/><circle cx="433.3" cy="336.5" r="3.4"/><circle cx="342.5" cy="362.8" r="3.4"/><circle cx="407.8" cy="339.8" r="3.4"/><circle cx="342.9" cy="376.0" r="3.4"/><circle cx="286.5" cy="274.4" r="3.4"/><circle cx="387.9" cy="322.1" r="3.4"/><circle cx="383.7" cy="366.3" r="3.4"/><circle cx="334.7" cy="152.2" r="3.4"/><circle cx="459.5" cy="357.2" r="3.4"/><circle cx="383.4" cy="402.6" r="3.4"/><circle cx="322.4" cy="397.0" r="3.4"/><circle cx="355.5" cy="384.1" r="3.4"/><circle cx="336.2" cy="317.9" r="3.4"/><circle cx="299.9" cy="349.1" r="3.4"/><circle cx="457.9" cy="327.5" r="3.4"/><circle cx="374.1" cy="368.5" r="3.4"/><circle cx="288.6" cy="315.7" r="3.4"/><circle cx="296.1" cy="324.2" r="3.4"/><circle cx="421.0" cy="357.9" r="3.4"/><circle cx="373.4" cy="363.3" r="3.4"/><circle cx="319.5" cy="350.4" r="3.4"/><circle cx="378.7" cy="365.1" r="3.4"/><circle cx="377.3" cy="373.2" r="3.4"/><circle cx="270.1" cy="425.0" r="3.4"/><circle cx="326.8" cy="324.3" r="3.4"/><circle cx="281.4" cy="363.2" r="3.4"/><circle cx="367.2" cy="279.3" r="3.4"/><circle cx="454.0" cy="332.3" r="3.4"/><circle cx="424.8" cy="372.4" r="3.4"/><circle cx="305.0" cy="297.4" r="3.4"/><circle cx="421.2" cy="327.3" r="3.4"/><circle cx="300.6" cy="352.6" r="3.4"/><circle cx="374.4" cy="341.3" r="3.4"/><circle cx="315.4" cy="313.0" r="3.4"/><circle cx="368.7" cy="254.4" r="3.4"/><circle cx="325.5" cy="337.5" r="3.4"/><circle cx="286.8" cy="330.7" r="3.4"/><circle cx="402.5" cy="352.7" r="3.4"/><circle cx="376.4" cy="352.7" r="3.4"/><circle cx="294.6" cy="297.7" r="3.4"/><circle cx="417.4" cy="323.4" r="3.4"/><circle cx="414.7" cy="273.3" r="3.4"/><circle cx="358.0" cy="358.1" r="3.4"/><circle cx="388.1" cy="347.4" r="3.4"/><circle cx="379.6" cy="314.6" r="3.4"/><circle cx="410.7" cy="154.1" r="3.4"/><circle cx="405.5" cy="386.4" r="3.4"/><circle cx="387.9" cy="373.9" r="3.4"/><circle cx="354.5" cy="333.4" r="3.4"/><circle cx="392.7" cy="322.2" r="3.4"/><circle cx="441.8" cy="315.8" r="3.4"/><circle cx="327.7" cy="327.0" r="3.4"/><circle cx="400.5" cy="260.3" r="3.4"/><circle cx="391.9" cy="342.6" r="3.4"/><circle cx="432.6" cy="269.3" r="3.4"/><circle cx="352.0" cy="323.5" r="3.4"/><circle cx="274.1" cy="318.2" r="3.4"/><circle cx="366.2" cy="351.2" r="3.4"/><circle cx="287.5" cy="373.3" r="3.4"/><circle cx="351.5" cy="354.9" r="3.4"/><circle cx="310.6" cy="211.6" r="3.4"/><circle cx="313.8" cy="333.8" r="3.4"/><circle cx="343.3" cy="295.7" r="3.4"/><circle cx="356.1" cy="336.1" r="3.4"/><circle cx="399.7" cy="250.8" r="3.4"/><circle cx="325.4" cy="356.5" r="3.4"/><circle cx="445.0" cy="255.9" r="3.4"/><circle cx="299.5" cy="341.4" r="3.4"/><circle cx="331.3" cy="374.0" r="3.4"/><circle cx="412.6" cy="165.5" r="3.4"/><circle cx="300.4" cy="329.8" r="3.4"/><circle cx="464.0" cy="186.7" r="3.4"/><circle cx="446.8" cy="303.1" r="3.4"/><circle cx="347.8" cy="314.2" r="3.4"/><circle cx="384.0" cy="324.7" r="3.4"/><circle cx="337.5" cy="210.0" r="3.4"/><circle cx="282.7" cy="375.8" r="3.4"/><circle cx="343.2" cy="364.3" r="3.4"/><circle cx="322.0" cy="368.4" r="3.4"/><circle cx="404.2" cy="251.1" r="3.4"/><circle cx="339.3" cy="220.3" r="3.4"/><circle cx="366.3" cy="360.5" r="3.4"/><circle cx="292.3" cy="313.1" r="3.4"/><circle cx="364.9" cy="321.2" r="3.4"/><circle cx="390.5" cy="343.0" r="3.4"/><circle cx="429.7" cy="317.8" r="3.4"/><circle cx="417.9" cy="381.4" r="3.4"/><circle cx="329.4" cy="364.2" r="3.4"/><circle cx="287.4" cy="373.7" r="3.4"/><circle cx="351.0" cy="255.7" r="3.4"/><circle cx="286.0" cy="363.2" r="3.4"/><circle cx="320.1" cy="320.3" r="3.4"/><circle cx="320.4" cy="314.7" r="3.4"/><circle cx="387.5" cy="255.0" r="3.4"/><circle cx="452.8" cy="261.8" r="3.4"/><circle cx="373.8" cy="310.6" r="3.4"/><circle cx="302.6" cy="285.5" r="3.4"/><circle cx="317.7" cy="331.0" r="3.4"/><circle cx="308.6" cy="362.7" r="3.4"/><circle cx="339.5" cy="281.8" r="3.4"/><circle cx="275.9" cy="331.8" r="3.4"/><circle cx="297.8" cy="344.3" r="3.4"/><circle cx="352.7" cy="268.6" r="3.4"/><circle cx="435.3" cy="302.0" r="3.4"/><circle cx="360.9" cy="329.6" r="3.4"/><circle cx="388.7" cy="303.7" r="3.4"/><circle cx="283.5" cy="346.3" r="3.4"/><circle cx="409.7" cy="382.7" r="3.4"/><circle cx="334.9" cy="366.2" r="3.4"/><circle cx="391.9" cy="357.5" r="3.4"/><circle cx="359.9" cy="296.5" r="3.4"/><circle cx="399.9" cy="291.2" r="3.4"/><circle cx="371.6" cy="260.0" r="3.4"/><circle cx="337.8" cy="402.1" r="3.4"/><circle cx="340.4" cy="306.6" r="3.4"/><circle cx="376.3" cy="116.7" r="3.4"/><circle cx="317.6" cy="333.0" r="3.4"/><circle cx="376.5" cy="357.2" r="3.4"/><circle cx="281.2" cy="373.9" r="3.4"/><circle cx="477.1" cy="311.9" r="3.4"/><circle cx="371.2" cy="344.8" r="3.4"/><circle cx="295.0" cy="241.9" r="3.4"/><circle cx="320.6" cy="356.9" r="3.4"/><circle cx="392.9" cy="236.6" r="3.4"/><circle cx="321.7" cy="361.7" r="3.4"/><circle cx="377.6" cy="353.6" r="3.4"/><circle cx="413.9" cy="341.7" r="3.4"/><circle cx="290.4" cy="326.3" r="3.4"/><circle cx="307.0" cy="360.7" r="3.4"/><circle cx="419.1" cy="325.7" r="3.4"/><circle cx="380.0" cy="343.5" r="3.4"/><circle cx="430.2" cy="157.9" r="3.4"/><circle cx="300.7" cy="355.1" r="3.4"/><circle cx="280.2" cy="368.4" r="3.4"/><circle cx="379.0" cy="291.1" r="3.4"/><circle cx="366.5" cy="360.4" r="3.4"/><circle cx="353.5" cy="369.4" r="3.4"/><circle cx="397.2" cy="334.9" r="3.4"/><circle cx="326.5" cy="350.3" r="3.4"/><circle cx="357.3" cy="192.3" r="3.4"/><circle cx="319.3" cy="330.2" r="3.4"/><circle cx="328.3" cy="372.2" r="3.4"/><circle cx="455.8" cy="212.4" r="3.4"/><circle cx="426.8" cy="330.6" r="3.4"/><circle cx="314.4" cy="331.7" r="3.4"/><circle cx="382.8" cy="354.1" r="3.4"/><circle cx="325.8" cy="238.7" r="3.4"/><circle cx="371.6" cy="334.3" r="3.4"/><circle cx="363.3" cy="275.8" r="3.4"/><circle cx="395.7" cy="387.5" r="3.4"/><circle cx="304.1" cy="317.7" r="3.4"/><circle cx="369.2" cy="359.4" r="3.4"/><circle cx="424.0" cy="337.5" r="3.4"/><circle cx="340.8" cy="246.8" r="3.4"/><circle cx="312.1" cy="334.6" r="3.4"/><circle cx="323.8" cy="367.4" r="3.4"/><circle cx="381.9" cy="305.3" r="3.4"/><circle cx="389.1" cy="342.5" r="3.4"/><circle cx="374.2" cy="349.1" r="3.4"/><circle cx="354.2" cy="351.7" r="3.4"/><circle cx="427.3" cy="353.5" r="3.4"/><circle cx="389.7" cy="361.3" r="3.4"/><circle cx="391.3" cy="336.6" r="3.4"/><circle cx="332.0" cy="376.4" r="3.4"/><circle cx="362.4" cy="303.2" r="3.4"/><circle cx="300.4" cy="368.3" r="3.4"/><circle cx="342.6" cy="309.7" r="3.4"/><circle cx="305.8" cy="342.1" r="3.4"/><circle cx="310.3" cy="340.1" r="3.4"/><circle cx="344.3" cy="323.1" r="3.4"/><circle cx="414.2" cy="355.2" r="3.4"/><circle cx="418.5" cy="381.3" r="3.4"/><circle cx="347.4" cy="244.9" r="3.4"/><circle cx="420.7" cy="266.5" r="3.4"/><circle cx="275.8" cy="320.3" r="3.4"/><circle cx="385.8" cy="273.4" r="3.4"/><circle cx="298.4" cy="356.4" r="3.4"/><circle cx="361.9" cy="209.4" r="3.4"/><circle cx="413.7" cy="381.5" r="3.4"/><circle cx="345.2" cy="272.9" r="3.4"/><circle cx="435.4" cy="199.1" r="3.4"/><circle cx="309.7" cy="301.1" r="3.4"/><circle cx="332.5" cy="146.5" r="3.4"/><circle cx="375.2" cy="369.9" r="3.4"/><circle cx="375.0" cy="348.3" r="3.4"/><circle cx="375.3" cy="347.2" r="3.4"/><circle cx="352.4" cy="308.5" r="3.4"/><circle cx="300.8" cy="259.9" r="3.4"/><circle cx="288.4" cy="369.1" r="3.4"/><circle cx="415.5" cy="360.7" r="3.4"/><circle cx="362.0" cy="328.1" r="3.4"/><circle cx="403.2" cy="364.8" r="3.4"/><circle cx="302.4" cy="303.6" r="3.4"/><circle cx="384.4" cy="364.7" r="3.4"/><circle cx="337.2" cy="314.8" r="3.4"/><circle cx="287.7" cy="362.6" r="3.4"/><circle cx="353.2" cy="350.5" r="3.4"/><circle cx="329.4" cy="247.0" r="3.4"/><circle cx="355.4" cy="369.5" r="3.4"/><circle cx="329.9" cy="340.5" r="3.4"/><circle cx="375.7" cy="381.6" r="3.4"/><circle cx="337.5" cy="389.2" r="3.4"/><circle cx="308.4" cy="371.5" r="3.4"/><circle cx="404.3" cy="390.9" r="3.4"/><circle cx="341.9" cy="283.1" r="3.4"/><circle cx="419.2" cy="384.0" r="3.4"/><circle cx="390.1" cy="320.6" r="3.4"/><circle cx="332.2" cy="331.8" r="3.4"/><circle cx="344.5" cy="168.5" r="3.4"/><circle cx="320.3" cy="366.4" r="3.4"/><circle cx="400.0" cy="350.3" r="3.4"/><circle cx="372.0" cy="190.5" r="3.4"/><circle cx="345.3" cy="383.5" r="3.4"/><circle cx="379.5" cy="247.6" r="3.4"/><circle cx="353.2" cy="330.6" r="3.4"/><circle cx="353.9" cy="346.5" r="3.4"/><circle cx="342.9" cy="247.5" r="3.4"/><circle cx="399.3" cy="338.0" r="3.4"/><circle cx="386.7" cy="313.5" r="3.4"/><circle cx="331.5" cy="320.2" r="3.4"/><circle cx="313.6" cy="398.5" r="3.4"/><circle cx="353.9" cy="327.9" r="3.4"/><circle cx="329.8" cy="358.5" r="3.4"/><circle cx="359.4" cy="262.2" r="3.4"/><circle cx="416.4" cy="228.9" r="3.4"/><circle cx="324.6" cy="390.2" r="3.4"/><circle cx="448.7" cy="321.9" r="3.4"/><circle cx="320.2" cy="308.3" r="3.4"/><circle cx="402.6" cy="372.7" r="3.4"/><circle cx="342.4" cy="344.4" r="3.4"/><circle cx="396.8" cy="160.4" r="3.4"/><circle cx="392.9" cy="347.6" r="3.4"/><circle cx="344.0" cy="361.0" r="3.4"/><circle cx="368.6" cy="351.5" r="3.4"/><circle cx="381.7" cy="336.4" r="3.4"/><circle cx="375.8" cy="350.7" r="3.4"/><circle cx="322.3" cy="339.3" r="3.4"/><circle cx="352.7" cy="365.3" r="3.4"/><circle cx="414.5" cy="129.8" r="3.4"/><circle cx="326.2" cy="280.3" r="3.4"/><circle cx="418.6" cy="350.0" r="3.4"/><circle cx="284.3" cy="340.4" r="3.4"/><circle cx="459.2" cy="320.4" r="3.4"/><circle cx="343.6" cy="362.8" r="3.4"/><circle cx="428.1" cy="373.5" r="3.4"/><circle cx="491.1" cy="311.3" r="3.4"/><circle cx="266.1" cy="328.0" r="3.4"/><circle cx="418.4" cy="351.4" r="3.4"/><circle cx="343.9" cy="320.9" r="3.4"/><circle cx="371.6" cy="329.4" r="3.4"/><circle cx="443.4" cy="295.6" r="3.4"/><circle cx="403.3" cy="347.0" r="3.4"/><circle cx="285.5" cy="331.8" r="3.4"/><circle cx="358.6" cy="355.1" r="3.4"/><circle cx="347.2" cy="359.8" r="3.4"/><circle cx="337.1" cy="384.7" r="3.4"/><circle cx="323.0" cy="373.5" r="3.4"/><circle cx="432.1" cy="365.5" r="3.4"/><circle cx="353.9" cy="360.1" r="3.4"/><circle cx="337.8" cy="379.5" r="3.4"/><circle cx="402.8" cy="382.6" r="3.4"/><circle cx="331.5" cy="381.3" r="3.4"/><circle cx="325.9" cy="309.4" r="3.4"/><circle cx="289.0" cy="273.6" r="3.4"/><circle cx="402.4" cy="387.1" r="3.4"/><circle cx="290.3" cy="376.4" r="3.4"/><circle cx="353.6" cy="350.5" r="3.4"/><circle cx="320.1" cy="368.0" r="3.4"/><circle cx="386.1" cy="303.2" r="3.4"/><circle cx="440.3" cy="373.3" r="3.4"/><circle cx="271.1" cy="370.1" r="3.4"/><circle cx="269.8" cy="371.0" r="3.4"/><circle cx="338.5" cy="390.8" r="3.4"/><circle cx="425.9" cy="337.9" r="3.4"/><circle cx="358.1" cy="342.4" r="3.4"/><circle cx="348.7" cy="313.2" r="3.4"/><circle cx="436.5" cy="337.8" r="3.4"/><circle cx="371.4" cy="275.5" r="3.4"/><circle cx="443.1" cy="311.7" r="3.4"/><circle cx="405.5" cy="358.8" r="3.4"/><circle cx="421.7" cy="374.1" r="3.4"/><circle cx="385.9" cy="348.3" r="3.4"/><circle cx="399.7" cy="354.7" r="3.4"/><circle cx="357.9" cy="350.8" r="3.4"/><circle cx="416.7" cy="347.3" r="3.4"/><circle cx="422.2" cy="237.1" r="3.4"/><circle cx="328.8" cy="353.8" r="3.4"/><circle cx="320.3" cy="312.9" r="3.4"/><circle cx="327.5" cy="322.2" r="3.4"/><circle cx="383.8" cy="312.9" r="3.4"/><circle cx="383.1" cy="381.0" r="3.4"/><circle cx="378.6" cy="376.7" r="3.4"/><circle cx="385.2" cy="295.4" r="3.4"/><circle cx="367.7" cy="377.2" r="3.4"/><circle cx="408.2" cy="334.3" r="3.4"/><circle cx="311.7" cy="284.2" r="3.4"/><circle cx="416.4" cy="344.7" r="3.4"/><circle cx="355.3" cy="349.3" r="3.4"/><circle cx="404.7" cy="375.9" r="3.4"/><circle cx="303.0" cy="323.3" r="3.4"/><circle cx="372.2" cy="375.9" r="3.4"/><circle cx="343.6" cy="355.9" r="3.4"/><circle cx="312.5" cy="149.6" r="3.4"/><circle cx="281.3" cy="329.0" r="3.4"/><circle cx="394.8" cy="376.5" r="3.4"/><circle cx="312.4" cy="333.2" r="3.4"/><circle cx="355.8" cy="346.0" r="3.4"/><circle cx="442.8" cy="347.0" r="3.4"/><circle cx="327.5" cy="257.7" r="3.4"/><circle cx="369.1" cy="347.2" r="3.4"/><circle cx="274.7" cy="309.4" r="3.4"/><circle cx="361.7" cy="292.6" r="3.4"/><circle cx="344.3" cy="309.6" r="3.4"/><circle cx="379.3" cy="367.9" r="3.4"/><circle cx="376.3" cy="358.2" r="3.4"/><circle cx="358.5" cy="313.5" r="3.4"/><circle cx="355.4" cy="320.9" r="3.4"/><circle cx="391.5" cy="380.6" r="3.4"/><circle cx="398.9" cy="329.6" r="3.4"/><circle cx="298.3" cy="337.4" r="3.4"/><circle cx="303.6" cy="336.3" r="3.4"/><circle cx="377.1" cy="317.7" r="3.4"/><circle cx="372.3" cy="151.6" r="3.4"/><circle cx="327.7" cy="318.4" r="3.4"/><circle cx="305.0" cy="325.8" r="3.4"/><circle cx="358.5" cy="346.9" r="3.4"/><circle cx="335.0" cy="389.7" r="3.4"/><circle cx="357.6" cy="338.4" r="3.4"/><circle cx="357.6" cy="354.2" r="3.4"/><circle cx="429.2" cy="332.2" r="3.4"/><circle cx="331.1" cy="343.3" r="3.4"/><circle cx="336.3" cy="185.9" r="3.4"/><circle cx="339.8" cy="342.4" r="3.4"/><circle cx="398.5" cy="201.8" r="3.4"/><circle cx="320.9" cy="361.7" r="3.4"/><circle cx="413.9" cy="290.7" r="3.4"/><circle cx="398.9" cy="369.8" r="3.4"/><circle cx="308.6" cy="351.9" r="3.4"/><circle cx="422.5" cy="349.8" r="3.4"/><circle cx="350.5" cy="288.1" r="3.4"/><circle cx="323.0" cy="366.3" r="3.4"/><circle cx="415.4" cy="353.8" r="3.4"/><circle cx="299.4" cy="377.7" r="3.4"/><circle cx="394.9" cy="247.6" r="3.4"/><circle cx="383.9" cy="341.4" r="3.4"/><circle cx="293.9" cy="375.3" r="3.4"/><circle cx="340.2" cy="318.8" r="3.4"/><circle cx="398.6" cy="342.1" r="3.4"/><circle cx="396.6" cy="375.1" r="3.4"/><circle cx="390.4" cy="366.4" r="3.4"/><circle cx="353.5" cy="315.1" r="3.4"/><circle cx="374.4" cy="317.3" r="3.4"/><circle cx="329.5" cy="350.9" r="3.4"/><circle cx="407.1" cy="358.4" r="3.4"/><circle cx="461.0" cy="387.6" r="3.4"/><circle cx="382.6" cy="348.4" r="3.4"/><circle cx="394.7" cy="386.1" r="3.4"/><circle cx="361.9" cy="367.4" r="3.4"/><circle cx="405.5" cy="160.5" r="3.4"/><circle cx="302.2" cy="311.4" r="3.4"/><circle cx="267.3" cy="368.9" r="3.4"/><circle cx="332.6" cy="232.0" r="3.4"/><circle cx="356.8" cy="334.9" r="3.4"/><circle cx="392.4" cy="331.8" r="3.4"/><circle cx="386.5" cy="372.0" r="3.4"/><circle cx="354.7" cy="401.6" r="3.4"/><circle cx="334.1" cy="345.7" r="3.4"/><circle cx="389.4" cy="300.5" r="3.4"/><circle cx="304.3" cy="314.2" r="3.4"/><circle cx="350.0" cy="221.1" r="3.4"/><circle cx="349.4" cy="358.2" r="3.4"/><circle cx="271.4" cy="343.7" r="3.4"/><circle cx="367.1" cy="352.5" r="3.4"/><circle cx="385.5" cy="344.5" r="3.4"/><circle cx="425.0" cy="249.0" r="3.4"/><circle cx="382.8" cy="348.1" r="3.4"/><circle cx="388.8" cy="326.7" r="3.4"/><circle cx="376.5" cy="365.1" r="3.4"/><circle cx="349.8" cy="325.9" r="3.4"/><circle cx="283.8" cy="359.3" r="3.4"/><circle cx="433.4" cy="377.0" r="3.4"/><circle cx="356.2" cy="383.9" r="3.4"/><circle cx="403.8" cy="319.2" r="3.4"/><circle cx="444.8" cy="338.2" r="3.4"/><circle cx="444.4" cy="368.5" r="3.4"/><circle cx="358.8" cy="153.9" r="3.4"/><circle cx="346.4" cy="308.6" r="3.4"/><circle cx="360.1" cy="345.5" r="3.4"/><circle cx="311.1" cy="342.0" r="3.4"/><circle cx="352.9" cy="333.6" r="3.4"/><circle cx="392.8" cy="311.0" r="3.4"/><circle cx="387.2" cy="343.3" r="3.4"/><circle cx="288.0" cy="366.2" r="3.4"/><circle cx="397.9" cy="389.5" r="3.4"/><circle cx="343.3" cy="400.2" r="3.4"/><circle cx="394.7" cy="377.5" r="3.4"/><circle cx="373.9" cy="351.3" r="3.4"/><circle cx="338.6" cy="336.3" r="3.4"/><circle cx="337.6" cy="354.1" r="3.4"/><circle cx="482.4" cy="206.4" r="3.4"/><circle cx="376.8" cy="205.8" r="3.4"/><circle cx="383.4" cy="348.8" r="3.4"/><circle cx="362.1" cy="357.8" r="3.4"/><circle cx="370.7" cy="343.3" r="3.4"/><circle cx="387.3" cy="338.3" r="3.4"/><circle cx="404.8" cy="321.6" r="3.4"/><circle cx="403.0" cy="266.4" r="3.4"/><circle cx="291.8" cy="357.0" r="3.4"/><circle cx="392.7" cy="356.0" r="3.4"/><circle cx="352.3" cy="340.0" r="3.4"/><circle cx="438.0" cy="274.6" r="3.4"/><circle cx="359.3" cy="375.7" r="3.4"/><circle cx="320.5" cy="327.0" r="3.4"/><circle cx="313.8" cy="250.2" r="3.4"/><circle cx="318.2" cy="312.5" r="3.4"/><circle cx="346.8" cy="366.3" r="3.4"/><circle cx="410.2" cy="288.5" r="3.4"/><circle cx="322.1" cy="349.8" r="3.4"/><circle cx="417.3" cy="330.3" r="3.4"/><circle cx="381.7" cy="355.0" r="3.4"/><circle cx="336.0" cy="114.0" r="3.4"/><circle cx="331.2" cy="336.4" r="3.4"/><circle cx="301.8" cy="334.3" r="3.4"/><circle cx="389.0" cy="297.8" r="3.4"/><circle cx="430.9" cy="278.4" r="3.4"/><circle cx="287.8" cy="381.2" r="3.4"/><circle cx="416.6" cy="322.1" r="3.4"/><circle cx="381.4" cy="248.5" r="3.4"/><circle cx="290.8" cy="325.4" r="3.4"/><circle cx="345.6" cy="349.7" r="3.4"/><circle cx="305.6" cy="337.0" r="3.4"/><circle cx="290.9" cy="308.6" r="3.4"/><circle cx="372.2" cy="362.3" r="3.4"/><circle cx="343.1" cy="377.3" r="3.4"/><circle cx="337.3" cy="372.1" r="3.4"/><circle cx="307.4" cy="341.3" r="3.4"/><circle cx="400.0" cy="375.0" r="3.4"/><circle cx="306.4" cy="206.3" r="3.4"/><circle cx="411.0" cy="377.7" r="3.4"/><circle cx="414.9" cy="215.7" r="3.4"/><circle cx="367.2" cy="370.0" r="3.4"/><circle cx="436.6" cy="328.6" r="3.4"/><circle cx="458.7" cy="302.2" r="3.4"/><circle cx="286.1" cy="276.9" r="3.4"/><circle cx="360.5" cy="337.2" r="3.4"/><circle cx="305.2" cy="346.2" r="3.4"/><circle cx="350.3" cy="221.4" r="3.4"/><circle cx="405.5" cy="360.2" r="3.4"/><circle cx="334.8" cy="328.2" r="3.4"/><circle cx="266.5" cy="329.5" r="3.4"/><circle cx="355.5" cy="212.9" r="3.4"/><circle cx="405.8" cy="352.9" r="3.4"/><circle cx="371.4" cy="119.3" r="3.4"/><circle cx="340.7" cy="351.0" r="3.4"/><circle cx="358.9" cy="330.7" r="3.4"/><circle cx="364.0" cy="409.0" r="3.4"/><circle cx="323.9" cy="376.8" r="3.4"/><circle cx="288.2" cy="320.7" r="3.4"/><circle cx="340.6" cy="331.5" r="3.4"/><circle cx="340.9" cy="308.6" r="3.4"/><circle cx="417.9" cy="258.3" r="3.4"/><circle cx="336.6" cy="200.3" r="3.4"/><circle cx="295.9" cy="297.3" r="3.4"/><circle cx="280.9" cy="378.9" r="3.4"/><circle cx="290.7" cy="339.3" r="3.4"/><circle cx="342.9" cy="293.0" r="3.4"/><circle cx="281.6" cy="374.8" r="3.4"/><circle cx="392.7" cy="321.4" r="3.4"/><circle cx="360.1" cy="348.2" r="3.4"/><circle cx="289.3" cy="344.5" r="3.4"/><circle cx="356.8" cy="332.6" r="3.4"/><circle cx="368.2" cy="162.1" r="3.4"/><circle cx="330.9" cy="348.9" r="3.4"/><circle cx="311.4" cy="285.8" r="3.4"/><circle cx="353.0" cy="355.2" r="3.4"/><circle cx="281.5" cy="290.9" r="3.4"/><circle cx="313.6" cy="339.3" r="3.4"/><circle cx="333.7" cy="338.9" r="3.4"/><circle cx="399.9" cy="308.6" r="3.4"/><circle cx="272.8" cy="368.6" r="3.4"/><circle cx="309.9" cy="354.6" r="3.4"/><circle cx="352.1" cy="373.5" r="3.4"/><circle cx="305.0" cy="276.8" r="3.4"/><circle cx="271.8" cy="372.7" r="3.4"/><circle cx="368.5" cy="349.9" r="3.4"/><circle cx="340.2" cy="334.9" r="3.4"/><circle cx="349.3" cy="386.4" r="3.4"/><circle cx="318.3" cy="297.7" r="3.4"/><circle cx="318.9" cy="225.7" r="3.4"/><circle cx="328.1" cy="367.8" r="3.4"/><circle cx="315.8" cy="373.5" r="3.4"/><circle cx="388.7" cy="374.3" r="3.4"/><circle cx="434.4" cy="297.0" r="3.4"/><circle cx="374.1" cy="353.6" r="3.4"/><circle cx="333.5" cy="316.7" r="3.4"/><circle cx="329.3" cy="317.1" r="3.4"/><circle cx="420.5" cy="331.6" r="3.4"/><circle cx="349.2" cy="331.3" r="3.4"/><circle cx="354.4" cy="303.9" r="3.4"/><circle cx="403.9" cy="335.7" r="3.4"/><circle cx="322.5" cy="314.0" r="3.4"/><circle cx="391.6" cy="363.7" r="3.4"/><circle cx="383.1" cy="371.9" r="3.4"/><circle cx="379.9" cy="362.6" r="3.4"/><circle cx="370.8" cy="209.3" r="3.4"/><circle cx="360.5" cy="373.5" r="3.4"/><circle cx="332.5" cy="102.6" r="3.4"/><circle cx="406.3" cy="345.8" r="3.4"/><circle cx="390.8" cy="284.6" r="3.4"/><circle cx="339.2" cy="299.7" r="3.4"/><circle cx="411.9" cy="359.2" r="3.4"/><circle cx="400.4" cy="138.8" r="3.4"/><circle cx="364.8" cy="397.1" r="3.4"/><circle cx="370.5" cy="369.4" r="3.4"/><circle cx="337.9" cy="308.6" r="3.4"/><circle cx="348.0" cy="308.8" r="3.4"/><circle cx="340.4" cy="325.8" r="3.4"/><circle cx="423.2" cy="322.5" r="3.4"/><circle cx="363.0" cy="322.4" r="3.4"/><circle cx="377.2" cy="362.1" r="3.4"/><circle cx="338.5" cy="382.6" r="3.4"/><circle cx="422.9" cy="262.5" r="3.4"/><circle cx="330.9" cy="389.2" r="3.4"/><circle cx="385.5" cy="330.9" r="3.4"/><circle cx="330.7" cy="360.0" r="3.4"/><circle cx="332.3" cy="285.8" r="3.4"/><circle cx="350.8" cy="326.1" r="3.4"/><circle cx="293.2" cy="349.8" r="3.4"/><circle cx="308.4" cy="328.3" r="3.4"/><circle cx="356.9" cy="326.2" r="3.4"/><circle cx="407.4" cy="202.5" r="3.4"/><circle cx="362.8" cy="127.5" r="3.4"/><circle cx="336.8" cy="351.1" r="3.4"/><circle cx="354.6" cy="346.7" r="3.4"/><circle cx="422.1" cy="311.1" r="3.4"/><circle cx="375.5" cy="352.2" r="3.4"/><circle cx="374.8" cy="336.6" r="3.4"/><circle cx="323.6" cy="337.0" r="3.4"/><circle cx="390.4" cy="267.6" r="3.4"/><circle cx="383.0" cy="346.3" r="3.4"/><circle cx="352.4" cy="367.9" r="3.4"/><circle cx="336.1" cy="353.8" r="3.4"/><circle cx="309.8" cy="345.7" r="3.4"/><circle cx="303.3" cy="321.3" r="3.4"/><circle cx="462.8" cy="232.2" r="3.4"/><circle cx="424.0" cy="343.6" r="3.4"/><circle cx="405.4" cy="369.3" r="3.4"/><circle cx="401.9" cy="357.2" r="3.4"/><circle cx="389.2" cy="350.4" r="3.4"/><circle cx="377.2" cy="318.7" r="3.4"/><circle cx="417.2" cy="334.0" r="3.4"/><circle cx="352.2" cy="317.0" r="3.4"/><circle cx="373.5" cy="372.0" r="3.4"/><circle cx="296.8" cy="330.3" r="3.4"/><circle cx="376.8" cy="383.4" r="3.4"/><circle cx="354.7" cy="334.8" r="3.4"/><circle cx="430.7" cy="353.9" r="3.4"/><circle cx="354.3" cy="357.0" r="3.4"/><circle cx="356.4" cy="362.3" r="3.4"/><circle cx="411.8" cy="331.5" r="3.4"/><circle cx="364.0" cy="363.0" r="3.4"/><circle cx="364.5" cy="346.8" r="3.4"/><circle cx="332.5" cy="314.5" r="3.4"/><circle cx="287.8" cy="330.8" r="3.4"/><circle cx="352.5" cy="384.3" r="3.4"/><circle cx="447.8" cy="227.7" r="3.4"/><circle cx="460.8" cy="348.5" r="3.4"/><circle cx="380.1" cy="336.3" r="3.4"/><circle cx="366.1" cy="239.2" r="3.4"/><circle cx="339.0" cy="341.2" r="3.4"/><circle cx="279.5" cy="327.4" r="3.4"/><circle cx="395.4" cy="343.5" r="3.4"/><circle cx="361.1" cy="369.8" r="3.4"/><circle cx="399.7" cy="366.1" r="3.4"/><circle cx="361.4" cy="155.2" r="3.4"/><circle cx="392.1" cy="368.1" r="3.4"/><circle cx="414.2" cy="349.2" r="3.4"/><circle cx="316.9" cy="326.2" r="3.4"/><circle cx="383.1" cy="340.8" r="3.4"/><circle cx="308.1" cy="233.9" r="3.4"/><circle cx="356.2" cy="306.9" r="3.4"/><circle cx="373.5" cy="311.6" r="3.4"/><circle cx="409.9" cy="354.2" r="3.4"/><circle cx="416.1" cy="341.2" r="3.4"/><circle cx="411.1" cy="355.1" r="3.4"/><circle cx="340.1" cy="328.0" r="3.4"/><circle cx="335.0" cy="227.2" r="3.4"/><circle cx="398.2" cy="294.3" r="3.4"/><circle cx="346.9" cy="398.7" r="3.4"/><circle cx="382.4" cy="184.5" r="3.4"/><circle cx="391.1" cy="350.3" r="3.4"/><circle cx="330.0" cy="265.1" r="3.4"/><circle cx="377.5" cy="374.1" r="3.4"/><circle cx="357.9" cy="183.2" r="3.4"/><circle cx="387.6" cy="381.3" r="3.4"/><circle cx="325.1" cy="341.6" r="3.4"/><circle cx="348.5" cy="310.2" r="3.4"/><circle cx="443.5" cy="356.4" r="3.4"/><circle cx="310.2" cy="361.0" r="3.4"/><circle cx="438.9" cy="313.3" r="3.4"/><circle cx="359.0" cy="334.2" r="3.4"/><circle cx="310.3" cy="359.8" r="3.4"/><circle cx="342.8" cy="338.9" r="3.4"/><circle cx="335.4" cy="273.9" r="3.4"/><circle cx="312.6" cy="352.0" r="3.4"/><circle cx="369.7" cy="361.2" r="3.4"/><circle cx="378.2" cy="359.2" r="3.4"/><circle cx="347.5" cy="310.1" r="3.4"/><circle cx="349.6" cy="311.7" r="3.4"/><circle cx="446.3" cy="324.5" r="3.4"/><circle cx="370.9" cy="379.3" r="3.4"/><circle cx="348.1" cy="384.5" r="3.4"/><circle cx="414.2" cy="373.1" r="3.4"/><circle cx="319.6" cy="362.1" r="3.4"/><circle cx="341.9" cy="356.3" r="3.4"/><circle cx="309.4" cy="188.8" r="3.4"/><circle cx="386.8" cy="385.6" r="3.4"/><circle cx="345.7" cy="318.8" r="3.4"/><circle cx="385.5" cy="303.9" r="3.4"/><circle cx="340.9" cy="340.6" r="3.4"/><circle cx="387.7" cy="344.7" r="3.4"/><circle cx="344.4" cy="343.3" r="3.4"/><circle cx="393.1" cy="308.1" r="3.4"/><circle cx="320.0" cy="345.9" r="3.4"/><circle cx="345.2" cy="367.7" r="3.4"/><circle cx="380.6" cy="333.8" r="3.4"/><circle cx="436.5" cy="348.3" r="3.4"/><circle cx="306.5" cy="273.2" r="3.4"/><circle cx="441.1" cy="313.4" r="3.4"/><circle cx="411.7" cy="382.8" r="3.4"/><circle cx="334.6" cy="361.4" r="3.4"/><circle cx="323.3" cy="361.3" r="3.4"/><circle cx="341.5" cy="343.3" r="3.4"/><circle cx="437.5" cy="306.9" r="3.4"/><circle cx="374.7" cy="331.3" r="3.4"/><circle cx="335.6" cy="270.0" r="3.4"/><circle cx="395.9" cy="324.7" r="3.4"/><circle cx="370.0" cy="362.7" r="3.4"/><circle cx="309.3" cy="310.8" r="3.4"/><circle cx="370.4" cy="326.9" r="3.4"/><circle cx="410.1" cy="386.8" r="3.4"/><circle cx="322.7" cy="289.6" r="3.4"/><circle cx="346.8" cy="306.6" r="3.4"/><circle cx="358.1" cy="342.9" r="3.4"/><circle cx="399.2" cy="377.8" r="3.4"/><circle cx="421.8" cy="342.4" r="3.4"/><circle cx="322.3" cy="310.8" r="3.4"/><circle cx="270.8" cy="331.8" r="3.4"/><circle cx="354.3" cy="278.0" r="3.4"/><circle cx="353.8" cy="214.5" r="3.4"/><circle cx="376.4" cy="358.2" r="3.4"/><circle cx="348.3" cy="352.8" r="3.4"/><circle cx="288.2" cy="339.3" r="3.4"/><circle cx="432.2" cy="347.4" r="3.4"/><circle cx="358.8" cy="273.4" r="3.4"/><circle cx="386.5" cy="357.7" r="3.4"/><circle cx="311.4" cy="318.4" r="3.4"/><circle cx="271.3" cy="349.5" r="3.4"/><circle cx="296.3" cy="374.5" r="3.4"/><circle cx="341.6" cy="348.0" r="3.4"/><circle cx="333.1" cy="376.7" r="3.4"/><circle cx="361.5" cy="337.5" r="3.4"/><circle cx="267.0" cy="354.2" r="3.4"/><circle cx="393.8" cy="319.0" r="3.4"/><circle cx="356.5" cy="262.4" r="3.4"/><circle cx="313.7" cy="316.0" r="3.4"/><circle cx="334.3" cy="293.1" r="3.4"/><circle cx="341.2" cy="286.2" r="3.4"/><circle cx="315.6" cy="211.9" r="3.4"/><circle cx="448.5" cy="325.4" r="3.4"/><circle cx="312.2" cy="292.7" r="3.4"/><circle cx="375.3" cy="180.8" r="3.4"/><circle cx="419.7" cy="365.5" r="3.4"/><circle cx="367.6" cy="244.9" r="3.4"/><circle cx="347.3" cy="286.3" r="3.4"/><circle cx="472.0" cy="253.1" r="3.4"/><circle cx="348.2" cy="387.4" r="3.4"/><circle cx="391.3" cy="277.5" r="3.4"/><circle cx="372.4" cy="294.3" r="3.4"/><circle cx="377.8" cy="378.7" r="3.4"/><circle cx="344.2" cy="311.0" r="3.4"/><circle cx="411.7" cy="343.2" r="3.4"/><circle cx="401.1" cy="264.3" r="3.4"/><circle cx="321.3" cy="323.9" r="3.4"/><circle cx="267.9" cy="333.0" r="3.4"/><circle cx="353.9" cy="387.0" r="3.4"/><circle cx="332.6" cy="342.8" r="3.4"/><circle cx="404.6" cy="268.0" r="3.4"/><circle cx="371.4" cy="354.5" r="3.4"/><circle cx="422.7" cy="351.9" r="3.4"/><circle cx="305.4" cy="277.9" r="3.4"/><circle cx="403.5" cy="338.0" r="3.4"/><circle cx="384.6" cy="372.8" r="3.4"/><circle cx="364.3" cy="325.1" r="3.4"/><circle cx="404.2" cy="342.8" r="3.4"/><circle cx="355.1" cy="329.8" r="3.4"/><circle cx="329.1" cy="382.6" r="3.4"/><circle cx="348.0" cy="277.9" r="3.4"/><circle cx="394.1" cy="351.8" r="3.4"/><circle cx="428.5" cy="366.8" r="3.4"/><circle cx="269.7" cy="304.8" r="3.4"/><circle cx="331.6" cy="243.9" r="3.4"/><circle cx="368.3" cy="297.8" r="3.4"/><circle cx="356.1" cy="339.3" r="3.4"/><circle cx="340.3" cy="306.4" r="3.4"/><circle cx="457.3" cy="255.8" r="3.4"/><circle cx="297.6" cy="315.8" r="3.4"/><circle cx="333.7" cy="272.3" r="3.4"/><circle cx="319.7" cy="374.6" r="3.4"/><circle cx="374.0" cy="318.0" r="3.4"/><circle cx="405.5" cy="326.9" r="3.4"/><circle cx="370.1" cy="239.5" r="3.4"/><circle cx="323.6" cy="256.2" r="3.4"/><circle cx="360.0" cy="333.2" r="3.4"/><circle cx="309.2" cy="317.6" r="3.4"/><circle cx="373.0" cy="281.0" r="3.4"/><circle cx="400.7" cy="227.4" r="3.4"/><circle cx="389.7" cy="361.3" r="3.4"/><circle cx="365.9" cy="342.6" r="3.4"/><circle cx="340.5" cy="310.3" r="3.4"/><circle cx="343.6" cy="372.2" r="3.4"/><circle cx="363.3" cy="330.9" r="3.4"/><circle cx="411.6" cy="277.8" r="3.4"/><circle cx="420.8" cy="336.7" r="3.4"/><circle cx="366.7" cy="193.9" r="3.4"/><circle cx="481.8" cy="328.8" r="3.4"/><circle cx="398.7" cy="386.8" r="3.4"/><circle cx="306.0" cy="366.6" r="3.4"/><circle cx="348.6" cy="331.2" r="3.4"/><circle cx="318.9" cy="346.1" r="3.4"/><circle cx="438.0" cy="374.4" r="3.4"/><circle cx="343.8" cy="382.0" r="3.4"/><circle cx="416.2" cy="338.7" r="3.4"/><circle cx="376.0" cy="292.4" r="3.4"/><circle cx="310.1" cy="375.6" r="3.4"/><circle cx="402.1" cy="361.0" r="3.4"/><circle cx="292.3" cy="280.3" r="3.4"/><circle cx="322.7" cy="257.2" r="3.4"/><circle cx="345.7" cy="334.5" r="3.4"/><circle cx="333.6" cy="256.3" r="3.4"/><circle cx="424.7" cy="282.6" r="3.4"/><circle cx="379.7" cy="354.2" r="3.4"/><circle cx="405.5" cy="383.3" r="3.4"/><circle cx="338.2" cy="331.4" r="3.4"/><circle cx="308.5" cy="283.2" r="3.4"/><circle cx="327.6" cy="307.4" r="3.4"/><circle cx="327.5" cy="262.9" r="3.4"/><circle cx="354.9" cy="381.9" r="3.4"/><circle cx="324.6" cy="346.9" r="3.4"/><circle cx="380.6" cy="357.6" r="3.4"/><circle cx="400.0" cy="369.7" r="3.4"/><circle cx="368.8" cy="368.4" r="3.4"/><circle cx="333.3" cy="298.8" r="3.4"/><circle cx="424.3" cy="350.3" r="3.4"/><circle cx="362.3" cy="342.4" r="3.4"/><circle cx="406.4" cy="380.8" r="3.4"/><circle cx="399.7" cy="392.1" r="3.4"/><circle cx="329.5" cy="312.4" r="3.4"/><circle cx="426.3" cy="362.9" r="3.4"/><circle cx="307.8" cy="312.6" r="3.4"/><circle cx="422.7" cy="322.2" r="3.4"/><circle cx="352.3" cy="323.7" r="3.4"/><circle cx="365.5" cy="348.1" r="3.4"/><circle cx="362.9" cy="357.0" r="3.4"/><circle cx="402.3" cy="323.7" r="3.4"/><circle cx="273.5" cy="323.1" r="3.4"/><circle cx="335.9" cy="241.0" r="3.4"/><circle cx="375.5" cy="370.7" r="3.4"/><circle cx="380.2" cy="160.5" r="3.4"/><circle cx="348.2" cy="378.4" r="3.4"/><circle cx="380.5" cy="358.0" r="3.4"/><circle cx="366.9" cy="314.9" r="3.4"/><circle cx="336.5" cy="378.7" r="3.4"/><circle cx="444.1" cy="368.9" r="3.4"/><circle cx="313.8" cy="357.6" r="3.4"/><circle cx="259.0" cy="367.5" r="3.4"/><circle cx="378.6" cy="368.2" r="3.4"/><circle cx="323.6" cy="333.0" r="3.4"/><circle cx="331.7" cy="381.3" r="3.4"/><circle cx="365.9" cy="333.3" r="3.4"/><circle cx="354.9" cy="341.9" r="3.4"/><circle cx="470.2" cy="245.2" r="3.4"/><circle cx="358.2" cy="346.8" r="3.4"/><circle cx="401.8" cy="338.6" r="3.4"/><circle cx="369.1" cy="352.3" r="3.4"/><circle cx="420.1" cy="289.9" r="3.4"/><circle cx="385.5" cy="147.3" r="3.4"/><circle cx="368.1" cy="287.3" r="3.4"/><circle cx="371.6" cy="361.9" r="3.4"/><circle cx="410.2" cy="354.9" r="3.4"/><circle cx="320.2" cy="343.5" r="3.4"/><circle cx="363.4" cy="343.5" r="3.4"/><circle cx="309.8" cy="294.6" r="3.4"/><circle cx="363.3" cy="352.9" r="3.4"/><circle cx="312.6" cy="336.6" r="3.4"/><circle cx="381.6" cy="268.9" r="3.4"/><circle cx="374.8" cy="375.6" r="3.4"/><circle cx="436.6" cy="260.9" r="3.4"/><circle cx="387.0" cy="286.4" r="3.4"/><circle cx="354.0" cy="357.6" r="3.4"/><circle cx="339.0" cy="168.5" r="3.4"/><circle cx="363.6" cy="359.8" r="3.4"/><circle cx="283.0" cy="339.5" r="3.4"/><circle cx="355.9" cy="312.7" r="3.4"/><circle cx="370.4" cy="249.1" r="3.4"/><circle cx="434.5" cy="287.8" r="3.4"/><circle cx="424.8" cy="349.1" r="3.4"/><circle cx="381.3" cy="315.7" r="3.4"/><circle cx="383.1" cy="378.3" r="3.4"/><circle cx="448.3" cy="307.5" r="3.4"/><circle cx="378.5" cy="345.8" r="3.4"/><circle cx="398.6" cy="363.6" r="3.4"/><circle cx="331.5" cy="369.8" r="3.4"/><circle cx="398.5" cy="374.9" r="3.4"/><circle cx="394.0" cy="187.2" r="3.4"/><circle cx="355.4" cy="268.6" r="3.4"/><circle cx="298.4" cy="335.0" r="3.4"/><circle cx="411.0" cy="353.9" r="3.4"/><circle cx="392.3" cy="379.2" r="3.4"/><circle cx="334.0" cy="354.4" r="3.4"/><circle cx="375.8" cy="332.4" r="3.4"/><circle cx="348.6" cy="335.3" r="3.4"/><circle cx="312.0" cy="290.7" r="3.4"/><circle cx="290.9" cy="227.1" r="3.4"/><circle cx="396.7" cy="340.4" r="3.4"/><circle cx="402.9" cy="371.5" r="3.4"/><circle cx="371.0" cy="391.2" r="3.4"/><circle cx="319.7" cy="375.8" r="3.4"/><circle cx="345.2" cy="334.3" r="3.4"/><circle cx="361.2" cy="391.1" r="3.4"/><circle cx="323.1" cy="349.8" r="3.4"/><circle cx="312.2" cy="353.6" r="3.4"/><circle cx="345.0" cy="343.7" r="3.4"/><circle cx="345.8" cy="345.7" r="3.4"/><circle cx="356.7" cy="305.3" r="3.4"/><circle cx="412.4" cy="316.9" r="3.4"/><circle cx="287.3" cy="276.8" r="3.4"/><circle cx="409.1" cy="341.9" r="3.4"/><circle cx="335.1" cy="285.6" r="3.4"/><circle cx="336.2" cy="286.3" r="3.4"/><circle cx="372.7" cy="386.4" r="3.4"/><circle cx="321.1" cy="369.6" r="3.4"/><circle cx="382.1" cy="287.0" r="3.4"/><circle cx="421.8" cy="335.2" r="3.4"/><circle cx="315.5" cy="376.5" r="3.4"/><circle cx="367.8" cy="343.4" r="3.4"/><circle cx="369.4" cy="374.7" r="3.4"/><circle cx="406.2" cy="377.7" r="3.4"/><circle cx="327.8" cy="285.2" r="3.4"/><circle cx="374.7" cy="333.7" r="3.4"/><circle cx="270.9" cy="371.4" r="3.4"/><circle cx="405.1" cy="302.3" r="3.4"/><circle cx="386.0" cy="272.1" r="3.4"/><circle cx="350.4" cy="380.7" r="3.4"/><circle cx="337.0" cy="248.8" r="3.4"/><circle cx="419.3" cy="347.3" r="3.4"/><circle cx="322.2" cy="336.2" r="3.4"/><circle cx="275.7" cy="382.7" r="3.4"/><circle cx="381.3" cy="268.7" r="3.4"/><circle cx="401.8" cy="357.8" r="3.4"/><circle cx="383.4" cy="357.8" r="3.4"/><circle cx="311.4" cy="297.0" r="3.4"/><circle cx="344.1" cy="351.4" r="3.4"/><circle cx="318.8" cy="340.6" r="3.4"/><circle cx="370.6" cy="364.2" r="3.4"/><circle cx="335.5" cy="356.1" r="3.4"/><circle cx="374.7" cy="318.1" r="3.4"/><circle cx="339.4" cy="341.3" r="3.4"/><circle cx="357.2" cy="356.8" r="3.4"/><circle cx="306.9" cy="319.2" r="3.4"/><circle cx="469.7" cy="307.6" r="3.4"/><circle cx="420.6" cy="344.8" r="3.4"/><circle cx="375.5" cy="346.3" r="3.4"/><circle cx="331.8" cy="359.5" r="3.4"/><circle cx="360.2" cy="303.4" r="3.4"/><circle cx="361.9" cy="347.4" r="3.4"/><circle cx="307.7" cy="219.8" r="3.4"/><circle cx="373.8" cy="274.5" r="3.4"/><circle cx="353.3" cy="251.4" r="3.4"/><circle cx="368.6" cy="286.1" r="3.4"/><circle cx="429.1" cy="321.2" r="3.4"/><circle cx="348.0" cy="394.6" r="3.4"/><circle cx="282.3" cy="342.5" r="3.4"/><circle cx="396.9" cy="355.9" r="3.4"/><circle cx="360.0" cy="239.5" r="3.4"/><circle cx="341.1" cy="352.4" r="3.4"/><circle cx="407.3" cy="296.9" r="3.4"/><circle cx="373.8" cy="346.8" r="3.4"/><circle cx="370.3" cy="350.4" r="3.4"/><circle cx="325.3" cy="371.3" r="3.4"/><circle cx="396.5" cy="354.1" r="3.4"/><circle cx="373.7" cy="388.2" r="3.4"/><circle cx="379.0" cy="374.5" r="3.4"/><circle cx="294.1" cy="375.6" r="3.4"/><circle cx="348.5" cy="376.1" r="3.4"/><circle cx="354.4" cy="377.1" r="3.4"/><circle cx="370.3" cy="356.1" r="3.4"/><circle cx="367.7" cy="348.6" r="3.4"/><circle cx="379.9" cy="368.1" r="3.4"/><circle cx="318.9" cy="328.2" r="3.4"/><circle cx="370.2" cy="356.8" r="3.4"/><circle cx="390.0" cy="323.7" r="3.4"/><circle cx="326.4" cy="362.9" r="3.4"/><circle cx="336.6" cy="235.0" r="3.4"/><circle cx="372.5" cy="330.4" r="3.4"/><circle cx="339.9" cy="325.5" r="3.4"/><circle cx="389.5" cy="363.5" r="3.4"/><circle cx="323.0" cy="341.2" r="3.4"/><circle cx="350.5" cy="295.3" r="3.4"/><circle cx="418.2" cy="322.2" r="3.4"/><circle cx="374.8" cy="337.9" r="3.4"/><circle cx="319.0" cy="306.4" r="3.4"/><circle cx="347.4" cy="398.9" r="3.4"/><circle cx="330.3" cy="375.3" r="3.4"/><circle cx="391.0" cy="367.1" r="3.4"/><circle cx="362.0" cy="365.0" r="3.4"/><circle cx="339.8" cy="338.7" r="3.4"/><circle cx="352.3" cy="349.7" r="3.4"/><circle cx="372.4" cy="332.9" r="3.4"/><circle cx="366.0" cy="338.3" r="3.4"/><circle cx="298.5" cy="275.8" r="3.4"/><circle cx="313.2" cy="358.7" r="3.4"/><circle cx="309.2" cy="356.1" r="3.4"/><circle cx="301.1" cy="368.2" r="3.4"/><circle cx="418.2" cy="240.9" r="3.4"/><circle cx="417.3" cy="374.8" r="3.4"/><circle cx="297.2" cy="266.7" r="3.4"/><circle cx="429.9" cy="317.7" r="3.4"/><circle cx="341.9" cy="328.7" r="3.4"/><circle cx="346.7" cy="364.5" r="3.4"/><circle cx="302.4" cy="333.3" r="3.4"/><circle cx="326.4" cy="306.1" r="3.4"/><circle cx="331.2" cy="314.2" r="3.4"/><circle cx="347.0" cy="338.5" r="3.4"/><circle cx="338.5" cy="350.9" r="3.4"/><circle cx="428.2" cy="315.3" r="3.4"/><circle cx="396.1" cy="384.8" r="3.4"/><circle cx="377.4" cy="354.1" r="3.4"/><circle cx="332.4" cy="374.4" r="3.4"/><circle cx="333.4" cy="394.0" r="3.4"/><circle cx="300.3" cy="268.8" r="3.4"/><circle cx="380.3" cy="342.6" r="3.4"/><circle cx="354.9" cy="328.7" r="3.4"/><circle cx="311.1" cy="197.2" r="3.4"/><circle cx="341.8" cy="378.5" r="3.4"/><circle cx="368.0" cy="346.3" r="3.4"/><circle cx="378.8" cy="346.9" r="3.4"/><circle cx="348.8" cy="347.1" r="3.4"/><circle cx="374.6" cy="310.0" r="3.4"/><circle cx="360.5" cy="336.9" r="3.4"/><circle cx="399.1" cy="314.1" r="3.4"/><circle cx="373.2" cy="370.2" r="3.4"/><circle cx="297.5" cy="250.1" r="3.4"/><circle cx="323.9" cy="280.2" r="3.4"/><circle cx="387.5" cy="371.4" r="3.4"/><circle cx="325.9" cy="328.7" r="3.4"/><circle cx="311.5" cy="373.3" r="3.4"/><circle cx="368.6" cy="332.8" r="3.4"/><circle cx="343.7" cy="353.9" r="3.4"/><circle cx="455.1" cy="343.3" r="3.4"/><circle cx="346.0" cy="339.5" r="3.4"/><circle cx="385.6" cy="333.2" r="3.4"/><circle cx="409.8" cy="327.6" r="3.4"/><circle cx="271.2" cy="385.6" r="3.4"/><circle cx="355.1" cy="297.3" r="3.4"/><circle cx="324.5" cy="367.6" r="3.4"/><circle cx="392.4" cy="340.7" r="3.4"/><circle cx="389.2" cy="292.9" r="3.4"/><circle cx="304.7" cy="184.4" r="3.4"/><circle cx="370.3" cy="283.3" r="3.4"/><circle cx="275.2" cy="332.8" r="3.4"/><circle cx="339.3" cy="369.1" r="3.4"/><circle cx="336.2" cy="363.1" r="3.4"/><circle cx="410.5" cy="279.1" r="3.4"/><circle cx="271.6" cy="315.2" r="3.4"/><circle cx="301.7" cy="294.3" r="3.4"/><circle cx="355.8" cy="280.1" r="3.4"/><circle cx="446.2" cy="298.1" r="3.4"/><circle cx="370.9" cy="271.7" r="3.4"/><circle cx="340.6" cy="349.5" r="3.4"/><circle cx="436.1" cy="328.0" r="3.4"/><circle cx="288.7" cy="364.7" r="3.4"/><circle cx="284.0" cy="357.0" r="3.4"/><circle cx="370.2" cy="279.8" r="3.4"/><circle cx="398.0" cy="338.1" r="3.4"/><circle cx="295.5" cy="297.8" r="3.4"/><circle cx="393.9" cy="291.6" r="3.4"/><circle cx="447.9" cy="298.0" r="3.4"/><circle cx="317.9" cy="245.4" r="3.4"/><circle cx="418.5" cy="327.3" r="3.4"/><circle cx="416.7" cy="356.6" r="3.4"/><circle cx="386.1" cy="366.9" r="3.4"/><circle cx="322.0" cy="326.7" r="3.4"/><circle cx="324.3" cy="322.8" r="3.4"/><circle cx="364.6" cy="379.7" r="3.4"/><circle cx="369.7" cy="338.1" r="3.4"/><circle cx="368.6" cy="339.9" r="3.4"/><circle cx="442.7" cy="319.1" r="3.4"/><circle cx="401.5" cy="364.5" r="3.4"/><circle cx="299.8" cy="359.2" r="3.4"/><circle cx="294.0" cy="323.7" r="3.4"/><circle cx="374.5" cy="332.6" r="3.4"/><circle cx="372.2" cy="341.6" r="3.4"/><circle cx="274.4" cy="356.9" r="3.4"/><circle cx="413.6" cy="291.1" r="3.4"/><circle cx="343.4" cy="361.1" r="3.4"/><circle cx="299.0" cy="303.6" r="3.4"/><circle cx="349.2" cy="378.4" r="3.4"/><circle cx="284.6" cy="358.3" r="3.4"/><circle cx="381.5" cy="322.9" r="3.4"/><circle cx="357.6" cy="373.8" r="3.4"/><circle cx="403.9" cy="392.3" r="3.4"/><circle cx="327.6" cy="321.2" r="3.4"/><circle cx="314.8" cy="300.7" r="3.4"/><circle cx="349.6" cy="328.0" r="3.4"/><circle cx="383.0" cy="342.3" r="3.4"/><circle cx="381.4" cy="356.4" r="3.4"/><circle cx="283.6" cy="351.9" r="3.4"/><circle cx="340.7" cy="324.6" r="3.4"/><circle cx="356.4" cy="328.9" r="3.4"/><circle cx="384.7" cy="350.8" r="3.4"/><circle cx="302.5" cy="338.7" r="3.4"/><circle cx="312.1" cy="245.3" r="3.4"/><circle cx="389.7" cy="269.7" r="3.4"/><circle cx="320.1" cy="348.1" r="3.4"/><circle cx="432.3" cy="246.6" r="3.4"/><circle cx="330.3" cy="221.1" r="3.4"/><circle cx="290.7" cy="316.6" r="3.4"/><circle cx="369.2" cy="375.9" r="3.4"/><circle cx="349.0" cy="297.8" r="3.4"/><circle cx="352.8" cy="358.0" r="3.4"/><circle cx="334.5" cy="246.7" r="3.4"/><circle cx="350.9" cy="371.0" r="3.4"/><circle cx="302.7" cy="374.7" r="3.4"/><circle cx="377.6" cy="352.4" r="3.4"/><circle cx="328.1" cy="292.1" r="3.4"/><circle cx="334.8" cy="345.7" r="3.4"/><circle cx="332.8" cy="248.8" r="3.4"/><circle cx="320.3" cy="352.4" r="3.4"/><circle cx="349.0" cy="180.6" r="3.4"/><circle cx="380.4" cy="346.2" r="3.4"/><circle cx="350.4" cy="282.0" r="3.4"/><circle cx="353.4" cy="186.5" r="3.4"/><circle cx="356.0" cy="363.6" r="3.4"/><circle cx="376.0" cy="344.7" r="3.4"/><circle cx="382.2" cy="376.9" r="3.4"/><circle cx="358.6" cy="368.3" r="3.4"/><circle cx="436.1" cy="272.0" r="3.4"/><circle cx="361.8" cy="406.0" r="3.4"/><circle cx="307.0" cy="374.1" r="3.4"/><circle cx="430.5" cy="300.9" r="3.4"/><circle cx="274.5" cy="358.6" r="3.4"/><circle cx="360.3" cy="353.2" r="3.4"/><circle cx="310.7" cy="368.2" r="3.4"/><circle cx="328.4" cy="297.4" r="3.4"/><circle cx="368.2" cy="196.3" r="3.4"/><circle cx="417.6" cy="354.6" r="3.4"/><circle cx="335.4" cy="386.2" r="3.4"/><circle cx="434.9" cy="380.4" r="3.4"/><circle cx="407.6" cy="270.5" r="3.4"/><circle cx="357.2" cy="359.7" r="3.4"/><circle cx="345.8" cy="319.3" r="3.4"/><circle cx="393.9" cy="347.1" r="3.4"/><circle cx="396.7" cy="140.8" r="3.4"/><circle cx="317.6" cy="330.1" r="3.4"/><circle cx="450.9" cy="333.3" r="3.4"/><circle cx="384.8" cy="254.0" r="3.4"/><circle cx="363.9" cy="355.3" r="3.4"/><circle cx="389.0" cy="321.2" r="3.4"/><circle cx="415.9" cy="335.3" r="3.4"/><circle cx="365.7" cy="375.1" r="3.4"/><circle cx="392.6" cy="363.0" r="3.4"/><circle cx="306.3" cy="206.2" r="3.4"/><circle cx="410.2" cy="318.7" r="3.4"/><circle cx="384.8" cy="250.0" r="3.4"/><circle cx="368.9" cy="344.8" r="3.4"/><circle cx="395.2" cy="357.2" r="3.4"/><circle cx="335.6" cy="343.2" r="3.4"/><circle cx="364.3" cy="372.6" r="3.4"/><circle cx="374.3" cy="367.1" r="3.4"/><circle cx="366.8" cy="365.9" r="3.4"/><circle cx="331.8" cy="365.3" r="3.4"/><circle cx="419.9" cy="367.4" r="3.4"/><circle cx="416.5" cy="331.3" r="3.4"/><circle cx="383.5" cy="320.6" r="3.4"/><circle cx="371.3" cy="316.0" r="3.4"/><circle cx="331.7" cy="378.0" r="3.4"/><circle cx="302.0" cy="309.7" r="3.4"/><circle cx="340.5" cy="354.0" r="3.4"/><circle cx="378.5" cy="275.9" r="3.4"/><circle cx="340.4" cy="344.4" r="3.4"/><circle cx="402.8" cy="149.3" r="3.4"/><circle cx="305.6" cy="314.6" r="3.4"/><circle cx="338.7" cy="378.6" r="3.4"/><circle cx="334.6" cy="340.1" r="3.4"/><circle cx="431.1" cy="328.3" r="3.4"/><circle cx="320.7" cy="373.3" r="3.4"/><circle cx="426.6" cy="373.2" r="3.4"/><circle cx="432.7" cy="243.0" r="3.4"/><circle cx="407.7" cy="373.2" r="3.4"/><circle cx="306.5" cy="243.9" r="3.4"/><circle cx="390.8" cy="305.5" r="3.4"/><circle cx="416.1" cy="344.9" r="3.4"/><circle cx="381.7" cy="215.0" r="3.4"/><circle cx="410.3" cy="318.3" r="3.4"/><circle cx="407.5" cy="333.8" r="3.4"/><circle cx="311.6" cy="349.8" r="3.4"/><circle cx="393.3" cy="331.2" r="3.4"/><circle cx="336.6" cy="255.8" r="3.4"/><circle cx="436.9" cy="313.8" r="3.4"/><circle cx="314.0" cy="281.0" r="3.4"/><circle cx="364.1" cy="341.9" r="3.4"/><circle cx="310.2" cy="250.3" r="3.4"/><circle cx="471.5" cy="316.7" r="3.4"/><circle cx="305.6" cy="370.5" r="3.4"/><circle cx="331.9" cy="346.8" r="3.4"/><circle cx="305.2" cy="306.4" r="3.4"/><circle cx="381.8" cy="367.0" r="3.4"/><circle cx="304.9" cy="293.5" r="3.4"/><circle cx="286.8" cy="316.3" r="3.4"/><circle cx="384.0" cy="376.0" r="3.4"/><circle cx="341.4" cy="285.6" r="3.4"/><circle cx="307.4" cy="329.6" r="3.4"/><circle cx="415.2" cy="287.2" r="3.4"/><circle cx="367.4" cy="338.6" r="3.4"/><circle cx="434.6" cy="358.7" r="3.4"/><circle cx="324.4" cy="302.8" r="3.4"/><circle cx="420.4" cy="312.3" r="3.4"/><circle cx="324.7" cy="384.3" r="3.4"/><circle cx="341.6" cy="360.9" r="3.4"/><circle cx="313.5" cy="353.1" r="3.4"/><circle cx="333.4" cy="376.1" r="3.4"/><circle cx="324.1" cy="332.2" r="3.4"/><circle cx="335.5" cy="322.8" r="3.4"/><circle cx="435.4" cy="287.9" r="3.4"/><circle cx="341.5" cy="283.0" r="3.4"/><circle cx="341.4" cy="267.1" r="3.4"/><circle cx="397.8" cy="407.4" r="3.4"/><circle cx="289.8" cy="275.4" r="3.4"/><circle cx="371.7" cy="342.1" r="3.4"/><circle cx="383.2" cy="348.8" r="3.4"/><circle cx="332.4" cy="318.2" r="3.4"/><circle cx="404.5" cy="219.9" r="3.4"/><circle cx="268.7" cy="340.7" r="3.4"/><circle cx="376.7" cy="284.2" r="3.4"/><circle cx="391.8" cy="351.5" r="3.4"/><circle cx="416.6" cy="333.1" r="3.4"/><circle cx="360.0" cy="346.5" r="3.4"/><circle cx="385.6" cy="318.0" r="3.4"/><circle cx="385.9" cy="361.0" r="3.4"/><circle cx="275.9" cy="363.2" r="3.4"/><circle cx="391.6" cy="308.9" r="3.4"/><circle cx="357.1" cy="202.3" r="3.4"/><circle cx="405.6" cy="363.3" r="3.4"/><circle cx="376.4" cy="204.4" r="3.4"/><circle cx="353.0" cy="349.2" r="3.4"/><circle cx="451.3" cy="388.5" r="3.4"/><circle cx="426.6" cy="295.9" r="3.4"/><circle cx="362.7" cy="387.4" r="3.4"/><circle cx="372.8" cy="223.6" r="3.4"/><circle cx="317.4" cy="365.4" r="3.4"/><circle cx="315.1" cy="342.2" r="3.4"/><circle cx="329.1" cy="352.6" r="3.4"/><circle cx="371.2" cy="323.4" r="3.4"/><circle cx="381.5" cy="278.2" r="3.4"/><circle cx="409.4" cy="332.4" r="3.4"/><circle cx="470.2" cy="308.1" r="3.4"/><circle cx="320.6" cy="164.6" r="3.4"/><circle cx="334.2" cy="236.6" r="3.4"/><circle cx="350.6" cy="375.9" r="3.4"/><circle cx="354.3" cy="349.3" r="3.4"/><circle cx="370.5" cy="363.1" r="3.4"/><circle cx="358.3" cy="277.3" r="3.4"/><circle cx="347.6" cy="319.5" r="3.4"/><circle cx="323.7" cy="297.3" r="3.4"/><circle cx="386.0" cy="359.2" r="3.4"/><circle cx="409.9" cy="370.1" r="3.4"/><circle cx="421.5" cy="292.0" r="3.4"/><circle cx="365.6" cy="374.2" r="3.4"/><circle cx="417.2" cy="301.8" r="3.4"/><circle cx="350.9" cy="382.7" r="3.4"/><circle cx="378.2" cy="330.1" r="3.4"/><circle cx="425.9" cy="365.2" r="3.4"/><circle cx="339.6" cy="340.8" r="3.4"/><circle cx="392.1" cy="234.0" r="3.4"/><circle cx="348.6" cy="357.4" r="3.4"/><circle cx="433.9" cy="296.1" r="3.4"/><circle cx="450.4" cy="326.5" r="3.4"/><circle cx="278.5" cy="371.9" r="3.4"/><circle cx="361.9" cy="368.8" r="3.4"/><circle cx="273.8" cy="373.8" r="3.4"/><circle cx="377.9" cy="378.6" r="3.4"/><circle cx="397.1" cy="301.7" r="3.4"/><circle cx="392.1" cy="354.7" r="3.4"/><circle cx="305.3" cy="235.6" r="3.4"/><circle cx="374.2" cy="329.1" r="3.4"/><circle cx="354.9" cy="373.7" r="3.4"/><circle cx="347.6" cy="294.7" r="3.4"/><circle cx="428.3" cy="213.9" r="3.4"/><circle cx="368.9" cy="362.7" r="3.4"/><circle cx="386.9" cy="365.3" r="3.4"/><circle cx="378.3" cy="195.4" r="3.4"/><circle cx="386.4" cy="337.7" r="3.4"/><circle cx="357.1" cy="392.4" r="3.4"/><circle cx="310.4" cy="327.0" r="3.4"/><circle cx="368.4" cy="348.2" r="3.4"/><circle cx="397.4" cy="361.6" r="3.4"/><circle cx="280.4" cy="331.2" r="3.4"/><circle cx="360.1" cy="384.7" r="3.4"/><circle cx="426.8" cy="374.0" r="3.4"/><circle cx="373.6" cy="194.3" r="3.4"/><circle cx="362.6" cy="350.1" r="3.4"/><circle cx="386.7" cy="335.5" r="3.4"/><circle cx="319.3" cy="357.6" r="3.4"/><circle cx="435.6" cy="314.2" r="3.4"/><circle cx="453.4" cy="231.7" r="3.4"/><circle cx="396.4" cy="248.1" r="3.4"/><circle cx="275.3" cy="344.9" r="3.4"/><circle cx="413.0" cy="386.8" r="3.4"/><circle cx="374.2" cy="316.5" r="3.4"/><circle cx="305.0" cy="369.2" r="3.4"/><circle cx="445.6" cy="238.6" r="3.4"/><circle cx="255.3" cy="299.4" r="3.4"/><circle cx="362.6" cy="365.6" r="3.4"/><circle cx="450.6" cy="289.6" r="3.4"/><circle cx="394.9" cy="375.6" r="3.4"/><circle cx="331.2" cy="302.3" r="3.4"/><circle cx="349.1" cy="231.2" r="3.4"/><circle cx="306.5" cy="346.1" r="3.4"/><circle cx="386.5" cy="292.1" r="3.4"/><circle cx="415.2" cy="270.8" r="3.4"/><circle cx="311.5" cy="306.9" r="3.4"/><circle cx="334.2" cy="378.1" r="3.4"/><circle cx="375.2" cy="354.1" r="3.4"/><circle cx="312.2" cy="337.7" r="3.4"/><circle cx="434.5" cy="311.9" r="3.4"/><circle cx="367.2" cy="342.9" r="3.4"/><circle cx="324.3" cy="322.4" r="3.4"/><circle cx="345.5" cy="361.9" r="3.4"/><circle cx="400.5" cy="262.3" r="3.4"/><circle cx="326.6" cy="309.9" r="3.4"/><circle cx="446.6" cy="355.4" r="3.4"/><circle cx="413.8" cy="263.6" r="3.4"/><circle cx="319.0" cy="353.9" r="3.4"/><circle cx="333.4" cy="344.9" r="3.4"/><circle cx="418.4" cy="405.1" r="3.4"/><circle cx="307.2" cy="364.9" r="3.4"/><circle cx="432.2" cy="220.8" r="3.4"/><circle cx="424.1" cy="388.6" r="3.4"/><circle cx="438.1" cy="387.3" r="3.4"/><circle cx="385.5" cy="337.5" r="3.4"/><circle cx="348.0" cy="339.6" r="3.4"/><circle cx="366.3" cy="357.4" r="3.4"/><circle cx="399.0" cy="336.2" r="3.4"/><circle cx="385.7" cy="312.3" r="3.4"/><circle cx="372.6" cy="345.9" r="3.4"/><circle cx="354.7" cy="336.5" r="3.4"/><circle cx="333.7" cy="357.6" r="3.4"/><circle cx="363.2" cy="308.1" r="3.4"/><circle cx="378.2" cy="349.8" r="3.4"/><circle cx="358.0" cy="350.1" r="3.4"/><circle cx="344.2" cy="353.1" r="3.4"/><circle cx="347.2" cy="390.2" r="3.4"/><circle cx="281.0" cy="328.2" r="3.4"/><circle cx="407.1" cy="364.7" r="3.4"/><circle cx="394.3" cy="330.8" r="3.4"/><circle cx="356.6" cy="312.8" r="3.4"/><circle cx="313.4" cy="260.6" r="3.4"/><circle cx="372.5" cy="345.1" r="3.4"/><circle cx="336.9" cy="375.2" r="3.4"/><circle cx="379.8" cy="229.7" r="3.4"/><circle cx="365.2" cy="349.2" r="3.4"/><circle cx="386.6" cy="384.9" r="3.4"/><circle cx="422.8" cy="338.7" r="3.4"/><circle cx="358.3" cy="349.5" r="3.4"/><circle cx="351.1" cy="402.6" r="3.4"/><circle cx="331.2" cy="365.0" r="3.4"/><circle cx="300.5" cy="317.2" r="3.4"/><circle cx="313.9" cy="191.3" r="3.4"/><circle cx="318.2" cy="367.4" r="3.4"/><circle cx="292.4" cy="351.7" r="3.4"/><circle cx="299.5" cy="329.7" r="3.4"/><circle cx="429.9" cy="355.0" r="3.4"/><circle cx="407.7" cy="377.6" r="3.4"/><circle cx="342.9" cy="334.1" r="3.4"/><circle cx="337.7" cy="344.3" r="3.4"/><circle cx="360.4" cy="365.5" r="3.4"/><circle cx="381.3" cy="273.4" r="3.4"/><circle cx="375.6" cy="323.6" r="3.4"/><circle cx="297.3" cy="304.3" r="3.4"/><circle cx="325.5" cy="298.7" r="3.4"/><circle cx="280.9" cy="309.8" r="3.4"/><circle cx="404.2" cy="353.4" r="3.4"/><circle cx="435.6" cy="309.8" r="3.4"/><circle cx="292.5" cy="335.0" r="3.4"/><circle cx="354.4" cy="342.3" r="3.4"/><circle cx="355.9" cy="258.4" r="3.4"/><circle cx="352.9" cy="386.6" r="3.4"/><circle cx="341.2" cy="383.8" r="3.4"/><circle cx="294.2" cy="376.6" r="3.4"/><circle cx="292.0" cy="341.6" r="3.4"/><circle cx="387.9" cy="377.5" r="3.4"/><circle cx="426.7" cy="368.1" r="3.4"/><circle cx="311.3" cy="197.5" r="3.4"/><circle cx="317.9" cy="359.9" r="3.4"/><circle cx="407.8" cy="342.4" r="3.4"/><circle cx="389.8" cy="371.5" r="3.4"/><circle cx="369.5" cy="330.2" r="3.4"/><circle cx="410.0" cy="278.9" r="3.4"/><circle cx="405.0" cy="348.4" r="3.4"/><circle cx="412.4" cy="365.1" r="3.4"/><circle cx="311.9" cy="366.8" r="3.4"/><circle cx="350.0" cy="273.3" r="3.4"/><circle cx="404.8" cy="283.0" r="3.4"/><circle cx="321.8" cy="381.1" r="3.4"/><circle cx="380.4" cy="286.4" r="3.4"/><circle cx="381.4" cy="349.7" r="3.4"/><circle cx="408.5" cy="387.7" r="3.4"/><circle cx="377.8" cy="366.0" r="3.4"/><circle cx="412.9" cy="393.1" r="3.4"/><circle cx="331.4" cy="352.3" r="3.4"/><circle cx="425.5" cy="304.7" r="3.4"/><circle cx="415.8" cy="376.8" r="3.4"/><circle cx="299.9" cy="369.2" r="3.4"/><circle cx="308.0" cy="358.6" r="3.4"/><circle cx="305.7" cy="349.4" r="3.4"/><circle cx="420.1" cy="337.5" r="3.4"/><circle cx="468.5" cy="279.2" r="3.4"/><circle cx="342.6" cy="192.9" r="3.4"/><circle cx="325.9" cy="370.3" r="3.4"/><circle cx="362.9" cy="338.4" r="3.4"/><circle cx="451.8" cy="267.6" r="3.4"/><circle cx="355.6" cy="365.1" r="3.4"/><circle cx="392.7" cy="183.7" r="3.4"/><circle cx="333.0" cy="361.7" r="3.4"/><circle cx="422.4" cy="345.4" r="3.4"/><circle cx="350.7" cy="342.2" r="3.4"/><circle cx="389.8" cy="209.1" r="3.4"/><circle cx="421.0" cy="259.9" r="3.4"/><circle cx="319.7" cy="395.1" r="3.4"/><circle cx="337.4" cy="360.9" r="3.4"/><circle cx="419.9" cy="325.9" r="3.4"/><circle cx="309.4" cy="374.5" r="3.4"/><circle cx="380.7" cy="367.4" r="3.4"/><circle cx="343.5" cy="393.4" r="3.4"/><circle cx="344.1" cy="316.2" r="3.4"/><circle cx="367.9" cy="293.2" r="3.4"/><circle cx="361.5" cy="347.1" r="3.4"/><circle cx="395.1" cy="353.2" r="3.4"/><circle cx="328.6" cy="344.9" r="3.4"/><circle cx="391.2" cy="296.4" r="3.4"/><circle cx="396.6" cy="303.6" r="3.4"/><circle cx="338.3" cy="370.3" r="3.4"/><circle cx="403.6" cy="383.9" r="3.4"/><circle cx="437.3" cy="318.7" r="3.4"/><circle cx="330.4" cy="359.5" r="3.4"/><circle cx="326.8" cy="248.3" r="3.4"/><circle cx="348.1" cy="375.7" r="3.4"/><circle cx="377.5" cy="358.6" r="3.4"/><circle cx="454.6" cy="266.5" r="3.4"/><circle cx="316.8" cy="293.3" r="3.4"/><circle cx="431.5" cy="368.3" r="3.4"/><circle cx="380.5" cy="198.7" r="3.4"/><circle cx="342.7" cy="301.1" r="3.4"/><circle cx="302.4" cy="349.3" r="3.4"/><circle cx="388.3" cy="199.0" r="3.4"/><circle cx="405.1" cy="262.0" r="3.4"/><circle cx="350.7" cy="334.7" r="3.4"/><circle cx="352.4" cy="380.3" r="3.4"/><circle cx="300.5" cy="350.5" r="3.4"/><circle cx="383.5" cy="383.6" r="3.4"/><circle cx="356.0" cy="143.0" r="3.4"/><circle cx="443.9" cy="314.3" r="3.4"/><circle cx="335.5" cy="351.8" r="3.4"/><circle cx="281.0" cy="343.0" r="3.4"/><circle cx="361.4" cy="354.5" r="3.4"/><circle cx="404.7" cy="308.3" r="3.4"/><circle cx="398.3" cy="337.6" r="3.4"/><circle cx="394.0" cy="363.1" r="3.4"/><circle cx="319.9" cy="355.3" r="3.4"/><circle cx="353.7" cy="202.7" r="3.4"/><circle cx="458.2" cy="355.5" r="3.4"/><circle cx="337.2" cy="350.2" r="3.4"/><circle cx="340.0" cy="323.3" r="3.4"/><circle cx="415.4" cy="380.7" r="3.4"/><circle cx="360.6" cy="258.4" r="3.4"/><circle cx="417.6" cy="320.9" r="3.4"/><circle cx="326.1" cy="385.6" r="3.4"/><circle cx="279.2" cy="398.5" r="3.4"/><circle cx="360.3" cy="352.9" r="3.4"/><circle cx="272.5" cy="360.8" r="3.4"/><circle cx="342.6" cy="336.0" r="3.4"/><circle cx="338.9" cy="353.7" r="3.4"/><circle cx="370.7" cy="376.8" r="3.4"/><circle cx="348.4" cy="362.6" r="3.4"/><circle cx="396.1" cy="287.2" r="3.4"/><circle cx="328.4" cy="316.7" r="3.4"/><circle cx="299.2" cy="344.8" r="3.4"/><circle cx="349.4" cy="345.2" r="3.4"/><circle cx="392.7" cy="340.5" r="3.4"/><circle cx="388.2" cy="334.4" r="3.4"/><circle cx="394.8" cy="263.7" r="3.4"/><circle cx="379.5" cy="332.2" r="3.4"/><circle cx="445.9" cy="323.4" r="3.4"/><circle cx="370.5" cy="373.6" r="3.4"/><circle cx="277.4" cy="300.4" r="3.4"/><circle cx="324.5" cy="356.7" r="3.4"/><circle cx="300.3" cy="332.7" r="3.4"/><circle cx="406.8" cy="381.7" r="3.4"/><circle cx="433.4" cy="361.9" r="3.4"/><circle cx="383.0" cy="349.3" r="3.4"/><circle cx="393.7" cy="265.3" r="3.4"/><circle cx="329.6" cy="300.6" r="3.4"/><circle cx="286.5" cy="337.7" r="3.4"/><circle cx="306.4" cy="249.2" r="3.4"/><circle cx="353.8" cy="338.0" r="3.4"/><circle cx="370.1" cy="349.0" r="3.4"/><circle cx="338.8" cy="324.2" r="3.4"/><circle cx="379.5" cy="299.9" r="3.4"/><circle cx="291.6" cy="373.7" r="3.4"/><circle cx="450.6" cy="370.6" r="3.4"/><circle cx="307.3" cy="315.5" r="3.4"/><circle cx="350.5" cy="353.9" r="3.4"/><circle cx="301.2" cy="327.0" r="3.4"/><circle cx="390.3" cy="355.5" r="3.4"/><circle cx="366.5" cy="406.6" r="3.4"/><circle cx="423.6" cy="322.6" r="3.4"/><circle cx="335.7" cy="361.2" r="3.4"/><circle cx="387.4" cy="383.8" r="3.4"/><circle cx="379.3" cy="236.3" r="3.4"/><circle cx="387.1" cy="353.8" r="3.4"/><circle cx="395.0" cy="321.5" r="3.4"/><circle cx="392.8" cy="349.8" r="3.4"/><circle cx="412.6" cy="323.5" r="3.4"/><circle cx="325.3" cy="292.6" r="3.4"/><circle cx="341.2" cy="321.4" r="3.4"/><circle cx="401.5" cy="312.6" r="3.4"/><circle cx="346.0" cy="285.9" r="3.4"/><circle cx="308.7" cy="293.1" r="3.4"/><circle cx="392.3" cy="298.5" r="3.4"/><circle cx="375.3" cy="328.9" r="3.4"/><circle cx="283.7" cy="349.0" r="3.4"/><circle cx="326.7" cy="234.4" r="3.4"/><circle cx="276.5" cy="374.1" r="3.4"/><circle cx="400.3" cy="320.8" r="3.4"/><circle cx="440.1" cy="355.8" r="3.4"/><circle cx="357.7" cy="354.8" r="3.4"/><circle cx="300.8" cy="259.4" r="3.4"/><circle cx="448.9" cy="317.2" r="3.4"/><circle cx="306.6" cy="365.9" r="3.4"/><circle cx="364.1" cy="353.7" r="3.4"/><circle cx="369.5" cy="359.8" r="3.4"/><circle cx="322.7" cy="373.5" r="3.4"/><circle cx="401.4" cy="372.3" r="3.4"/><circle cx="395.6" cy="328.6" r="3.4"/><circle cx="324.2" cy="173.8" r="3.4"/><circle cx="359.2" cy="274.6" r="3.4"/><circle cx="412.7" cy="376.6" r="3.4"/><circle cx="289.8" cy="365.6" r="3.4"/><circle cx="399.5" cy="295.8" r="3.4"/><circle cx="338.6" cy="378.8" r="3.4"/><circle cx="369.4" cy="348.5" r="3.4"/><circle cx="316.0" cy="382.4" r="3.4"/><circle cx="356.4" cy="346.3" r="3.4"/><circle cx="294.3" cy="216.4" r="3.4"/><circle cx="302.8" cy="355.5" r="3.4"/><circle cx="467.2" cy="230.2" r="3.4"/><circle cx="378.3" cy="193.5" r="3.4"/><circle cx="397.3" cy="370.7" r="3.4"/><circle cx="433.9" cy="365.8" r="3.4"/><circle cx="375.3" cy="346.4" r="3.4"/><circle cx="383.1" cy="373.3" r="3.4"/><circle cx="336.8" cy="356.4" r="3.4"/><circle cx="366.0" cy="334.6" r="3.4"/><circle cx="304.3" cy="380.8" r="3.4"/><circle cx="302.8" cy="272.6" r="3.4"/><circle cx="418.0" cy="387.2" r="3.4"/><circle cx="367.2" cy="330.6" r="3.4"/><circle cx="323.9" cy="278.7" r="3.4"/><circle cx="366.2" cy="204.2" r="3.4"/><circle cx="392.5" cy="245.1" r="3.4"/><circle cx="306.4" cy="362.7" r="3.4"/><circle cx="302.4" cy="344.6" r="3.4"/><circle cx="298.1" cy="343.2" r="3.4"/><circle cx="393.1" cy="369.3" r="3.4"/><circle cx="355.7" cy="369.7" r="3.4"/><circle cx="343.7" cy="332.9" r="3.4"/><circle cx="328.3" cy="359.1" r="3.4"/><circle cx="341.5" cy="355.2" r="3.4"/><circle cx="343.6" cy="321.5" r="3.4"/><circle cx="446.3" cy="318.0" r="3.4"/><circle cx="464.6" cy="337.4" r="3.4"/><circle cx="401.2" cy="359.4" r="3.4"/><circle cx="391.7" cy="344.8" r="3.4"/><circle cx="294.0" cy="378.0" r="3.4"/><circle cx="409.6" cy="333.8" r="3.4"/><circle cx="339.5" cy="312.6" r="3.4"/><circle cx="379.6" cy="177.8" r="3.4"/><circle cx="310.7" cy="224.2" r="3.4"/><circle cx="381.5" cy="373.0" r="3.4"/><circle cx="355.1" cy="319.1" r="3.4"/><circle cx="348.6" cy="345.4" r="3.4"/><circle cx="326.1" cy="353.2" r="3.4"/><circle cx="340.9" cy="354.4" r="3.4"/><circle cx="312.9" cy="342.2" r="3.4"/><circle cx="360.6" cy="291.9" r="3.4"/><circle cx="398.8" cy="353.1" r="3.4"/><circle cx="340.8" cy="362.1" r="3.4"/><circle cx="408.2" cy="338.4" r="3.4"/><circle cx="370.1" cy="379.9" r="3.4"/><circle cx="308.6" cy="338.6" r="3.4"/><circle cx="378.5" cy="358.0" r="3.4"/><circle cx="314.4" cy="338.5" r="3.4"/><circle cx="422.0" cy="322.4" r="3.4"/><circle cx="359.7" cy="284.0" r="3.4"/><circle cx="419.2" cy="362.7" r="3.4"/><circle cx="394.0" cy="324.4" r="3.4"/><circle cx="434.0" cy="127.9" r="3.4"/><circle cx="435.9" cy="327.1" r="3.4"/><circle cx="383.9" cy="278.4" r="3.4"/><circle cx="421.6" cy="316.3" r="3.4"/><circle cx="361.2" cy="367.4" r="3.4"/><circle cx="329.3" cy="43.7" r="3.4"/><circle cx="327.8" cy="329.3" r="3.4"/><circle cx="417.8" cy="284.7" r="3.4"/><circle cx="400.8" cy="223.4" r="3.4"/><circle cx="428.6" cy="321.5" r="3.4"/><circle cx="326.8" cy="345.6" r="3.4"/><circle cx="342.1" cy="398.2" r="3.4"/><circle cx="340.1" cy="349.8" r="3.4"/><circle cx="345.9" cy="369.8" r="3.4"/><circle cx="388.2" cy="192.8" r="3.4"/><circle cx="344.8" cy="345.6" r="3.4"/><circle cx="327.1" cy="386.3" r="3.4"/><circle cx="304.8" cy="167.5" r="3.4"/><circle cx="374.8" cy="346.4" r="3.4"/><circle cx="331.5" cy="356.7" r="3.4"/><circle cx="309.9" cy="357.0" r="3.4"/><circle cx="406.1" cy="341.4" r="3.4"/><circle cx="345.2" cy="317.5" r="3.4"/><circle cx="285.9" cy="323.8" r="3.4"/><circle cx="292.4" cy="346.5" r="3.4"/><circle cx="369.9" cy="354.6" r="3.4"/><circle cx="354.7" cy="371.5" r="3.4"/><circle cx="429.9" cy="341.0" r="3.4"/><circle cx="315.7" cy="247.8" r="3.4"/><circle cx="301.5" cy="234.2" r="3.4"/><circle cx="316.3" cy="383.1" r="3.4"/><circle cx="348.4" cy="365.9" r="3.4"/><circle cx="377.1" cy="324.3" r="3.4"/><circle cx="378.8" cy="345.5" r="3.4"/><circle cx="434.0" cy="290.8" r="3.4"/><circle cx="362.7" cy="161.3" r="3.4"/><circle cx="346.3" cy="183.6" r="3.4"/><circle cx="306.1" cy="370.6" r="3.4"/><circle cx="329.5" cy="311.7" r="3.4"/><circle cx="417.4" cy="362.0" r="3.4"/><circle cx="440.2" cy="347.9" r="3.4"/><circle cx="330.9" cy="361.2" r="3.4"/><circle cx="439.7" cy="295.7" r="3.4"/><circle cx="389.5" cy="331.5" r="3.4"/><circle cx="401.9" cy="329.1" r="3.4"/><circle cx="299.6" cy="305.8" r="3.4"/></g>
<line x1="363.4" y1="321.7" x2="560.5" y2="98.8" stroke="#666666" stroke-width="2.8"/><polygon points="571.4,86.4 564.5,103.7 555.1,95.4" fill="#666666"/><line x1="363.4" y1="321.7" x2="111.0" y2="244.2" stroke="#6b2f2f" stroke-width="2.8"/><polygon points="95.2,239.4 113.8,238.6 110.1,250.5" fill="#6b2f2f"/><line x1="363.4" y1="321.7" x2="87.2" y2="336.3" stroke="#0b6b3b" stroke-width="2.8"/><polygon points="70.7,337.2 87.8,330.0 88.5,342.5" fill="#0b6b3b"/><line x1="363.4" y1="321.7" x2="634.9" y2="349.9" stroke="#000000" stroke-width="2.8"/><polygon points="651.3,351.6 633.2,356.0 634.5,343.6" fill="#000000"/><line x1="363.4" y1="321.7" x2="644.1" y2="352.4" stroke="#ff00ff" stroke-width="2.8"/><polygon points="660.5,354.2 642.4,358.5 643.8,346.1" fill="#ff00ff"/><line x1="363.4" y1="321.7" x2="616.2" y2="368.7" stroke="#000000" stroke-width="2.8"/><polygon points="632.4,371.7 614.1,374.6 616.3,362.4" fill="#000000"/>
<g stroke="#000" stroke-width="1.75" stroke-dasharray="4.3 0.75" fill="none">
<line x1="47.35" y1="321.7" x2="679.9" y2="321.7"/>
<line x1="363.4" y1="0.7" x2="363.4" y2="642.8"/>
</g>
<g stroke="#000" stroke-width="1.9" fill="none">
<polyline points="47.35,0 47.35,642.8 679.9,642.8 679.9,0"/>
<line x1="47.35" y1="0.8" x2="679.9" y2="0.8" stroke="#222" stroke-width="1.8"/>
</g>
<g stroke="#000" stroke-width="1.7"><line x1="56.5" y1="639.8" x2="56.5" y2="647.0"/><line x1="209.9" y1="639.8" x2="209.9" y2="647.0"/><line x1="363.4" y1="639.8" x2="363.4" y2="647.0"/><line x1="516.7" y1="639.8" x2="516.7" y2="647.0"/><line x1="670.1" y1="639.8" x2="670.1" y2="647.0"/><line x1="42.9" y1="10.2" x2="50.3" y2="10.2"/><line x1="42.9" y1="166.0" x2="50.3" y2="166.0"/><line x1="42.9" y1="321.7" x2="50.3" y2="321.7"/><line x1="42.9" y1="477.3" x2="50.3" y2="477.3"/><line x1="42.9" y1="632.9" x2="50.3" y2="632.9"/></g>
<g font-size="22.5px" fill="#111">
<text x="39" y="16.5" text-anchor="end">1.0</text>
<text x="37.2" y="639.9" text-anchor="end">-1.0</text>
<text x="35.8" y="671.2">-1.0</text>
<text x="655.2" y="671.2">1.0</text>
<text x="399.8" y="444.6" font-size="23.2px">n=4,729</text>
</g>
<g font-size="27.5px" font-weight="bold">
<text transform="translate(488.3 81.3) scale(1 1.085)" fill="#666666" font-size="27.6px">CT (grayscale)</text>
<text transform="translate(52.5 234.6) scale(1 1.085)" fill="#6b2f2f">Zr/K</text>
<text transform="translate(51.6 367) scale(1 1.085)" fill="#0b6b3b" font-size="27.3px">inc./coh.</text>
<text transform="translate(630.5 342.3) scale(1 1.085)" fill="#000000">Sr</text>
<text transform="translate(630.3 380.6) scale(1 1.085)" fill="#000000">Rb</text>
<text transform="translate(655 361) scale(1 1.085)" fill="#ff00ff">Ti</text>
<text transform="translate(270.2 678.9) scale(1 1.06)" fill="#336699" font-size="28.5px">PC 1 (74.76%)</text>
<text transform="translate(25.4 410.8) rotate(-90) scale(0.967 1)" fill="#000080" font-size="27.9px">PC 2 (10.96%)</text>
</g>
</svg>
</body>
</html>
